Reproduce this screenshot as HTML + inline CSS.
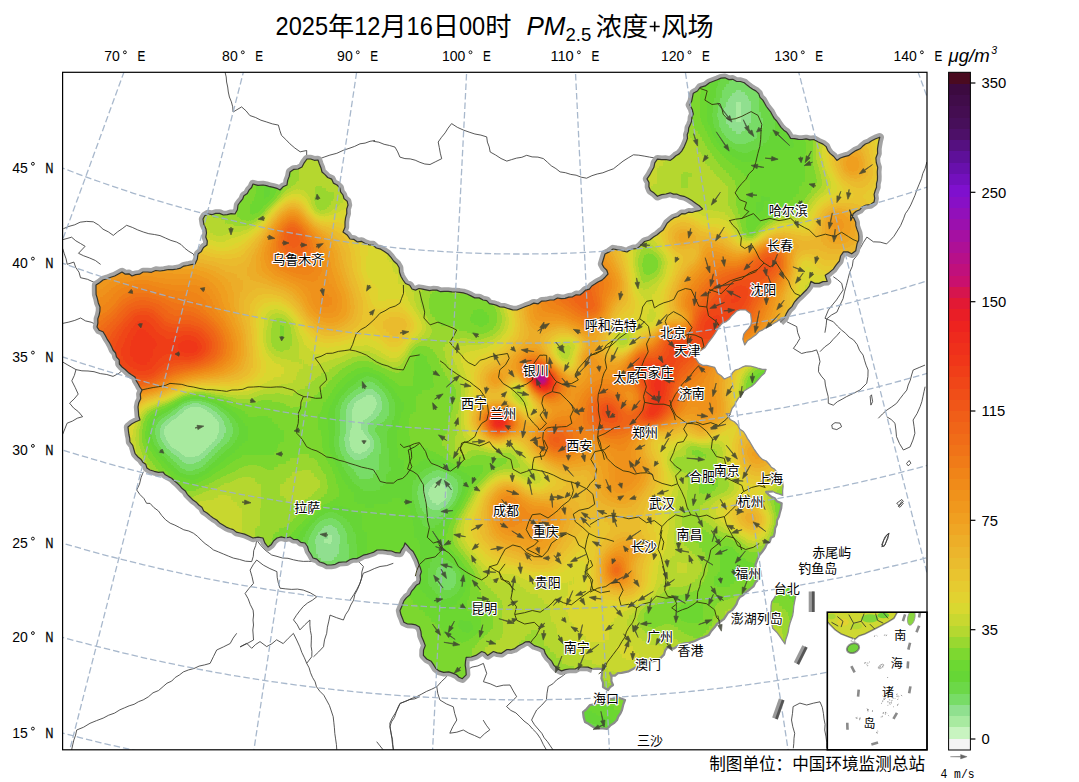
<!DOCTYPE html>
<html lang="zh"><head><meta charset="utf-8"><title>PM2.5浓度+风场</title>
<style>html,body{margin:0;padding:0;background:#fff}svg{display:block}text{fill:#000}.c{font-family:"Liberation Sans","Noto Sans CJK SC",sans-serif;font-size:13px;stroke:#fff;stroke-width:2.2px;stroke-linejoin:round;paint-order:stroke}.n{font-family:"Liberation Sans","Noto Sans CJK SC",sans-serif;font-size:12px}.t{font-family:"Liberation Sans","Noto Sans CJK SC",sans-serif;font-size:26.2px}</style></head>
<body>
<svg width="1079" height="782" viewBox="0 0 1079 782">
<defs>
<clipPath id="frame"><rect x="62.6" y="72.3" width="864.4" height="677.5"/></clipPath>
<clipPath id="insetclip"><rect x="827.3" y="612.2" width="99.70000000000005" height="137.5999999999999"/></clipPath><clipPath id="insetland"><path d="M825.8,610.8 L897.7,610.8 L893.8,618.0 L887.5,621.9 L879.8,626.1 L872.2,629.9 L864.5,633.8 L858.7,635.7 L854.9,638.8 L849.2,636.8 L841.5,633.8 L835.7,629.9 L830.0,624.2 L825.8,619.4Z"/></clipPath>
<clipPath id="china"><path d="M96.0,285.0 L99.6,282.7 L103.0,280.0 L107.0,278.8 L110.8,277.3 L114.7,276.0 L118.4,274.0 L122.0,272.0 L125.0,274.1 L129.0,273.8 L132.0,276.0 L135.6,274.6 L139.6,274.2 L143.0,272.0 L147.3,272.0 L151.5,272.3 L155.7,270.5 L160.0,271.0 L164.2,270.4 L168.4,269.5 L172.8,269.6 L177.0,269.0 L180.6,268.1 L183.9,266.1 L187.6,265.5 L191.3,264.6 L195.0,264.0 L197.3,259.2 L198.0,254.0 L201.4,251.4 L203.5,247.5 L207.0,245.0 L207.3,241.0 L205.8,237.0 L206.5,233.0 L206.0,229.0 L203.8,224.2 L203.0,219.0 L204.8,215.8 L208.0,214.0 L211.9,214.7 L215.7,213.4 L219.6,213.4 L223.4,215.0 L227.3,214.7 L231.1,213.6 L235.0,214.0 L237.4,209.8 L238.0,205.0 L240.2,202.0 L242.6,199.2 L243.9,195.7 L247.3,193.5 L249.0,190.2 L251.6,187.5 L253.0,184.0 L257.9,185.3 L263.0,185.0 L266.5,185.6 L269.9,186.7 L273.4,187.4 L276.8,188.3 L280.0,190.0 L283.0,186.8 L287.0,185.0 L287.6,180.6 L289.2,176.4 L290.0,172.0 L293.6,169.4 L298.1,169.0 L302.0,167.0 L304.2,162.8 L307.0,159.0 L310.7,159.0 L314.3,160.3 L318.0,160.0 L319.4,164.0 L321.0,167.9 L322.0,172.0 L325.0,174.6 L327.7,177.5 L331.6,179.1 L333.4,183.1 L337.0,185.0 L339.8,187.8 L340.6,191.9 L343.0,195.0 L344.0,198.6 L347.2,201.2 L348.0,205.0 L346.7,209.1 L346.8,213.5 L345.6,217.7 L345.0,222.0 L345.0,227.2 L343.0,232.0 L347.1,234.9 L350.0,239.0 L354.0,239.4 L357.4,241.9 L361.7,241.4 L365.2,243.5 L368.9,244.8 L373.0,245.0 L376.3,248.0 L380.7,249.2 L384.4,251.5 L388.0,254.0 L391.0,257.4 L393.6,261.0 L397.0,264.0 L399.2,267.7 L399.5,272.2 L400.9,276.2 L403.0,280.0 L405.5,283.5 L409.7,285.3 L412.0,289.0 L415.5,290.1 L419.0,288.5 L422.5,289.2 L426.0,289.9 L429.5,290.7 L433.0,290.0 L436.8,290.1 L440.5,291.7 L444.3,291.4 L448.2,291.4 L451.9,291.9 L455.7,292.0 L459.5,292.3 L463.3,292.9 L467.0,294.0 L470.9,295.9 L474.7,297.9 L479.2,297.9 L483.0,300.0 L486.7,300.6 L489.4,303.7 L493.2,304.3 L496.7,305.4 L500.0,307.0 L504.3,307.2 L508.5,308.7 L512.6,309.9 L517.0,310.0 L521.3,308.3 L525.6,306.5 L530.0,305.0 L533.8,303.1 L538.2,303.8 L541.8,301.1 L546.0,301.0 L550.0,300.0 L553.9,300.0 L557.4,298.0 L561.3,298.6 L565.1,298.4 L568.8,297.1 L572.6,296.8 L576.1,294.8 L580.0,295.0 L582.9,292.7 L585.6,290.1 L589.4,289.1 L591.8,286.0 L594.9,284.1 L598.0,282.0 L602.0,280.1 L605.1,277.2 L608.0,274.0 L606.8,270.2 L603.9,267.4 L602.0,264.0 L603.5,259.0 L605.0,254.0 L609.2,251.9 L613.0,249.0 L616.5,249.7 L620.1,250.1 L623.5,251.1 L627.0,252.0 L630.0,249.9 L633.4,248.8 L637.2,248.5 L640.0,246.1 L644.6,241.5 L649.7,240.0 L653.9,236.8 L657.2,234.7 L660.1,232.2 L663.2,229.9 L665.2,226.6 L667.1,223.2 L670.1,220.6 L673.7,217.9 L678.1,216.5 L681.7,213.7 L685.3,213.8 L688.6,212.2 L692.2,212.5 L695.6,211.3 L699.3,210.7 L702.6,209.0 L699.3,205.8 L695.6,203.2 L691.9,200.6 L688.1,198.2 L684.0,196.3 L680.5,195.7 L677.1,194.2 L673.5,194.1 L670.1,192.8 L665.9,194.0 L661.5,194.6 L657.4,196.3 L654.1,193.1 L650.4,190.5 L648.9,186.7 L649.0,182.5 L647.0,178.9 L649.6,175.2 L651.7,171.2 L653.9,167.3 L654.8,162.9 L657.4,159.2 L661.6,159.7 L665.9,159.5 L670.1,160.4 L673.2,158.3 L675.9,155.7 L679.2,153.9 L681.7,151.1 L684.3,146.6 L686.3,141.8 L687.5,138.4 L687.2,134.8 L688.4,131.4 L688.7,127.9 L690.3,124.6 L691.6,121.2 L691.9,117.4 L693.3,114.0 L692.2,109.2 L689.8,104.8 L691.7,101.1 L692.5,97.2 L693.3,93.2 L697.4,91.0 L700.2,87.4 L705.3,85.9 L709.5,82.7 L713.4,81.2 L717.3,79.7 L721.1,78.1 L725.0,77.8 L728.8,79.6 L732.7,79.3 L736.3,81.3 L740.4,81.5 L744.3,82.7 L747.0,85.1 L749.8,87.2 L752.7,89.2 L755.8,90.9 L758.7,93.6 L760.0,97.4 L762.8,100.1 L764.6,103.3 L766.4,106.5 L768.6,109.4 L770.8,112.2 L772.4,115.3 L774.2,118.4 L776.7,121.0 L778.8,124.2 L781.0,127.4 L783.7,130.2 L786.7,132.3 L788.8,135.2 L790.6,138.4 L794.5,138.6 L798.3,139.4 L802.2,139.5 L806.1,138.9 L809.9,139.9 L813.8,139.5 L818.3,142.0 L823.0,144.1 L826.1,146.6 L827.7,150.3 L830.0,153.4 L833.8,156.5 L836.9,160.4 L840.4,158.0 L844.4,156.6 L848.5,155.7 L852.2,153.1 L855.9,150.6 L860.1,148.8 L862.6,146.3 L865.4,144.0 L868.8,142.7 L871.7,140.7 L875.7,138.7 L879.8,137.2 L878.8,141.0 L878.1,144.9 L877.5,148.8 L877.6,153.5 L875.9,158.0 L876.3,162.7 L877.7,167.2 L877.3,172.0 L877.5,176.6 L877.4,180.1 L876.5,183.6 L876.5,187.2 L875.2,190.5 L874.1,194.3 L874.7,198.3 L874.0,202.1 L870.5,204.5 L866.2,205.0 L862.4,206.7 L859.8,209.7 L856.2,211.3 L853.2,213.7 L852.3,217.3 L850.8,220.6 L850.6,217.0 L850.9,213.4 L849.6,210.0 L851.1,214.4 L853.8,218.1 L855.7,222.2 L855.9,225.9 L857.0,229.4 L858.3,232.9 L858.8,236.5 L858.7,240.2 L857.1,243.6 L856.4,247.2 L855.7,250.8 L851.7,253.8 L847.8,251.9 L843.5,251.8 L840.6,256.0 L839.4,261.0 L836.2,264.9 L833.3,269.1 L829.4,272.4 L825.2,275.2 L827.2,281.4 L822.9,281.6 L819.0,283.4 L814.7,283.4 L810.9,281.4 L809.5,285.8 L806.8,289.5 L803.7,292.5 L800.7,295.6 L797.5,298.5 L794.6,301.8 L792.1,306.3 L788.5,309.9 L786.2,313.9 L784.4,318.1 L780.3,322.1 L784.6,317.7 L780.4,319.0 L776.8,321.6 L773.1,323.8 L769.1,325.5 L765.9,327.6 L762.8,329.8 L759.3,331.3 L755.7,335.0 L751.5,338.1 L747.4,340.8 L744.7,344.9 L742.8,339.1 L743.8,334.2 L746.0,331.1 L748.6,328.4 L750.9,324.8 L751.5,320.6 L750.6,313.8 L745.7,309.9 L739.9,309.9 L736.5,311.2 L734.0,313.8 L731.3,316.3 L729.1,319.3 L726.2,321.6 L722.2,323.2 L719.4,326.4 L717.0,330.3 L714.6,334.2 L711.8,338.2 L708.7,342.0 L704.8,347.8 L699.0,351.7 L697.4,354.8 L695.1,357.6 L699.0,363.4 L702.7,365.3 L706.8,365.4 L710.7,366.3 L714.6,367.3 L717.5,373.2 L721.2,375.8 L724.3,379.0 L727.7,377.5 L731.1,376.1 L732.4,372.7 L735.0,370.2 L738.7,369.0 L742.1,367.2 L745.7,365.8 L750.6,366.1 L755.4,367.3 L758.9,368.5 L762.4,369.3 L766.1,369.3 L764.5,373.3 L761.3,376.1 L758.3,379.5 L755.4,382.9 L751.8,386.2 L747.6,388.7 L744.1,391.0 L741.8,394.6 L738.4,398.1 L736.0,402.3 L734.5,405.5 L732.1,408.2 L730.1,414.0 L726.2,413.6 L728.5,416.3 L730.1,419.5 L734.4,421.8 L737.9,425.3 L739.7,429.1 L743.4,431.5 L745.7,435.0 L747.4,438.4 L749.6,441.5 L751.5,444.8 L753.9,448.8 L756.5,452.6 L759.3,456.4 L762.3,459.4 L766.3,461.0 L769.1,464.2 L771.3,467.2 L774.5,469.1 L776.8,472.0 L778.7,475.3 L781.0,478.3 L782.7,481.7 L783.1,486.3 L782.6,490.8 L782.7,495.4 L779.4,494.2 L776.1,493.1 L772.9,491.5 L766.1,491.9 L768.5,494.6 L771.3,496.7 L774.7,498.2 L776.8,501.2 L781.7,503.2 L781.2,508.1 L779.8,512.9 L778.9,516.8 L777.0,520.5 L776.8,524.6 L775.1,528.3 L774.8,532.3 L773.9,536.2 L771.0,537.8 L769.9,541.5 L766.7,544.0 L765.2,547.5 L762.4,551.5 L759.3,555.3 L757.2,560.1 L755.4,565.0 L756.0,568.5 L757.1,571.9 L758.4,575.3 L759.3,578.7 L755.7,582.1 L753.5,586.4 L749.7,589.5 L745.7,592.3 L743.3,595.1 L740.0,597.0 L737.9,600.1 L736.5,604.2 L734.0,607.8 L731.7,610.7 L728.3,612.5 L726.2,615.6 L723.9,619.2 L720.4,621.5 L717.0,623.9 L714.6,627.3 L711.3,631.0 L708.7,635.1 L703.9,637.2 L699.0,639.0 L694.3,641.3 L689.3,642.9 L684.3,643.3 L679.5,644.8 L673.7,648.7 L667.8,646.8 L665.2,650.3 L664.0,654.6 L660.5,658.1 L656.2,660.4 L652.3,661.4 L648.4,662.3 L643.5,664.2 L638.7,666.2 L635.3,667.7 L632.0,669.5 L628.7,671.3 L625.0,672.1 L621.6,672.8 L618.0,673.2 L615.0,675.6 L611.4,675.6 L610.0,673.0 L611.5,676.9 L611.4,681.2 L613.0,685.0 L610.1,687.1 L608.0,690.0 L603.0,687.0 L603.0,682.6 L601.4,678.4 L602.0,674.0 L602.4,669.0 L597.5,668.6 L592.7,669.0 L588.0,667.1 L582.9,667.0 L578.8,667.0 L575.2,669.0 L569.3,669.0 L565.3,669.6 L561.5,670.9 L557.1,668.7 L553.8,665.1 L551.4,660.8 L547.9,657.3 L545.4,653.7 L544.0,649.5 L539.3,647.3 L534.3,645.6 L529.4,641.7 L525.7,641.8 L522.6,643.7 L518.5,645.8 L514.8,648.6 L511.0,649.8 L507.0,649.5 L501.2,653.4 L497.2,652.9 L493.4,651.5 L487.6,655.4 L485.1,652.8 L481.7,651.5 L475.9,655.4 L471.2,657.0 L466.2,657.3 L465.5,661.2 L465.2,665.1 L465.9,669.9 L466.2,674.8 L462.3,678.7 L459.0,677.3 L456.4,674.8 L452.6,673.1 L448.7,671.9 L443.7,672.3 L438.9,670.9 L435.7,668.2 L433.5,664.6 L431.1,661.2 L426.7,659.0 L423.4,655.4 L423.5,650.3 L425.3,645.6 L423.5,640.7 L421.4,635.9 L420.9,631.4 L419.5,627.1 L415.9,624.9 L411.7,624.2 L407.6,624.0 L403.9,622.3 L402.5,618.4 L400.9,614.6 L400.0,610.6 L402.1,605.8 L403.9,600.9 L406.5,597.6 L409.8,594.9 L411.7,591.1 L414.1,588.4 L416.3,585.3 L419.5,583.4 L420.5,579.6 L420.1,575.5 L421.4,571.7 L420.3,567.7 L418.8,563.9 L417.5,560.0 L415.0,555.0 L413.1,551.5 L410.1,548.9 L407.7,545.8 L405.0,543.0 L403.8,546.5 L401.6,549.6 L400.0,553.0 L395.7,552.7 L391.6,551.0 L387.3,550.7 L383.0,550.0 L377.0,550.0 L373.9,552.1 L370.4,553.3 L366.9,554.4 L363.2,555.2 L360.0,557.0 L356.8,558.6 L353.1,558.6 L349.7,559.7 L346.6,561.8 L343.0,562.0 L338.9,562.4 L335.2,564.3 L331.1,565.0 L327.0,565.0 L323.6,563.1 L319.8,562.0 L316.8,559.1 L313.0,558.0 L311.0,554.3 L308.7,550.7 L307.5,546.5 L305.0,543.0 L300.9,542.4 L297.7,539.6 L293.4,539.3 L290.0,537.0 L285.7,538.0 L281.3,536.8 L277.0,538.0 L273.7,540.7 L271.4,544.4 L268.0,547.0 L264.8,542.9 L263.0,538.0 L258.0,537.1 L253.0,538.0 L248.8,536.0 L244.6,534.1 L240.0,533.0 L236.3,532.1 L233.3,529.6 L229.7,528.5 L226.2,527.1 L223.0,525.0 L219.6,522.9 L216.7,520.0 L213.2,518.0 L210.1,515.6 L207.0,513.0 L203.7,510.9 L201.9,507.3 L198.8,505.0 L196.2,502.2 L193.0,500.0 L190.0,497.0 L187.3,494.3 L185.3,490.9 L182.2,488.6 L179.7,485.7 L177.0,483.0 L174.3,480.7 L171.7,478.2 L168.5,476.6 L165.3,474.8 L163.0,472.0 L158.5,472.3 L154.2,471.3 L150.0,470.0 L146.9,468.0 L145.8,464.3 L142.8,462.2 L140.8,459.2 L138.0,457.0 L135.1,453.7 L133.9,449.5 L132.7,445.4 L130.0,442.0 L129.7,438.2 L128.9,434.5 L128.4,430.8 L128.0,427.0 L131.6,424.0 L135.7,421.7 L140.0,420.0 L138.7,415.8 L138.4,411.4 L138.0,407.0 L138.8,402.7 L140.7,398.7 L140.3,394.1 L142.0,390.0 L139.8,387.0 L138.1,383.7 L136.2,380.6 L135.0,377.0 L131.5,374.8 L128.2,372.4 L125.2,369.5 L122.0,367.0 L119.4,364.0 L119.2,359.8 L116.4,356.9 L115.6,353.0 L113.0,350.0 L111.3,346.1 L109.3,342.3 L107.0,338.8 L105.0,335.0 L103.0,331.7 L99.1,330.2 L97.0,327.0 L97.9,323.1 L97.8,318.9 L99.1,315.1 L99.9,311.1 L100.0,307.0 L98.3,302.9 L97.4,298.6 L96.1,294.5 L96.0,290.0Z M583.0,712.0 L586.8,708.8 L590.0,705.0 L594.4,704.4 L598.7,703.0 L603.0,702.0 L606.4,700.4 L609.8,698.8 L613.6,698.5 L617.0,697.0 L621.0,698.5 L625.0,700.0 L623.2,704.9 L622.0,710.0 L620.5,713.4 L618.3,716.5 L617.0,720.0 L613.9,723.2 L610.1,725.7 L607.0,729.0 L603.0,728.3 L599.0,728.5 L595.0,728.0 L591.7,726.0 L588.5,723.8 L585.0,722.0 L583.6,717.1Z M786.7,587.3 L781.8,590.5 L776.7,593.3 L774.5,597.7 L771.7,601.7 L771.0,606.1 L771.0,610.6 L770.0,615.0 L770.9,619.4 L771.9,623.8 L772.7,628.3 L776.7,632.2 L780.0,636.7 L782.5,640.4 L785.0,644.0 L785.7,639.8 L787.1,635.8 L788.3,631.7 L788.9,627.6 L789.9,623.6 L791.2,619.7 L792.6,615.8 L793.3,611.7 L793.7,606.6 L794.6,601.7 L795.7,596.7 L794.3,592.5 L792.7,588.3Z"/></clipPath>
<filter id="cm" filterUnits="userSpaceOnUse" x="50" y="60" width="900" height="700" color-interpolation-filters="sRGB"><feGaussianBlur stdDeviation="3.5"/><feComponentTransfer><feFuncR type="discrete" tableValues="0.957 0.784 0.659 0.565 0.471 0.424 0.400 0.424 0.490 0.600 0.710 0.788 0.851 0.886 0.902 0.914 0.918 0.925 0.929 0.937 0.941 0.941 0.941 0.941 0.941 0.941 0.941 0.941 0.941 0.941 0.941 0.941 0.941 0.941 0.941 0.937 0.933 0.929 0.914 0.886 0.839 0.788 0.753 0.718 0.682 0.647 0.608 0.573 0.533 0.498 0.451 0.408 0.369 0.333 0.302 0.278 0.267 0.251 0.235 0.290"/><feFuncG type="discrete" tableValues="0.957 0.957 0.918 0.878 0.863 0.847 0.839 0.847 0.847 0.847 0.847 0.847 0.847 0.824 0.796 0.769 0.737 0.710 0.682 0.651 0.624 0.596 0.573 0.545 0.518 0.486 0.451 0.424 0.396 0.369 0.337 0.306 0.275 0.243 0.212 0.188 0.165 0.137 0.118 0.098 0.082 0.063 0.063 0.063 0.063 0.063 0.063 0.063 0.063 0.063 0.063 0.063 0.063 0.063 0.063 0.059 0.051 0.047 0.039 0.039"/><feFuncB type="discrete" tableValues="0.957 0.753 0.627 0.561 0.404 0.282 0.212 0.196 0.188 0.188 0.188 0.188 0.188 0.188 0.188 0.184 0.180 0.173 0.157 0.141 0.125 0.114 0.106 0.098 0.094 0.094 0.094 0.094 0.094 0.094 0.094 0.094 0.094 0.094 0.098 0.106 0.114 0.122 0.149 0.204 0.306 0.431 0.486 0.537 0.588 0.635 0.682 0.729 0.776 0.808 0.741 0.675 0.600 0.502 0.408 0.353 0.318 0.286 0.251 0.125"/><feFuncA type="linear" slope="0" intercept="1"/></feComponentTransfer></filter>
<filter id="b1" filterUnits="userSpaceOnUse" x="0" y="0" width="1079" height="782" color-interpolation-filters="sRGB"><feGaussianBlur stdDeviation="5"/></filter>
<linearGradient id="cbar" x1="0" y1="0" x2="0" y2="1"><stop offset="0.0000" stop-color="#4a0a20"/><stop offset="0.0167" stop-color="#4a0a20"/><stop offset="0.0167" stop-color="#3c0a40"/><stop offset="0.0333" stop-color="#3c0a40"/><stop offset="0.0333" stop-color="#400c49"/><stop offset="0.0500" stop-color="#400c49"/><stop offset="0.0500" stop-color="#440d51"/><stop offset="0.0667" stop-color="#440d51"/><stop offset="0.0667" stop-color="#470f5a"/><stop offset="0.0833" stop-color="#470f5a"/><stop offset="0.0833" stop-color="#4d1068"/><stop offset="0.1000" stop-color="#4d1068"/><stop offset="0.1000" stop-color="#551080"/><stop offset="0.1167" stop-color="#551080"/><stop offset="0.1167" stop-color="#5e1099"/><stop offset="0.1333" stop-color="#5e1099"/><stop offset="0.1333" stop-color="#6810ac"/><stop offset="0.1500" stop-color="#6810ac"/><stop offset="0.1500" stop-color="#7310bd"/><stop offset="0.1667" stop-color="#7310bd"/><stop offset="0.1667" stop-color="#7f10ce"/><stop offset="0.1833" stop-color="#7f10ce"/><stop offset="0.1833" stop-color="#8810c6"/><stop offset="0.2000" stop-color="#8810c6"/><stop offset="0.2000" stop-color="#9210ba"/><stop offset="0.2167" stop-color="#9210ba"/><stop offset="0.2167" stop-color="#9b10ae"/><stop offset="0.2333" stop-color="#9b10ae"/><stop offset="0.2333" stop-color="#a510a2"/><stop offset="0.2500" stop-color="#a510a2"/><stop offset="0.2500" stop-color="#ae1096"/><stop offset="0.2667" stop-color="#ae1096"/><stop offset="0.2667" stop-color="#b71089"/><stop offset="0.2833" stop-color="#b71089"/><stop offset="0.2833" stop-color="#c0107c"/><stop offset="0.3000" stop-color="#c0107c"/><stop offset="0.3000" stop-color="#c9106e"/><stop offset="0.3167" stop-color="#c9106e"/><stop offset="0.3167" stop-color="#d6154e"/><stop offset="0.3333" stop-color="#d6154e"/><stop offset="0.3333" stop-color="#e21934"/><stop offset="0.3500" stop-color="#e21934"/><stop offset="0.3500" stop-color="#e91e26"/><stop offset="0.3667" stop-color="#e91e26"/><stop offset="0.3667" stop-color="#ed231f"/><stop offset="0.3833" stop-color="#ed231f"/><stop offset="0.3833" stop-color="#ee2a1d"/><stop offset="0.4000" stop-color="#ee2a1d"/><stop offset="0.4000" stop-color="#ef301b"/><stop offset="0.4167" stop-color="#ef301b"/><stop offset="0.4167" stop-color="#f03619"/><stop offset="0.4333" stop-color="#f03619"/><stop offset="0.4333" stop-color="#f03e18"/><stop offset="0.4500" stop-color="#f03e18"/><stop offset="0.4500" stop-color="#f04618"/><stop offset="0.4667" stop-color="#f04618"/><stop offset="0.4667" stop-color="#f04e18"/><stop offset="0.4833" stop-color="#f04e18"/><stop offset="0.4833" stop-color="#f05618"/><stop offset="0.5000" stop-color="#f05618"/><stop offset="0.5000" stop-color="#f05e18"/><stop offset="0.5167" stop-color="#f05e18"/><stop offset="0.5167" stop-color="#f06518"/><stop offset="0.5333" stop-color="#f06518"/><stop offset="0.5333" stop-color="#f06c18"/><stop offset="0.5500" stop-color="#f06c18"/><stop offset="0.5500" stop-color="#f07318"/><stop offset="0.5667" stop-color="#f07318"/><stop offset="0.5667" stop-color="#f07b18"/><stop offset="0.5833" stop-color="#f07b18"/><stop offset="0.5833" stop-color="#f08418"/><stop offset="0.6000" stop-color="#f08418"/><stop offset="0.6000" stop-color="#f08b19"/><stop offset="0.6167" stop-color="#f08b19"/><stop offset="0.6167" stop-color="#f0921b"/><stop offset="0.6333" stop-color="#f0921b"/><stop offset="0.6333" stop-color="#f0981d"/><stop offset="0.6500" stop-color="#f0981d"/><stop offset="0.6500" stop-color="#f09f20"/><stop offset="0.6667" stop-color="#f09f20"/><stop offset="0.6667" stop-color="#efa624"/><stop offset="0.6833" stop-color="#efa624"/><stop offset="0.6833" stop-color="#edae28"/><stop offset="0.7000" stop-color="#edae28"/><stop offset="0.7000" stop-color="#ecb52c"/><stop offset="0.7167" stop-color="#ecb52c"/><stop offset="0.7167" stop-color="#eabc2e"/><stop offset="0.7333" stop-color="#eabc2e"/><stop offset="0.7333" stop-color="#e9c42f"/><stop offset="0.7500" stop-color="#e9c42f"/><stop offset="0.7500" stop-color="#e6cb30"/><stop offset="0.7667" stop-color="#e6cb30"/><stop offset="0.7667" stop-color="#e2d230"/><stop offset="0.7833" stop-color="#e2d230"/><stop offset="0.7833" stop-color="#d9d830"/><stop offset="0.8000" stop-color="#d9d830"/><stop offset="0.8000" stop-color="#c9d830"/><stop offset="0.8167" stop-color="#c9d830"/><stop offset="0.8167" stop-color="#b5d830"/><stop offset="0.8333" stop-color="#b5d830"/><stop offset="0.8333" stop-color="#99d830"/><stop offset="0.8500" stop-color="#99d830"/><stop offset="0.8500" stop-color="#7dd830"/><stop offset="0.8667" stop-color="#7dd830"/><stop offset="0.8667" stop-color="#6cd832"/><stop offset="0.8833" stop-color="#6cd832"/><stop offset="0.8833" stop-color="#66d636"/><stop offset="0.9000" stop-color="#66d636"/><stop offset="0.9000" stop-color="#6cd848"/><stop offset="0.9167" stop-color="#6cd848"/><stop offset="0.9167" stop-color="#78dc67"/><stop offset="0.9333" stop-color="#78dc67"/><stop offset="0.9333" stop-color="#90e08f"/><stop offset="0.9500" stop-color="#90e08f"/><stop offset="0.9500" stop-color="#a8eaa0"/><stop offset="0.9667" stop-color="#a8eaa0"/><stop offset="0.9667" stop-color="#c8f4c0"/><stop offset="0.9833" stop-color="#c8f4c0"/><stop offset="0.9833" stop-color="#f4f4f4"/><stop offset="1.0000" stop-color="#f4f4f4"/></linearGradient>
</defs>
<rect width="1079" height="782" fill="#fff"/>
<g clip-path="url(#frame)">
<path d="M225.0,72.0 L226.2,76.9 L226.6,82.0 L227.7,87.0 L228.3,92.0 L229.4,97.0 L231.4,101.9 L232.7,106.8 L233.1,112.0 L241.6,106.9 L246.1,110.9 L249.8,115.5 L255.6,117.5 L260.9,120.2 L266.7,122.0 L272.4,123.9 L278.4,125.1 L279.8,130.4 L281.5,135.4 L285.8,139.5 L289.9,143.8 L294.8,148.0 L300.2,151.8 L306.7,150.5 L306.6,158.7" fill="none" stroke="#3a3a3a" stroke-width="0.85" stroke-linejoin="round"/>
<path d="M318.3,159.3 L324.1,157.1 L329.9,155.1 L336.8,153.3 L343.3,150.3 L349.0,148.4 L354.6,146.4 L360.0,143.8 L365.1,143.1 L370.0,141.3 L375.0,140.5" fill="none" stroke="#3a3a3a" stroke-width="0.85" stroke-linejoin="round"/>
<path d="M63.3,228.7 L68.9,226.4 L74.7,224.8 L80.1,222.2 L86.7,221.4 L93.3,221.8 L98.6,225.0 L103.0,229.2 L108.4,231.9 L113.3,235.4 L117.6,231.8 L122.2,228.7 L126.6,225.3 L132.3,227.4 L137.7,229.9 L143.3,232.0 L148.8,233.7 L154.4,234.5 L160.0,235.6 L165.4,238.0 L170.9,240.4 L176.6,242.1 L181.1,244.5 L184.7,248.2 L188.8,251.3 L193.2,253.9 L195.7,258.7 L198.2,263.7" fill="none" stroke="#3a3a3a" stroke-width="0.85" stroke-linejoin="round"/>
<path d="M62.7,239.7 L71.6,237.2 L75.8,240.8 L80.5,243.5 L85.1,246.3 L78.5,253.3 L83.7,255.8 L89.4,257.9 L95.4,260.5 L100.6,264.4" fill="none" stroke="#3a3a3a" stroke-width="0.85" stroke-linejoin="round"/>
<path d="M62.7,248.6 L64.3,253.8 L66.1,258.9 L67.2,264.3 L73.9,262.1 L75.7,267.4 L79.0,272.2 L80.5,277.7 L87.5,279.3 L94.0,282.3 L100.0,283.9" fill="none" stroke="#3a3a3a" stroke-width="0.85" stroke-linejoin="round"/>
<path d="M62.7,323.4 L68.8,322.1 L74.8,320.4 L80.6,318.0 L85.5,320.9 L91.1,322.2 L96.3,324.5 L100.0,327.0" fill="none" stroke="#3a3a3a" stroke-width="0.85" stroke-linejoin="round"/>
<path d="M76.0,369.5 L74.4,375.3 L71.8,380.8 L75.1,387.3 L78.2,394.1 L74.2,398.9 L69.6,403.2 L73.5,407.9 L78.5,411.8 L82.6,416.7 L77.3,418.2 L72.4,421.1 L67.1,423.2 L64.9,428.8 L62.6,434.4" fill="none" stroke="#3a3a3a" stroke-width="0.85" stroke-linejoin="round"/>
<path d="M62.7,362.0 L67.1,364.6 L71.5,367.1 L76.0,369.6 L81.9,370.8 L88.0,371.0 L94.0,371.7 L100.3,373.6 L106.8,374.5 L113.0,376.4 L118.9,373.3 L124.0,369.0" fill="none" stroke="#3a3a3a" stroke-width="0.85" stroke-linejoin="round"/>
<path d="M143.3,471.7 L141.0,477.8 L139.5,484.1 L136.7,490.0 L139.9,494.5 L143.9,498.5 L146.6,503.3 L150.0,503.4" fill="none" stroke="#3a3a3a" stroke-width="0.85" stroke-linejoin="round"/>
<path d="M373.3,141.3 L378.9,142.2 L384.1,144.3 L389.6,145.5 L395.0,147.1 L397.7,151.9 L399.9,157.1 L404.9,158.6 L410.2,158.9 L415.2,160.2 L419.9,162.3 L424.8,164.0 L430.0,164.5 L435.8,161.6 L441.7,158.7 L440.3,153.2 L439.3,147.6 L438.2,142.0 L441.5,137.3 L445.1,132.9 L448.1,128.1 L451.6,123.6 L457.3,127.3 L463.5,130.1 L469.1,132.1 L474.9,134.0 L480.9,135.1 L486.7,136.9 L487.4,142.1 L489.2,146.9 L490.2,152.0 L495.6,155.0 L501.0,158.5 L506.8,161.1 L511.6,159.6 L516.6,158.1 L521.8,157.3 L526.7,155.3 L532.1,156.9 L537.9,157.1 L543.4,158.6 L547.4,162.2 L551.3,165.8 L555.9,168.6 L560.1,171.9 L565.4,172.7 L570.7,174.4 L576.1,175.2 L581.2,177.2 L586.6,178.2 L591.9,175.7 L597.2,174.0 L602.8,172.8 L608.1,170.7 L613.4,168.8 L618.2,165.0 L623.0,161.2 L628.2,157.9 L633.4,154.8 L638.8,155.2 L644.2,156.1 L649.6,157.1 L655.0,158.0" fill="none" stroke="#3a3a3a" stroke-width="0.85" stroke-linejoin="round"/>
<path d="M860.0,248.7 L863.2,242.8 L866.9,237.1 L873.4,241.8 L880.1,242.1 L886.6,243.9 L890.4,240.1 L893.9,236.3 L896.6,232.0 L900.6,225.6 L903.5,218.8 L905.3,213.8 L908.3,209.5 L910.8,204.9 L912.9,200.1 L915.0,195.3 L916.9,189.7 L919.2,184.1 L921.5,178.6 L922.8,173.5 L925.0,168.7 L926.9,162.0" fill="none" stroke="#3a3a3a" stroke-width="0.85" stroke-linejoin="round"/>
<path d="M858.3,253.7 L853.2,260.2 L852.3,266.3 L849.8,271.9 L848.1,278.6 L846.4,285.3 L844.5,291.9 L843.1,298.6 L839.9,305.3 L836.9,312.1 L831.5,315.0 L826.8,318.8 L826.1,325.7 L824.9,332.7" fill="none" stroke="#3a3a3a" stroke-width="0.85" stroke-linejoin="round"/>
<path d="M786.7,321.7 L791.7,324.2 L796.7,326.6 L797.7,332.7 L799.9,338.4 L796.9,343.5 L793.4,348.4 L801.6,353.5 L806.7,352.2 L811.8,351.5 L816.6,349.9 L818.7,355.7 L820.0,361.7 L818.7,366.6 L818.5,371.7 L821.3,376.1 L824.8,380.1 L825.4,385.1 L826.5,390.0 L828.2,396.6 L828.3,403.3 L833.3,405.2 L837.4,401.7 L842.1,399.2 L846.6,396.6 L853.4,393.4 L860.0,390.0 L866.7,383.3 L867.9,376.7 L868.1,370.0 L866.1,365.2 L864.5,360.2 L863.1,355.1 L859.5,350.3 L857.2,344.6 L853.5,339.9 L849.1,337.1 L845.6,333.3 L841.6,330.1 L837.3,326.0 L833.3,321.7 L825.0,318.3 L828.4,310.0 L832.4,304.9 L836.5,299.9 L839.8,294.9 L843.2,289.9 L841.7,283.3 L837.7,279.8 L833.3,276.7" fill="none" stroke="#3a3a3a" stroke-width="0.85" stroke-linejoin="round"/>
<path d="M820.0,351.7 L824.6,347.0 L829.9,343.2 L833.2,339.3 L836.8,335.7 L840.1,331.8" fill="none" stroke="#3a3a3a" stroke-width="0.85" stroke-linejoin="round"/>
<path d="M878.3,418.3 L882.4,414.0 L886.8,410.1 L891.8,406.8 L896.6,403.3 L899.9,398.8 L903.3,394.4 L906.8,390.1 L908.2,385.0 L910.3,380.1 L911.6,375.0 L913.2,370.0 L919.2,367.5 L925.0,365.1" fill="none" stroke="#3a3a3a" stroke-width="0.85" stroke-linejoin="round"/>
<path d="M886.7,416.7 L891.2,419.5 L895.0,423.3 L895.9,430.0 L896.5,436.7 L899.5,443.6 L903.4,450.0 L910.1,446.9 L912.9,440.1 L914.9,433.3 L914.1,426.7 L913.1,420.0 L917.1,413.5 L920.1,406.7 L921.8,401.8 L922.9,396.8 L924.0,391.7 L925.1,386.7" fill="none" stroke="#3a3a3a" stroke-width="0.85" stroke-linejoin="round"/>
<path d="M831.7,425.0 L835.0,422.7 L840.0,423.1 L841.6,426.7 L836.8,429.6 L832.3,428.5 L831.8,425.0" fill="none" stroke="#3a3a3a" stroke-width="0.85" stroke-linejoin="round"/>
<path d="M870.0,396.7 L871.5,394.8 L872.6,401.6 L870.9,405.1 L870.2,396.6" fill="none" stroke="#3a3a3a" stroke-width="0.85" stroke-linejoin="round"/>
<path d="M906.7,463.3 L909.2,460.5 L910.9,463.2 L908.2,465.9 L906.5,463.4" fill="none" stroke="#3a3a3a" stroke-width="0.85" stroke-linejoin="round"/>
<path d="M896.7,503.3 L901.8,499.5 L903.3,501.4 L899.2,505.9 L896.8,503.2" fill="none" stroke="#3a3a3a" stroke-width="0.85" stroke-linejoin="round"/>
<path d="M881.7,545.0 L885.0,536.7 L888.5,533.5 L887.9,538.4 L883.9,546.6 L881.7,545.0" fill="none" stroke="#3a3a3a" stroke-width="0.85" stroke-linejoin="round"/>
<path d="M150.0,503.3 L153.8,507.5 L158.4,510.9 L161.8,515.6 L165.6,519.8 L170.2,523.2 L174.8,525.1 L179.3,527.4 L183.8,529.8 L188.8,531.0 L193.4,533.2 L197.6,536.4 L201.2,540.1 L205.1,543.6 L209.4,546.6 L213.4,549.9 L218.4,551.9 L223.4,554.0 L228.4,556.1 L233.4,558.1 L239.4,559.4 L245.4,561.2 L251.7,561.6 L253.3,556.3 L253.7,550.7 L255.7,545.5 L256.8,540.0" fill="none" stroke="#3a3a3a" stroke-width="0.85" stroke-linejoin="round"/>
<path d="M256.7,540.0 L260.6,545.2 L265.0,550.0 L271.7,555.0 L277.0,556.4 L282.4,558.0 L288.0,558.3 L293.4,559.8 L298.3,560.8 L303.3,561.4 L308.3,561.3 L313.3,561.6" fill="none" stroke="#3a3a3a" stroke-width="0.85" stroke-linejoin="round"/>
<path d="M256.7,560.0 L253.1,564.8 L250.1,570.1 L252.0,576.6 L253.5,583.3 L249.1,588.3 L245.1,593.4 L248.1,598.7 L250.3,604.6 L253.1,610.1 L253.6,615.0 L253.0,620.0 L253.5,625.0 L252.8,630.0 L253.2,635.0 L253.5,640.0 L246.8,643.7 L240.1,646.9 L246.7,643.3 L251.7,648.3 L255.5,644.6 L260.0,641.6 L266.7,646.6 L271.9,643.7 L276.6,639.8 L283.2,643.6 L288.3,638.3 L293.4,633.4 L296.7,640.0 L299.8,646.8 L301.8,652.4 L304.4,657.8 L306.7,663.3 L311.8,656.7 L311.9,651.4 L311.1,646.2 L311.3,640.9 L311.4,635.7 L310.4,630.5 L309.9,625.3 L309.9,620.0 L304.8,624.8 L299.9,629.9 L297.2,624.6 L293.5,619.9 L296.4,615.3 L299.7,610.9 L303.2,606.6 L307.5,603.0 L312.4,600.2 L316.8,596.8 L310.3,592.8 L303.3,590.1 L297.5,589.1 L291.6,589.4 L285.8,588.9 L280.0,588.2 L278.3,582.9 L277.2,577.3 L276.9,571.6 L269.9,568.6 L263.3,565.1 L256.7,560.0" fill="none" stroke="#3a3a3a" stroke-width="0.85" stroke-linejoin="round"/>
<path d="M236.7,633.3 L233.1,638.2 L230.2,643.5 L223.4,646.9 L216.7,650.0 L213.4,656.7 L210.1,663.4 L204.6,664.9 L199.1,666.1 L194.0,668.5 L188.6,669.9 L183.4,671.9 L179.5,674.9 L175.2,677.5 L171.7,681.1 L167.0,683.2 L163.2,686.5 L158.6,690.5 L153.0,692.8 L148.4,696.8 L143.2,699.9 L138.5,701.7 L134.1,704.3 L129.2,705.8 L124.6,707.8 L119.9,709.8 L114.6,713.1 L108.7,715.2 L103.2,718.1 L96.6,720.6 L90.0,723.3 L83.6,727.2 L76.7,730.0 L75.6,735.1 L73.9,739.9 L72.7,744.9 L71.6,750.0" fill="none" stroke="#3a3a3a" stroke-width="0.85" stroke-linejoin="round"/>
<path d="M306.7,663.3 L309.1,667.8 L310.5,672.7 L312.5,677.4 L315.1,681.8 L316.5,686.8 L319.8,691.2 L323.8,695.2 L326.5,700.1 L329.4,705.4 L331.3,711.0 L333.2,716.7 L333.8,722.2 L334.4,727.8 L334.8,733.4 L335.6,738.9 L336.4,744.4 L336.8,750.0" fill="none" stroke="#3a3a3a" stroke-width="0.85" stroke-linejoin="round"/>
<path d="M393.3,563.3 L386.8,565.6 L380.0,566.5 L374.3,568.6 L368.9,571.1 L363.3,573.2 L361.5,578.7 L359.6,584.1 L357.5,589.4 L354.8,594.5 L353.6,600.1 L350.8,605.0 L348.6,610.2 L345.5,614.8 L343.4,620.0 L336.6,617.7 L330.0,615.1 L328.8,621.1 L327.4,627.2 L326.7,633.3 L324.5,639.9 L323.5,646.7 L318.6,651.9 L313.5,656.8" fill="none" stroke="#3a3a3a" stroke-width="0.85" stroke-linejoin="round"/>
<path d="M419.7,696.7 L414.9,698.8 L409.7,699.6 L404.8,701.4 L400.1,703.5 L397.9,708.5 L395.1,713.4 L392.2,718.2 L389.8,723.3 L390.3,728.7 L391.2,734.0 L392.5,739.3 L392.8,744.6 L393.5,750.0" fill="none" stroke="#3a3a3a" stroke-width="0.85" stroke-linejoin="round"/>
<path d="M376.7,741.7 L380.0,745.9 L383.3,750.0" fill="none" stroke="#3a3a3a" stroke-width="0.85" stroke-linejoin="round"/>
<path d="M571.7,668.3 L566.9,672.6 L561.9,676.4 L556.6,679.9 L552.9,683.8 L548.2,686.5 L547.0,693.3 L546.4,700.0 L541.8,705.1 L536.6,710.0 L534.1,714.9 L531.6,720.0 L534.5,724.8 L538.1,729.0 L541.8,733.3 L544.2,737.8 L547.5,741.7 L550.3,745.9 L553.2,750.1" fill="none" stroke="#3a3a3a" stroke-width="0.85" stroke-linejoin="round"/>
<path d="M466.7,670.0 L472.0,667.1 L477.9,665.9 L483.4,663.4 L485.0,668.3 L486.7,673.3 L483.4,681.7 L490.2,683.8 L496.7,686.7 L503.3,685.2 L510.0,685.0 L513.2,690.9 L516.7,696.7 L511.6,701.6 L506.5,706.5 L510.8,710.4 L515.9,712.9 L519.9,716.8 L524.0,721.0 L528.8,724.6 L532.6,729.0 L536.8,733.2 L540.5,738.6 L543.3,744.5 L546.5,750.1" fill="none" stroke="#3a3a3a" stroke-width="0.85" stroke-linejoin="round"/>
<path d="M438.3,666.7 L442.7,671.5 L446.5,676.8 L441.5,681.5 L436.8,686.8 L437.8,693.5 L439.9,700.0 L446.4,703.9 L453.3,706.8 L454.7,713.4 L456.8,720.0 L452.9,726.5 L449.8,733.2 L456.8,732.2 L463.3,730.0 L468.7,733.1 L474.5,735.5 L480.1,738.1 L484.6,733.7 L489.8,729.8 L486.3,725.2 L483.2,720.1" fill="none" stroke="#3a3a3a" stroke-width="0.85" stroke-linejoin="round"/>
<path d="M436.7,686.7 L431.7,689.2 L426.5,691.4 L421.6,694.1 L416.7,696.7 L411.0,698.7 L405.7,701.4 L400.0,703.4 L397.7,707.9 L396.1,712.7 L394.4,717.5 L391.5,721.8 L389.9,726.6 L391.0,732.5 L391.8,738.3 L392.5,744.2 L393.3,750.0" fill="none" stroke="#3a3a3a" stroke-width="0.85" stroke-linejoin="round"/>
<path d="M350.0,555.0 L354.7,558.6 L359.3,562.3 L363.4,566.5 L361.8,572.1 L361.6,577.9 L360.0,583.3 L357.0,589.1 L353.7,594.7 L350.2,600.1" fill="none" stroke="#3a3a3a" stroke-width="0.85" stroke-linejoin="round"/>
<path d="M793.3,748.3 L793.8,743.3 L794.0,738.3 L794.7,733.3 L792.8,726.8 L791.5,720.0 L792.5,713.3 L793.1,706.6 L799.9,703.1 L806.7,705.0 L813.3,703.2 L820.0,701.8 L822.3,707.3 L823.4,713.3 L824.0,718.9 L825.1,724.4 L824.7,730.0 L825.9,736.1 L826.7,742.2 L826.7,748.3" fill="none" stroke="#3a3a3a" stroke-width="0.85" stroke-linejoin="round"/>
<path d="M886.7,535.0 L889.2,533.2 L887.0,539.1 L885.1,545.0 L881.8,546.9 L883.6,540.6 L886.8,535.1" fill="none" stroke="#3a3a3a" stroke-width="0.85" stroke-linejoin="round"/>
<path d="M898.3,506.7 L901.6,501.6 L903.2,503.4 L900.0,507.3 L898.4,506.4" fill="none" stroke="#3a3a3a" stroke-width="0.85" stroke-linejoin="round"/>
<path d="M592.7,669.0 L588.0,667.1 L582.9,667.0 L578.8,667.0 L575.2,669.0 L569.3,669.0 L565.3,669.6 L561.5,670.9 L557.1,668.7 L553.8,665.1 L551.4,660.8 L547.9,657.3 L545.4,653.7 L544.0,649.5 L539.3,647.3 L534.3,645.6 L529.4,641.7 L525.7,641.8 L522.6,643.7 L518.5,645.8 L514.8,648.6 L511.0,649.8 L507.0,649.5 L501.2,653.4 L497.2,652.9 L493.4,651.5 L487.6,655.4 L485.1,652.8 L481.7,651.5 L475.9,655.4 L471.2,657.0 L466.2,657.3 L465.5,661.2 L465.2,665.1 L465.9,669.9 L466.2,674.8 L462.3,678.7 L459.0,677.3 L456.4,674.8 L452.6,673.1 L448.7,671.9 L443.7,672.3 L438.9,670.9 L435.7,668.2 L433.5,664.6 L431.1,661.2 L426.7,659.0 L423.4,655.4 L423.5,650.3 L425.3,645.6 L423.5,640.7 L421.4,635.9 L420.9,631.4 L419.5,627.1 L415.9,624.9 L411.7,624.2 L407.6,624.0 L403.9,622.3 L402.5,618.4 L400.9,614.6 L400.0,610.6 L402.1,605.8 L403.9,600.9 L406.5,597.6 L409.8,594.9 L411.7,591.1 L414.1,588.4 L416.3,585.3 L419.5,583.4 L420.5,579.6 L420.1,575.5 L421.4,571.7 L420.3,567.7 L418.8,563.9 L417.5,560.0 L415.0,555.0 L413.1,551.5 L410.1,548.9 L407.7,545.8 L405.0,543.0 L403.8,546.5 L401.6,549.6 L400.0,553.0 L395.7,552.7 L391.6,551.0 L387.3,550.7 L383.0,550.0 L377.0,550.0 L373.9,552.1 L370.4,553.3 L366.9,554.4 L363.2,555.2 L360.0,557.0 L356.8,558.6 L353.1,558.6 L349.7,559.7 L346.6,561.8 L343.0,562.0 L338.9,562.4 L335.2,564.3 L331.1,565.0 L327.0,565.0 L323.6,563.1 L319.8,562.0 L316.8,559.1 L313.0,558.0 L311.0,554.3 L308.7,550.7 L307.5,546.5 L305.0,543.0 L300.9,542.4 L297.7,539.6 L293.4,539.3 L290.0,537.0 L285.7,538.0 L281.3,536.8 L277.0,538.0 L273.7,540.7 L271.4,544.4 L268.0,547.0 L264.8,542.9 L263.0,538.0 L258.0,537.1 L253.0,538.0 L248.8,536.0 L244.6,534.1 L240.0,533.0 L236.3,532.1 L233.3,529.6 L229.7,528.5 L226.2,527.1 L223.0,525.0 L219.6,522.9 L216.7,520.0 L213.2,518.0 L210.1,515.6 L207.0,513.0 L203.7,510.9 L201.9,507.3 L198.8,505.0 L196.2,502.2 L193.0,500.0 L190.0,497.0 L187.3,494.3 L185.3,490.9 L182.2,488.6 L179.7,485.7 L177.0,483.0 L174.3,480.7 L171.7,478.2 L168.5,476.6 L165.3,474.8 L163.0,472.0 L158.5,472.3 L154.2,471.3 L150.0,470.0 L146.9,468.0 L145.8,464.3 L142.8,462.2 L140.8,459.2 L138.0,457.0 L135.1,453.7 L133.9,449.5 L132.7,445.4 L130.0,442.0 L129.7,438.2 L128.9,434.5 L128.4,430.8 L128.0,427.0 L131.6,424.0 L135.7,421.7 L140.0,420.0 L138.7,415.8 L138.4,411.4 L138.0,407.0 L138.8,402.7 L140.7,398.7 L140.3,394.1 L142.0,390.0 L139.8,387.0 L138.1,383.7 L136.2,380.6 L135.0,377.0 L131.5,374.8 L128.2,372.4 L125.2,369.5 L122.0,367.0 L119.4,364.0 L119.2,359.8 L116.4,356.9 L115.6,353.0 L113.0,350.0 L111.3,346.1 L109.3,342.3 L107.0,338.8 L105.0,335.0 L103.0,331.7 L99.1,330.2 L97.0,327.0 L97.9,323.1 L97.8,318.9 L99.1,315.1 L99.9,311.1 L100.0,307.0 L98.3,302.9 L97.4,298.6 L96.1,294.5 L96.0,290.0 L96.0,285.0 L99.6,282.7 L103.0,280.0 L107.0,278.8 L110.8,277.3 L114.7,276.0 L118.4,274.0 L122.0,272.0 L125.0,274.1 L129.0,273.8 L132.0,276.0 L135.6,274.6 L139.6,274.2 L143.0,272.0 L147.3,272.0 L151.5,272.3 L155.7,270.5 L160.0,271.0 L164.2,270.4 L168.4,269.5 L172.8,269.6 L177.0,269.0 L180.6,268.1 L183.9,266.1 L187.6,265.5 L191.3,264.6 L195.0,264.0 L197.3,259.2 L198.0,254.0 L201.4,251.4 L203.5,247.5 L207.0,245.0 L207.3,241.0 L205.8,237.0 L206.5,233.0 L206.0,229.0 L203.8,224.2 L203.0,219.0 L204.8,215.8 L208.0,214.0 L211.9,214.7 L215.7,213.4 L219.6,213.4 L223.4,215.0 L227.3,214.7 L231.1,213.6 L235.0,214.0 L237.4,209.8 L238.0,205.0 L240.2,202.0 L242.6,199.2 L243.9,195.7 L247.3,193.5 L249.0,190.2 L251.6,187.5 L253.0,184.0 L257.9,185.3 L263.0,185.0 L266.5,185.6 L269.9,186.7 L273.4,187.4 L276.8,188.3 L280.0,190.0 L283.0,186.8 L287.0,185.0 L287.6,180.6 L289.2,176.4 L290.0,172.0 L293.6,169.4 L298.1,169.0 L302.0,167.0 L304.2,162.8 L307.0,159.0 L310.7,159.0 L314.3,160.3 L318.0,160.0 L319.4,164.0 L321.0,167.9 L322.0,172.0 L325.0,174.6 L327.7,177.5 L331.6,179.1 L333.4,183.1 L337.0,185.0 L339.8,187.8 L340.6,191.9 L343.0,195.0 L344.0,198.6 L347.2,201.2 L348.0,205.0 L346.7,209.1 L346.8,213.5 L345.6,217.7 L345.0,222.0 L345.0,227.2 L343.0,232.0 L347.1,234.9 L350.0,239.0 L354.0,239.4 L357.4,241.9 L361.7,241.4 L365.2,243.5 L368.9,244.8 L373.0,245.0 L376.3,248.0 L380.7,249.2 L384.4,251.5 L388.0,254.0 L391.0,257.4 L393.6,261.0 L397.0,264.0 L399.2,267.7 L399.5,272.2 L400.9,276.2 L403.0,280.0 L405.5,283.5 L409.7,285.3 L412.0,289.0 L415.5,290.1 L419.0,288.5 L422.5,289.2 L426.0,289.9 L429.5,290.7 L433.0,290.0 L436.8,290.1 L440.5,291.7 L444.3,291.4 L448.2,291.4 L451.9,291.9 L455.7,292.0 L459.5,292.3 L463.3,292.9 L467.0,294.0 L470.9,295.9 L474.7,297.9 L479.2,297.9 L483.0,300.0 L486.7,300.6 L489.4,303.7 L493.2,304.3 L496.7,305.4 L500.0,307.0 L504.3,307.2 L508.5,308.7 L512.6,309.9 L517.0,310.0 L521.3,308.3 L525.6,306.5 L530.0,305.0 L533.8,303.1 L538.2,303.8 L541.8,301.1 L546.0,301.0 L550.0,300.0 L553.9,300.0 L557.4,298.0 L561.3,298.6 L565.1,298.4 L568.8,297.1 L572.6,296.8 L576.1,294.8 L580.0,295.0 L582.9,292.7 L585.6,290.1 L589.4,289.1 L591.8,286.0 L594.9,284.1 L598.0,282.0 L602.0,280.1 L605.1,277.2 L608.0,274.0 L606.8,270.2 L603.9,267.4 L602.0,264.0 L603.5,259.0 L605.0,254.0 L609.2,251.9 L613.0,249.0 L616.5,249.7 L620.1,250.1 L623.5,251.1 L627.0,252.0 L630.0,249.9 L633.4,248.8 L637.2,248.5 L640.0,246.1 L644.6,241.5 L649.7,240.0 L653.9,236.8 L657.2,234.7 L660.1,232.2 L663.2,229.9 L665.2,226.6 L667.1,223.2 L670.1,220.6 L673.7,217.9 L678.1,216.5 L681.7,213.7 L685.3,213.8 L688.6,212.2 L692.2,212.5 L695.6,211.3 L699.3,210.7 L702.6,209.0 L699.3,205.8 L695.6,203.2 L691.9,200.6 L688.1,198.2 L684.0,196.3 L680.5,195.7 L677.1,194.2 L673.5,194.1 L670.1,192.8 L665.9,194.0 L661.5,194.6 L657.4,196.3 L654.1,193.1 L650.4,190.5 L648.9,186.7 L649.0,182.5 L647.0,178.9 L649.6,175.2 L651.7,171.2 L653.9,167.3 L654.8,162.9 L657.4,159.2 L661.6,159.7 L665.9,159.5 L670.1,160.4 L673.2,158.3 L675.9,155.7 L679.2,153.9 L681.7,151.1 L684.3,146.6 L686.3,141.8 L687.5,138.4 L687.2,134.8 L688.4,131.4 L688.7,127.9 L690.3,124.6 L691.6,121.2 L691.9,117.4 L693.3,114.0 L692.2,109.2 L689.8,104.8 L691.7,101.1 L692.5,97.2 L693.3,93.2 L697.4,91.0 L700.2,87.4 L705.3,85.9 L709.5,82.7 L713.4,81.2 L717.3,79.7 L721.1,78.1 L725.0,77.8 L728.8,79.6 L732.7,79.3 L736.3,81.3 L740.4,81.5 L744.3,82.7 L747.0,85.1 L749.8,87.2 L752.7,89.2 L755.8,90.9 L758.7,93.6 L760.0,97.4 L762.8,100.1 L764.6,103.3 L766.4,106.5 L768.6,109.4 L770.8,112.2 L772.4,115.3 L774.2,118.4 L776.7,121.0 L778.8,124.2 L781.0,127.4 L783.7,130.2 L786.7,132.3 L788.8,135.2 L790.6,138.4 L794.5,138.6 L798.3,139.4 L802.2,139.5 L806.1,138.9 L809.9,139.9 L813.8,139.5 L818.3,142.0 L823.0,144.1 L826.1,146.6 L827.7,150.3 L830.0,153.4 L833.8,156.5 L836.9,160.4 L840.4,158.0 L844.4,156.6 L848.5,155.7 L852.2,153.1 L855.9,150.6 L860.1,148.8 L862.6,146.3 L865.4,144.0 L868.8,142.7 L871.7,140.7 L875.7,138.7 L879.8,137.2 L878.8,141.0 L878.1,144.9 L877.5,148.8 L877.6,153.5 L875.9,158.0 L876.3,162.7 L877.7,167.2 L877.3,172.0 L877.5,176.6 L877.4,180.1 L876.5,183.6 L876.5,187.2 L875.2,190.5 L874.1,194.3 L874.7,198.3 L874.0,202.1 L870.5,204.5 L866.2,205.0 L862.4,206.7 L859.8,209.7 L856.2,211.3 L853.2,213.7 L852.3,217.3 L850.8,220.6 L850.6,217.0 L850.9,213.4 L849.6,210.0 L851.1,214.4 L853.8,218.1 L855.7,222.2 L855.9,225.9 L857.0,229.4 L858.3,232.9 L858.8,236.5 L858.7,240.2 L857.1,243.6 L856.4,247.2 L855.7,250.8 L851.7,253.8 L847.8,251.9 L843.5,251.8 L840.6,256.0 L839.4,261.0 L836.2,264.9 L833.3,269.1 L829.4,272.4 L825.2,275.2 L827.2,281.4 L822.9,281.6 L819.0,283.4 L814.7,283.4 L810.9,281.4 L809.5,285.8 L806.8,289.5 L803.7,292.5 L800.7,295.6 L797.5,298.5 L794.6,301.8 L792.1,306.3 L788.5,309.9 L786.2,313.9 L784.4,318.1 L780.3,322.1" fill="none" stroke="#a4a4a4" stroke-width="8.4" stroke-linejoin="round" stroke-linecap="butt"/>
<g clip-path="url(#china)"><g filter="url(#cm)">
<g fill="none" stroke-width="6.6"><path d="M366 397h7M354 403h25M186 409h19M354 409h19M180 415h31M354 415h19M168 421h49M354 421h7M162 427h55M162 433h55M348 433h19M168 439h49M348 439h25M168 445h43M348 445h25M180 451h25M354 451h13M432 487h13M426 493h19M432 499h13" stroke="#0a0a0a"/><path d="M732 103h13M732 109h13M732 115h13M732 121h13M360 397h7M372 397h7M180 409h7M204 409h7M348 409h7M372 409h7M174 415h7M210 415h7M348 415h7M216 421h7M348 421h7M360 421h7M216 427h7M348 427h13M216 433h7M162 439h7M174 451h7M348 451h7M180 457h19M432 481h13M426 487h7M444 487h7M444 493h7M426 499h7M444 499h7M432 505h13M324 535h13M318 541h19M324 547h7" stroke="#0c0c0c"/><path d="M732 97h13M726 103h7M744 103h7M726 109h7M744 109h7M726 115h7M744 115h7M726 121h7M744 121h7M732 127h13M366 391h7M354 397h7M192 403h7M348 403h7M372 415h7M360 427h7M216 439h7M342 439h7M162 445h7M210 445h7M168 451h7M204 451h7M366 451h7M198 457h7M354 457h7M186 463h7M426 505h7M324 529h13M318 535h7M318 547h7M330 547h7M318 553h19" stroke="#0e0e0e"/><path d="M732 91h13M726 97h7M744 97h7M720 109h7M720 115h7M726 127h7M744 127h7M732 133h13M360 391h7M372 391h7M378 397h7M186 403h7M198 403h7M378 403h7M210 409h7M342 409h7M378 409h7M216 415h7M342 415h7M162 421h7M342 421h7M366 421h7M156 427h7M222 427h7M342 427h7M156 433h7M222 433h7M342 433h7M156 439h7M342 445h7M372 445h7M342 451h7M174 457h7M348 457h7M360 457h7M180 463h7M192 463h7M426 481h7M444 481h7M420 487h7M450 487h7M420 493h7M450 493h7M420 499h7M444 505h7M432 511h7M318 529h7M312 535h7M336 535h7M312 541h7M336 541h7M312 547h7M336 547h7M312 553h7M336 553h7M318 559h19M444 577h7" stroke="#101010"/><path d="M732 85h19M726 91h7M744 91h7M750 97h7M720 103h7M750 103h7M750 109h7M750 115h7M720 121h7M750 121h7M720 127h7M750 127h7M726 133h7M744 133h7M732 139h13M366 385h7M348 397h7M342 403h7M174 409h7M168 415h7M378 415h7M222 421h7M372 421h7M366 427h7M366 433h7M222 439h7M372 439h7M216 445h7M210 451h7M372 451h7M204 457h7M366 457h7M198 463h7M348 463h25M360 469h7M432 475h13M450 481h7M450 499h7M420 505h7M426 511h7M438 511h7M318 523h19M336 529h7M306 553h7M312 559h7M336 559h7M312 565h25M318 571h13M438 571h13M438 577h7M450 577h7M438 583h19" stroke="#121212"/><path d="M732 79h19M726 85h7M750 85h7M720 91h7M750 91h7M720 97h7M714 115h7M756 115h7M756 121h7M756 127h7M720 133h7M750 133h7M726 139h7M744 139h13M360 385h7M372 385h7M354 391h7M378 391h7M180 403h7M204 403h7M384 403h7M384 409h7M222 415h7M384 415h7M156 421h7M378 421h7M228 427h7M228 433h7M336 439h7M156 445h7M336 445h7M162 451h7M168 457h7M342 457h7M372 457h7M174 463h7M372 463h7M180 469h19M354 469h7M366 469h13M354 475h19M426 475h7M444 475h7M420 481h7M414 493h7M420 511h7M426 517h13M336 523h7M312 529h7M786 529h7M342 535h7M306 541h7M342 541h7M306 547h7M342 547h7M342 553h7M306 559h7M342 559h7M306 565h7M336 565h7M312 571h7M330 571h13M450 571h7M318 577h19M432 577h7M444 589h7" stroke="#141414"/><path d="M732 73h25M726 79h7M750 79h7M720 85h7M756 85h7M756 91h7M756 97h7M714 103h7M756 103h7M714 109h7M756 109h7M714 121h7M762 121h7M714 127h7M762 127h7M756 133h7M756 139h7M732 145h19M366 379h7M348 391h7M342 397h7M384 397h7M216 409h7M336 409h7M162 415h7M336 415h7M228 421h7M336 421h7M384 421h7M150 427h7M336 427h7M372 427h7M150 433h7M336 433h7M372 433h7M228 439h7M378 439h7M222 445h7M378 445h7M216 451h7M336 451h7M378 451h7M210 457h7M378 457h7M204 463h7M342 463h7M378 463h7M198 469h7M348 469h7M378 469h7M432 469h13M372 475h7M420 475h7M450 475h7M354 481h25M456 481h7M414 487h7M456 487h7M456 493h7M414 499h7M450 505h7M792 505h7M444 511h7M324 517h13M438 517h7M786 517h7M312 523h7M786 523h7M342 529h7M306 535h7M300 547h7M348 547h7M300 553h7M348 553h7M300 559h7M348 559h7M300 565h7M342 565h7M432 565h19M306 571h7M342 571h7M432 571h7M336 577h7M456 577h7M432 583h7M438 589h7M450 589h7M588 739h7" stroke="#161616"/><path d="M726 73h7M720 79h7M756 79h7M762 85h7M714 91h7M762 91h7M714 97h7M762 97h7M762 103h7M762 109h7M762 115h7M768 121h7M768 127h7M714 133h7M762 133h7M720 139h7M762 139h7M726 145h7M750 145h13M738 151h13M360 379h7M372 379h7M774 379h7M354 385h7M378 385h7M768 385h7M384 391h7M210 403h7M336 403h7M390 403h7M168 409h7M390 409h7M390 415h7M234 427h7M378 427h13M234 433h7M378 433h7M150 439h7M228 445h7M156 451h7M384 451h7M162 457h7M336 457h7M384 457h7M168 463h7M384 463h7M174 469h7M342 469h7M384 469h7M426 469h7M186 475h7M348 475h7M378 475h7M378 481h7M414 481h7M360 487h19M792 499h7M414 505h7M786 505h7M414 511h7M786 511h7M318 517h7M336 517h7M420 517h7M342 523h7M420 523h19M306 529h7M348 529h7M348 535h7M300 541h7M348 541h7M780 541h7M432 559h13M348 565h7M450 565h7M348 571h7M426 571h7M456 571h7M426 577h7M792 577h7M426 583h7M456 583h7M798 583h7M432 589h7M456 589h7M804 589h7M438 595h19M570 727h25M576 733h31M594 739h19" stroke="#181818"/><path d="M720 73h7M714 79h7M714 85h7M768 91h7M768 97h7M708 103h7M768 103h7M708 109h7M768 109h7M708 115h7M768 115h7M708 121h7M774 121h7M774 127h7M768 133h13M768 139h7M720 145h7M762 145h7M732 151h7M750 151h13M354 379h7M762 379h13M348 385h7M756 385h13M342 391h7M762 391h7M336 397h7M390 397h7M222 409h7M330 409h7M156 415h7M228 415h7M330 415h7M150 421h7M234 421h7M330 421h7M390 421h7M330 427h7M390 427h7M330 433h7M384 433h7M234 439h7M330 439h7M384 439h7M150 445h7M330 445h7M384 445h7M222 451h7M330 451h7M216 457h7M210 463h7M336 463h7M432 463h7M204 469h7M390 469h7M420 469h7M444 469h7M180 475h7M192 475h7M342 475h7M384 475h13M414 475h7M456 475h7M348 481h7M384 481h13M408 481h7M462 481h7M354 487h7M378 487h13M408 487h7M360 493h25M408 493h7M408 499h7M456 499h7M324 511h13M342 517h7M414 517h7M444 517h7M348 523h7M438 523h7M420 529h19M780 529h7M300 535h7M354 535h7M780 535h7M354 541h7M294 547h7M354 547h7M294 553h7M354 553h7M432 553h7M354 559h7M426 559h7M444 559h7M354 565h7M426 565h7M354 571h7M786 577h7M792 583h7M426 589h7M798 589h7M432 595h7M804 595h7M438 601h13M570 721h31M594 727h13M606 733h13M612 739h7" stroke="#1a1a1a"/><path d="M714 73h7M708 85h7M708 91h7M708 97h7M774 97h7M774 103h7M774 109h7M774 115h13M780 121h7M708 127h7M780 127h7M780 133h13M714 139h7M774 139h19M768 145h25M726 151h7M762 151h7M732 157h31M264 187h7M264 193h7M258 199h13M762 199h7M756 205h7M756 211h7M750 217h7M750 223h7M360 373h13M768 373h13M378 379h7M756 379h7M342 385h7M384 385h7M390 391h7M756 391h7M192 397h7M174 403h7M216 403h7M330 403h7M396 403h7M396 409h7M396 415h7M240 427h7M240 433h7M390 433h7M240 439h7M390 439h7M234 445h7M390 445h7M228 451h7M390 451h7M156 457h7M222 457h7M330 457h7M390 457h7M162 463h7M216 463h7M390 463h13M420 463h13M438 463h7M168 469h7M336 469h7M396 469h7M414 469h7M450 469h7M174 475h7M198 475h7M396 475h19M462 475h7M342 481h7M396 481h13M348 487h7M390 487h19M462 487h7M354 493h7M384 493h25M792 493h7M354 499h37M402 499h7M786 499h7M366 505h7M408 505h7M318 511h7M336 511h13M408 511h7M450 511h7M780 511h7M312 517h7M348 517h13M780 517h7M306 523h7M354 523h7M414 523h7M780 523h7M300 529h7M354 529h7M414 529h7M438 529h7M360 535h7M414 535h25M294 541h7M360 541h7M420 541h19M360 547h7M420 547h19M288 553h7M360 553h7M420 553h13M438 553h7M774 553h7M360 559h7M420 559h7M450 559h7M360 565h7M420 565h7M456 565h7M360 571h7M420 571h7M420 577h7M462 577h7M780 577h7M420 583h7M462 583h7M786 583h7M420 589h7M792 589h7M426 595h7M456 595h7M798 595h7M432 601h7M450 601h7M804 601h7M444 607h7M456 625h19M462 631h13M570 715h25M600 721h13M606 727h19M618 733h7" stroke="#1c1c1c"/><path d="M708 73h7M708 79h7M702 97h7M702 103h7M702 109h7M780 109h7M702 115h7M786 115h7M702 121h7M786 121h7M786 127h13M708 133h7M792 133h7M792 139h7M714 145h7M792 145h13M720 151h7M768 151h37M726 157h7M762 157h37M738 163h55M756 169h37M264 175h7M762 175h31M258 181h19M762 181h31M258 187h7M270 187h7M756 187h37M258 193h7M270 193h7M756 193h31M750 199h13M768 199h19M252 205h13M750 205h7M762 205h13M252 211h7M750 211h7M762 211h7M756 217h7M744 229h13M480 319h7M354 373h7M372 373h7M762 373h7M348 379h7M750 379h7M750 385h7M336 391h7M750 391h7M186 397h7M198 397h7M330 397h7M396 397h7M756 397h7M402 403h7M162 409h7M228 409h7M324 409h7M402 409h7M150 415h7M234 415h7M324 415h7M240 421h7M324 421h7M396 421h7M144 427h7M246 427h7M324 427h7M396 427h7M144 433h7M246 433h13M324 433h7M396 433h7M144 439h7M246 439h13M324 439h7M396 439h7M240 445h13M324 445h7M396 445h7M150 451h7M234 451h7M396 451h7M228 457h7M396 457h13M420 457h13M330 463h7M402 463h19M210 469h7M402 469h13M456 469h7M204 475h7M336 475h7M468 475h13M186 481h13M468 481h7M342 487h7M348 493h7M462 493h7M348 499h7M390 499h13M330 505h37M372 505h37M456 505h7M780 505h7M348 511h43M360 517h19M408 517h7M360 523h13M408 523h7M444 523h7M360 529h13M408 529h7M294 535h7M366 535h7M408 535h7M438 535h7M288 541h7M366 541h7M408 541h13M438 541h7M774 541h7M288 547h7M366 547h7M414 547h7M438 547h7M774 547h7M366 553h7M414 553h7M444 553h7M366 559h13M414 559h7M726 559h7M768 559h7M366 565h13M414 565h7M726 565h13M414 571h7M462 571h7M726 571h13M768 571h7M414 577h7M774 577h7M414 583h7M780 583h7M414 589h7M462 589h7M786 589h7M420 595h7M462 595h7M792 595h7M426 601h7M456 601h7M798 601h7M432 607h13M450 607h13M804 607h7M438 613h25M684 613h13M804 613h7M450 619h25M450 625h7M474 625h7M456 631h7M462 637h7M570 709h25M594 715h19M612 721h13M624 727h7" stroke="#1e1e1e"/><path d="M702 73h7M702 79h7M702 85h7M702 91h7M702 127h7M798 133h7M708 139h7M798 139h7M798 157h7M732 163h7M792 163h13M738 169h19M792 169h13M258 175h7M270 175h7M744 175h19M792 175h13M276 181h7M750 181h13M792 181h13M750 187h7M792 187h7M750 193h7M786 193h13M252 199h7M270 199h7M744 199h7M786 199h7M744 205h7M774 205h13M246 211h7M258 211h7M744 211h7M768 211h7M744 217h7M762 217h7M744 223h7M756 223h7M750 235h7M648 265h7M474 313h13M468 319h13M486 319h7M474 325h13M414 355h13M414 361h13M414 367h19M774 367h7M348 373h7M378 373h7M414 373h19M756 373h7M342 379h7M384 379h7M414 379h19M336 385h7M390 385h7M414 385h19M330 391h7M396 391h25M204 397h7M402 397h13M222 403h7M324 403h7M408 403h7M234 409h7M408 409h7M240 415h7M318 415h7M402 415h7M144 421h7M246 421h25M318 421h7M402 421h7M252 427h25M318 427h7M402 427h7M258 433h25M402 433h7M258 439h25M402 439h7M144 445h7M252 445h25M402 445h7M240 451h37M324 451h7M402 451h25M234 457h7M324 457h7M408 457h13M432 457h13M222 463h7M444 463h7M162 469h7M216 469h7M330 469h7M462 469h25M168 475h7M180 481h7M198 481h7M336 481h7M336 487h7M792 487h7M342 493h7M786 493h7M336 499h13M780 499h7M324 505h7M312 511h7M390 511h19M306 517h7M378 517h31M450 517h7M300 523h7M372 523h37M294 529h7M372 529h37M444 529h7M288 535h7M372 535h37M774 535h7M372 541h37M282 547h7M372 547h19M396 547h19M444 547h7M720 547h13M372 553h19M402 553h13M450 553h7M720 553h19M768 553h7M378 559h13M402 559h13M456 559h7M720 559h7M732 559h13M408 565h7M720 565h7M738 565h13M756 565h13M408 571h7M720 571h7M738 571h31M408 577h7M714 577h37M756 577h19M408 583h7M714 583h19M768 583h13M408 589h7M780 589h7M408 595h13M786 595h7M414 601h13M462 601h7M792 601h7M420 607h13M678 607h25M798 607h7M426 613h13M462 613h7M678 613h7M696 613h7M432 619h19M474 619h7M678 619h25M438 625h13M444 631h13M474 631h7M450 637h13M468 637h7M570 703h25M594 709h19M612 715h19M624 721h7" stroke="#202020"/><path d="M696 79h7M696 85h7M696 91h7M696 97h7M696 103h7M696 109h7M696 115h7M696 121h7M798 127h7M702 133h7M804 139h7M708 145h7M804 145h7M714 151h7M804 151h7M720 157h7M804 157h7M726 163h7M804 163h7M276 169h7M732 169h7M804 169h7M252 175h7M276 175h7M738 175h7M804 175h7M252 181h7M744 181h7M804 181h7M252 187h7M276 187h7M744 187h7M798 187h7M252 193h7M744 193h7M798 193h7M792 199h7M246 205h7M264 205h7M786 205h7M774 211h7M246 217h13M744 235h7M648 259h7M642 265h7M468 307h19M462 313h13M486 313h7M462 319h7M468 325h7M486 325h7M414 349h7M426 355h7M408 361h7M426 361h7M354 367h19M408 367h7M768 367h7M342 373h7M408 373h7M432 373h7M336 379h7M390 379h7M402 379h13M432 379h7M330 385h7M396 385h19M432 385h13M420 391h31M180 397h7M324 397h7M414 397h31M750 397h7M318 403h7M414 403h31M156 409h7M240 409h7M258 409h13M318 409h7M414 409h19M246 415h37M312 415h7M408 415h13M270 421h19M312 421h7M408 421h7M276 427h19M312 427h7M408 427h7M282 433h13M312 433h13M408 433h7M282 439h13M318 439h7M408 439h13M276 445h13M318 445h7M408 445h25M276 451h7M318 451h7M426 451h13M150 457h7M240 457h37M156 463h7M228 463h7M324 463h7M450 463h7M468 463h25M222 469h7M486 469h7M210 475h7M330 475h7M480 475h7M174 481h7M330 481h7M474 481h7M468 487h7M336 493h7M330 499h7M462 499h7M318 505h7M774 505h7M456 511h7M774 511h7M774 529h7M444 535h7M282 541h7M444 541h7M276 547h7M390 547h7M714 547h7M732 547h7M768 547h7M276 553h7M390 553h13M714 553h7M738 553h7M270 559h7M390 559h13M714 559h7M744 559h25M390 565h19M462 565h7M714 565h7M750 565h7M714 571h7M468 577h7M708 577h7M750 577h7M402 583h7M468 583h7M708 583h7M732 583h37M396 589h13M468 589h7M702 589h31M768 589h13M390 595h19M468 595h7M702 595h13M780 595h7M390 601h25M684 601h25M786 601h7M384 607h37M462 607h7M666 607h13M702 607h7M792 607h7M384 613h43M468 613h13M648 613h31M702 613h7M798 613h7M390 619h7M414 619h19M480 619h7M648 619h13M672 619h7M702 619h7M798 619h7M420 625h19M480 625h7M684 625h19M426 631h19M426 637h25M432 643h37M432 649h31M432 655h19M426 661h19M426 667h13M576 697h19M594 703h25M612 709h19M630 715h7" stroke="#222222"/><path d="M690 79h7M690 85h7M690 91h7M690 97h7M690 103h7M690 109h7M690 115h7M696 127h7M804 127h7M804 133h7M702 139h7M714 157h7M282 163h7M720 163h7M282 169h7M726 169h7M246 175h7M282 175h7M732 175h7M810 175h7M246 181h7M282 181h7M738 181h7M810 181h7M246 187h7M738 187h7M804 187h7M276 193h7M738 193h7M804 193h7M246 199h7M738 199h7M798 199h7M240 205h7M738 205h7M792 205h7M240 211h7M738 211h7M780 211h7M240 217h7M738 217h7M768 217h7M738 223h7M762 223h7M756 229h7M642 259h7M654 259h7M654 265h7M642 271h13M432 301h13M468 301h19M432 307h19M462 307h7M486 307h7M432 313h31M492 313h7M438 319h25M492 319h7M456 325h13M468 331h19M420 349h7M408 355h7M432 361h7M774 361h7M348 367h7M372 367h7M432 367h7M762 367h7M384 373h7M402 373h7M438 373h7M750 373h7M396 379h7M438 379h7M744 379h7M444 385h7M744 385h7M324 391h7M450 391h7M744 391h7M210 397h7M318 397h7M444 397h13M168 403h7M228 403h7M258 403h13M312 403h7M444 403h7M246 409h13M270 409h13M306 409h13M432 409h19M144 415h7M282 415h31M420 415h31M288 421h25M414 421h31M294 427h19M414 427h31M294 433h19M414 433h25M294 439h25M420 439h19M288 445h31M432 445h7M144 451h7M282 451h13M312 451h7M438 451h7M690 451h13M276 457h13M318 457h7M444 457h7M474 457h19M234 463h13M258 463h19M318 463h7M456 463h13M492 463h13M672 463h7M156 469h7M228 469h7M324 469h7M162 475h7M216 475h7M168 481h7M204 481h7M708 481h7M792 481h7M180 487h19M330 487h7M702 487h13M786 487h7M330 493h7M780 493h7M324 499h7M774 499h7M312 505h7M306 511h7M300 517h7M774 517h7M294 523h7M450 523h7M774 523h7M288 529h7M282 535h7M276 541h7M702 541h31M768 541h7M270 547h7M450 547h7M702 547h13M270 553h7M708 553h7M744 553h7M762 553h7M708 559h7M708 565h7M468 571h7M708 571h7M702 583h7M732 589h37M474 595h7M690 595h13M714 595h19M768 595h13M468 601h13M666 601h19M708 601h7M780 601h7M468 607h13M654 607h13M708 607h7M786 607h7M480 613h7M642 613h7M708 613h7M792 613h7M396 619h19M486 619h7M642 619h7M660 619h13M792 619h7M390 625h31M486 625h7M648 625h7M678 625h7M702 625h7M798 625h7M390 631h37M480 631h7M684 631h19M798 631h7M402 637h25M474 637h7M408 643h25M468 643h7M408 649h25M462 649h7M408 655h25M450 655h13M408 661h19M444 661h19M414 667h13M438 667h25M420 673h37M426 679h31M438 685h25M456 691h13M588 691h7M594 697h19M618 703h13M630 709h7" stroke="#242424"/><path d="M684 85h7M684 91h7M684 97h7M684 103h7M684 109h7M690 121h7M690 127h7M696 133h7M810 139h7M702 145h7M810 145h7M708 151h7M810 151h7M810 157h7M288 163h7M714 163h7M810 163h7M288 169h7M720 169h7M810 169h7M240 175h7M288 175h7M726 175h7M240 181h7M732 181h7M240 187h7M282 187h7M732 187h7M810 187h7M246 193h7M732 193h7M240 199h7M318 199h7M732 199h7M234 205h7M318 205h7M732 205h7M798 205h7M234 211h7M786 211h7M234 217h7M738 229h7M642 253h13M654 271h7M642 277h7M432 289h19M426 295h55M426 301h7M444 301h25M486 301h7M426 307h7M450 307h13M492 307h7M426 313h7M432 319h7M276 325h13M438 325h19M492 325h7M276 331h13M456 331h13M486 331h7M276 337h13M276 343h7M408 349h7M426 349h7M432 355h7M354 361h19M342 367h7M378 367h7M402 367h7M438 367h7M756 367h7M336 373h7M390 373h13M330 379h7M444 379h7M324 385h7M450 385h7M318 391h7M516 391h7M216 397h7M312 397h7M516 397h7M744 397h7M234 403h25M270 403h19M300 403h13M450 403h7M150 409h7M282 409h25M450 409h7M444 421h7M444 427h7M138 433h7M438 433h13M138 439h7M438 439h7M438 445h7M294 451h19M444 451h7M702 451h7M144 457h7M288 457h13M306 457h13M468 457h7M492 457h19M690 457h19M150 463h7M246 463h13M276 463h13M504 463h13M678 463h7M234 469h7M264 469h13M318 469h7M492 469h7M222 475h7M324 475h7M702 475h19M210 481h7M324 481h7M696 481h13M714 481h7M174 487h7M198 487h7M324 487h7M696 487h7M714 487h13M324 493h7M468 493h7M696 493h19M318 499h7M306 505h7M462 505h7M300 511h7M294 517h7M288 523h7M690 523h7M276 529h13M450 529h7M690 529h19M270 535h13M450 535h7M690 535h31M270 541h7M450 541h7M690 541h13M732 541h7M264 547h7M696 547h7M738 547h7M762 547h7M264 553h7M456 553h7M702 553h7M750 553h13M264 559h7M462 559h7M702 559h7M702 577h7M474 583h7M474 589h7M696 589h7M672 595h19M732 595h37M480 601h7M660 601h7M714 601h13M768 601h13M480 607h13M648 607h7M780 607h7M486 613h7M786 613h7M708 619h7M786 619h7M492 625h7M642 625h7M654 625h13M672 625h7M708 625h7M792 625h7M486 631h7M678 631h7M702 631h7M792 631h7M480 637h7M690 637h13M798 637h7M474 643h7M468 649h7M462 655h13M462 661h7M462 667h7M456 673h19M456 679h19M546 679h25M462 685h13M594 691h19M612 697h19M630 703h7" stroke="#262626"/><path d="M678 91h7M678 97h7M678 103h7M684 115h7M684 121h7M810 127h7M690 133h7M810 133h7M696 139h7M702 151h7M288 157h7M708 157h7M714 169h7M720 175h7M816 175h7M288 181h7M726 181h7M816 181h7M234 187h7M816 187h7M228 193h19M318 193h7M810 193h7M228 199h13M312 199h7M324 199h7M804 199h7M228 205h7M312 205h7M324 205h7M228 211h7M318 211h7M732 211h7M792 211h7M228 217h7M258 217h7M774 217h7M234 223h19M636 259h7M636 265h7M636 271h7M432 277h13M648 277h7M426 283h37M426 289h7M450 289h25M420 295h7M480 295h7M420 301h7M420 307h7M276 319h7M426 319h7M498 319h7M270 325h7M432 325h7M270 331h7M432 331h25M492 331h7M270 337h7M468 337h19M270 343h7M282 343h7M420 343h19M618 343h13M276 349h7M432 349h7M438 355h7M558 355h7M348 361h7M372 361h7M402 361h7M438 361h7M768 361h7M336 367h7M384 367h7M330 373h7M444 373h7M324 379h7M450 379h7M312 385h13M456 385h7M306 391h13M456 391h7M222 397h7M258 397h25M294 397h19M456 397h7M288 403h13M450 415h7M450 421h7M138 427h7M450 427h7M450 433h7M444 439h7M138 445h7M444 445h7M690 445h7M684 451h7M708 451h7M300 457h7M450 457h7M510 457h7M708 457h7M288 463h31M702 463h13M150 469h7M240 469h25M276 469h13M312 469h7M498 469h7M672 469h13M702 469h19M156 475h7M228 475h13M258 475h19M318 475h7M486 475h7M696 475h7M792 475h7M162 481h7M216 481h7M480 481h7M690 481h7M720 481h7M168 487h7M204 487h7M474 487h7M690 487h7M780 487h7M180 493h19M318 493h7M690 493h7M714 493h7M774 493h7M312 499h7M690 499h19M768 499h7M270 505h7M300 505h7M768 505h7M264 511h19M294 511h7M690 511h7M264 517h31M456 517h7M684 517h13M264 523h25M684 523h7M696 523h7M264 529h13M684 529h7M708 529h7M264 535h7M684 535h7M720 535h13M768 535h7M258 541h13M684 541h7M258 547h7M690 547h7M258 553h7M696 553h7M258 559h7M468 565h7M702 565h7M702 571h7M474 577h7M696 583h7M480 589h7M684 589h13M480 595h13M660 595h13M486 601h7M654 601h7M726 601h43M492 607h7M642 607h7M714 607h7M762 607h19M492 613h7M714 613h7M774 613h13M492 619h7M636 619h7M714 619h7M780 619h7M666 625h7M714 625h7M786 625h7M492 631h7M648 631h13M672 631h7M708 631h7M786 631h7M486 637h7M678 637h13M702 637h13M792 637h7M690 643h19M792 643h7M474 649h7M792 649h7M474 655h7M468 661h13M468 667h13M540 667h19M474 673h7M540 673h31M474 679h7M570 679h19M588 685h19M612 691h19M630 697h7" stroke="#282828"/><path d="M678 109h7M678 115h7M678 121h7M684 127h7M684 133h7M690 139h7M696 145h7M294 151h13M696 151h7M294 157h13M702 157h7M294 163h7M702 163h13M294 169h7M684 169h7M708 169h7M816 169h7M294 175h7M678 175h19M714 175h7M294 181h7M678 181h13M720 181h7M288 187h7M312 187h13M678 187h13M726 187h7M312 193h7M324 193h13M726 193h7M276 199h7M330 199h7M726 199h7M204 205h25M270 205h7M726 205h7M804 205h7M210 211h19M264 211h7M312 211h7M798 211h7M210 217h19M732 217h7M780 217h7M222 223h13M252 223h7M768 223h7M738 235h7M642 247h7M636 253h7M654 253h7M420 277h13M636 277h7M654 277h7M420 283h7M462 283h13M636 283h13M420 289h7M474 289h13M486 295h7M492 301h7M420 313h7M498 313h7M270 319h7M282 319h7M288 325h7M426 325h7M498 325h7M288 331h7M288 337h7M426 337h43M486 337h7M618 337h13M288 343h7M414 343h7M438 343h13M270 349h7M282 349h13M438 349h7M558 349h7M360 355h7M564 355h7M342 361h7M444 361h7M762 361h7M330 367h7M390 367h13M444 367h7M750 367h7M318 373h13M450 373h7M744 373h7M312 379h13M306 385h7M294 391h13M174 397h7M228 397h7M252 397h7M282 397h13M162 403h7M456 403h7M744 403h7M456 409h7M138 421h7M450 439h7M450 445h7M684 445h7M138 451h7M450 451h7M468 451h19M504 451h7M714 451h7M456 457h13M672 457h7M684 457h7M714 457h7M144 463h7M516 463h7M684 463h19M714 463h7M288 469h25M504 469h25M684 469h19M240 475h19M276 475h19M312 475h7M522 475h13M684 475h13M720 475h7M156 481h7M222 481h13M252 481h37M318 481h7M684 481h7M726 481h7M786 481h7M162 487h7M210 487h13M258 487h25M318 487h7M684 487h7M726 487h7M174 493h7M198 493h7M258 493h25M312 493h7M684 493h7M720 493h7M258 499h31M306 499h7M468 499h7M684 499h7M708 499h7M258 505h13M276 505h25M684 505h19M258 511h7M282 511h13M678 511h13M696 511h7M258 517h7M678 517h7M696 517h7M258 523h7M678 523h7M702 523h7M252 529h13M678 529h7M714 529h7M768 529h7M252 535h13M678 535h7M252 541h7M678 541h7M738 541h7M252 547h7M456 547h7M684 547h7M744 547h19M252 553h7M462 553h7M690 553h7M696 559h7M474 571h7M696 577h7M480 583h7M690 583h7M486 589h7M666 589h19M492 595h7M492 601h13M648 601h7M498 607h7M720 607h31M756 607h7M498 613h7M636 613h7M720 613h7M762 613h13M498 619h7M720 619h7M774 619h7M498 625h7M636 625h7M720 625h7M774 625h13M498 631h7M528 631h13M642 631h7M660 631h13M714 631h13M780 631h7M492 637h13M522 637h25M672 637h7M714 637h7M780 637h13M480 643h19M516 643h31M678 643h13M708 643h13M780 643h13M480 649h7M516 649h37M684 649h31M780 649h13M480 655h7M510 655h49M780 655h13M480 661h13M504 661h19M534 661h31M480 667h25M558 667h19M570 673h19M588 679h19M606 685h19M630 691h7" stroke="#2a2a2a"/><path d="M672 127h13M816 127h7M678 133h7M816 133h7M678 139h13M816 139h7M684 145h13M306 151h13M684 151h13M306 157h7M678 157h25M300 163h13M672 163h31M816 163h7M300 169h13M672 169h13M690 169h19M300 175h13M666 175h13M696 175h19M300 181h37M666 181h13M690 181h31M822 181h7M294 187h19M324 187h19M660 187h19M690 187h37M822 187h7M282 193h7M306 193h7M336 193h7M660 193h67M816 193h7M336 199h7M696 199h31M810 199h7M198 205h7M330 205h7M714 205h13M192 211h19M324 211h7M726 211h7M198 217h13M786 217h13M204 223h19M732 223h7M210 229h37M762 229h7M756 235h7M744 241h7M636 247h7M648 247h7M660 259h7M660 265h7M414 277h7M414 283h7M648 283h7M414 289h7M414 295h7M816 295h13M414 301h7M810 301h7M414 307h7M498 307h7M264 331h7M426 331h7M498 331h7M264 337h7M420 337h7M492 337h7M264 343h7M294 343h7M450 343h13M468 343h13M570 343h7M444 349h7M570 349h7M276 355h19M348 355h13M366 355h7M402 355h7M444 355h7M336 361h7M378 361h7M564 361h7M318 367h13M450 367h7M312 373h7M300 379h13M456 379h7M294 385h13M738 385h7M192 391h13M264 391h31M738 391h7M234 397h19M738 397h7M516 403h13M144 409h7M456 415h7M456 421h7M456 427h7M456 433h7M456 439h7M456 445h19M696 445h7M708 445h13M456 451h13M486 451h19M510 451h7M678 451h7M138 457h7M516 457h7M678 457h7M666 463h7M144 469h7M720 469h7M150 475h7M294 475h19M678 475h7M234 481h19M288 481h13M312 481h7M222 487h37M282 487h13M312 487h7M774 487h7M168 493h7M204 493h13M246 493h13M282 493h31M678 493h7M726 493h7M768 493h7M174 499h25M246 499h13M288 499h19M678 499h7M246 505h13M678 505h7M702 505h7M246 511h13M462 511h7M702 511h7M768 511h7M246 517h13M702 517h7M246 523h13M456 523h7M708 523h7M246 529h7M246 535h7M732 535h7M246 541h7M456 541h7M762 541h7M246 547h7M678 547h7M678 553h13M468 559h7M690 559h7M474 565h7M666 565h7M696 565h7M666 571h7M696 571h7M480 577h7M666 577h7M690 577h7M486 583h7M666 583h25M492 589h25M660 589h7M498 595h25M654 595h7M504 601h25M504 607h31M504 613h7M522 613h19M726 613h25M756 613h7M504 619h7M516 619h31M630 619h7M726 619h19M756 619h19M504 625h43M630 625h7M726 625h13M762 625h13M504 631h25M540 631h13M636 631h7M726 631h7M768 631h13M504 637h19M546 637h7M642 637h31M720 637h7M768 637h13M498 643h19M546 643h13M666 643h13M774 643h7M486 649h31M552 649h13M672 649h13M774 649h7M486 655h25M558 655h13M678 655h19M774 655h7M492 661h13M564 661h13M576 667h13M588 673h19M606 679h19M624 685h7" stroke="#2c2c2c"/><path d="M672 133h7M672 139h7M666 145h19M816 145h7M318 151h13M666 151h19M816 151h7M312 157h19M666 157h13M816 157h7M312 163h25M660 163h13M312 169h31M654 169h19M312 175h37M654 175h13M822 175h7M336 181h19M654 181h13M342 187h13M648 187h13M342 193h13M648 193h13M306 199h7M342 199h7M654 199h43M336 205h7M660 205h13M696 205h19M330 211h7M702 211h25M804 211h7M192 217h7M726 217h7M798 217h7M198 223h7M774 223h7M204 229h7M246 229h7M732 229h7M210 235h19M642 241h7M408 265h7M408 271h7M660 271h7M408 277h7M408 283h7M408 289h7M486 289h7M636 289h13M810 289h31M492 295h7M810 295h7M270 313h13M264 319h7M420 319h7M648 319h7M264 325h7M618 331h13M294 337h7M408 343h7M462 343h7M480 343h7M564 343h7M264 349h7M294 349h7M450 349h7M564 349h7M270 355h7M294 355h7M342 355h7M372 355h7M288 361h19M324 361h13M384 361h7M396 361h7M450 361h7M756 361h7M300 367h19M294 373h19M456 373h7M294 379h7M738 379h7M276 385h19M462 385h7M516 385h7M204 391h7M252 391h13M462 391h7M510 391h7M462 397h7M510 397h7M522 397h7M156 403h7M744 409h7M138 415h7M132 433h7M132 439h7M462 439h7M132 445h7M474 445h7M702 445h7M132 451h7M672 451h7M720 451h7M666 457h7M720 457h7M138 463h7M522 463h7M720 463h7M528 469h7M144 475h7M492 475h7M516 475h7M534 475h7M672 475h7M726 475h7M786 475h7M150 481h7M300 481h13M528 481h13M678 481h7M780 481h7M156 487h7M294 487h19M678 487h7M732 487h7M216 493h31M474 493h7M198 499h19M228 499h19M672 499h7M714 499h7M762 499h7M186 505h7M234 505h13M672 505h7M708 505h7M240 511h7M672 511h7M240 517h7M672 517h7M708 517h7M768 517h7M240 523h7M672 523h7M768 523h7M240 529h7M456 529h7M672 529h7M720 529h7M240 535h7M456 535h7M672 535h7M240 541h7M672 541h7M240 547h7M462 547h7M672 547h7M672 553h7M666 559h25M660 565h7M672 565h7M684 565h13M480 571h7M660 571h7M672 571h7M684 571h13M486 577h7M660 577h7M672 577h19M492 583h31M660 583h7M516 589h13M654 589h7M522 595h19M528 601h19M642 601h7M534 607h19M636 607h7M510 613h13M540 613h13M630 613h7M510 619h7M546 619h7M624 619h7M546 625h13M624 625h7M756 625h7M552 631h7M630 631h7M756 631h13M552 637h13M636 637h7M762 637h7M558 643h13M642 643h25M768 643h7M564 649h13M660 649h13M570 655h13M666 655h13M576 661h19M666 661h13M588 667h19M666 667h7M606 673h19M624 679h19" stroke="#2e2e2e"/><path d="M888 133h7M888 139h7M888 145h7M654 151h13M888 151h7M648 157h19M888 157h7M648 163h13M648 169h7M642 175h13M642 181h13M642 187h7M288 193h7M300 193h7M354 193h7M642 193h7M822 193h7M348 199h13M642 199h13M306 205h7M342 205h7M648 205h13M672 205h25M810 205h7M696 211h7M720 217h7M192 223h7M198 229h7M204 235h7M228 235h13M642 235h7M216 241h7M636 241h7M648 241h7M750 241h7M396 247h7M654 247h7M396 253h13M630 253h7M660 253h7M396 259h13M630 259h7M396 265h13M630 265h7M402 271h7M402 277h7M660 277h7M402 283h7M654 283h7M648 289h7M804 289h7M408 295h7M642 295h7M804 295h7M408 301h7M498 301h7M804 301h7M804 307h7M282 313h7M414 313h7M504 313h7M648 313h7M288 319h7M504 319h7M420 325h7M504 325h7M648 325h7M294 331h7M420 331h7M414 337h7M612 337h7M486 343h7M558 343h7M612 343h7M300 349h7M348 349h25M456 349h13M552 349h7M618 349h7M300 355h13M330 355h13M378 355h7M450 355h7M276 361h13M306 361h19M390 361h7M558 361h7M288 367h13M456 367h7M288 373h7M282 379h13M462 379h7M264 385h13M186 391h7M210 391h7M522 391h7M462 403h7M738 403h7M132 427h7M462 433h7M468 439h7M678 445h7M720 445h7M132 457h7M138 469h7M666 469h7M486 481h7M672 481h7M732 481h7M480 487h7M672 487h7M672 493h7M732 493h7M762 493h7M216 499h13M720 499h7M180 505h7M192 505h43M468 505h7M762 505h7M222 511h19M708 511h7M228 517h13M462 517h7M228 523h13M714 523h7M228 529h13M726 529h7M228 535h13M666 535h7M228 541h13M666 541h7M744 541h7M756 541h7M666 547h7M468 553h7M666 553h7M474 559h7M660 559h7M678 565h7M678 571h7M492 577h25M522 583h7M654 583h7M528 589h25M540 595h19M648 595h7M546 601h13M552 607h7M552 613h7M624 613h7M552 619h13M618 619h7M558 625h7M618 625h7M558 631h13M624 631h7M564 637h13M630 637h7M570 643h13M636 643h7M576 649h13M642 649h19M582 655h19M648 655h19M594 661h19M648 661h19M606 667h19M642 667h25M624 673h37" stroke="#303030"/><path d="M882 127h7M822 133h7M882 133h7M648 151h7M642 157h7M642 163h7M888 163h7M636 169h13M822 169h7M888 169h7M636 175h7M888 175h7M636 181h7M828 181h7M888 181h7M636 187h7M828 187h7M294 193h7M636 193h7M816 199h7M348 205h13M336 211h7M660 211h13M690 211h7M318 217h13M702 217h19M804 217h7M258 223h7M726 223h7M780 223h19M192 229h7M636 229h13M198 235h7M240 235h7M636 235h7M648 235h7M732 235h7M210 241h7M222 241h7M384 241h13M630 241h7M738 241h7M384 247h13M630 247h7M384 253h13M384 259h13M390 265h7M390 271h13M630 271h7M396 277h7M396 283h7M804 283h37M402 289h7M654 289h7M798 289h7M402 295h7M498 295h7M636 295h7M648 295h7M642 301h13M408 307h7M648 307h7M264 313h7M654 313h7M642 319h7M654 319h7M294 325h7M504 331h7M630 331h7M498 337h7M630 337h7M300 343h7M492 343h7M306 349h7M342 349h7M372 349h7M402 349h7M468 349h19M264 355h7M312 355h19M456 355h7M552 355h7M570 355h7M270 361h7M456 361h7M282 367h7M744 367h7M282 373h7M462 373h7M270 379h13M258 385h7M216 391h13M240 391h13M168 397h7M462 409h7M522 409h13M132 421h7M462 427h7M714 439h7M480 445h7M516 451h7M666 451h7M132 463h7M726 469h7M786 469h7M138 475h7M498 475h19M144 481h7M522 481h7M540 481h7M768 487h7M666 499h7M726 499h7M666 505h7M714 505h7M186 511h37M666 511h7M198 517h31M666 517h7M714 517h7M216 523h13M666 523h7M720 523h7M216 529h13M666 529h7M216 535h13M738 535h7M762 535h7M222 541h7M462 541h7M750 541h7M660 553h7M480 565h7M654 565h7M486 571h13M654 571h7M516 577h7M570 577h13M654 577h7M528 583h13M558 583h19M552 589h19M558 595h13M558 601h7M558 607h7M630 607h7M558 613h13M618 613h7M564 619h7M612 619h7M564 625h13M606 625h13M570 631h13M606 631h19M576 637h13M606 637h25M582 643h55M588 649h31M630 649h13M600 655h25M636 655h13M612 661h37M624 667h19" stroke="#323232"/><path d="M876 127h7M822 139h7M882 139h7M822 145h7M882 145h7M882 151h7M882 157h7M822 163h7M828 193h7M282 199h7M300 199h7M342 211h19M672 211h19M264 217h7M654 217h7M696 217h7M648 223h7M798 223h7M252 229h7M648 229h7M768 229h7M192 235h7M372 235h13M630 235h7M204 241h7M228 241h7M372 241h13M654 241h7M372 247h13M372 253h13M372 259h13M666 259h7M372 265h19M666 265h7M366 271h7M384 271h7M384 277h13M630 277h7M804 277h7M384 283h13M630 283h7M660 283h7M798 283h7M390 289h13M654 295h7M798 295h7M402 301h7M654 301h7M798 301h7M270 307h13M504 307h7M642 307h7M654 307h7M798 307h7M642 313h7M798 313h7M258 319h7M414 319h7M258 325h7M624 325h7M642 325h7M258 331h7M258 337h7M300 337h7M258 343h7M354 343h19M312 349h7M336 349h7M378 349h7M486 349h7M624 349h7M384 355h7M396 355h7M462 355h13M462 361h7M570 361h7M750 361h7M270 367h13M462 367h7M270 373h13M738 373h7M264 379h7M252 385h7M180 391h7M228 391h13M468 391h7M150 403h7M528 403h7M738 409h7M462 415h7M744 415h7M462 421h7M126 439h7M684 439h7M720 439h7M126 445h7M504 445h13M672 445h7M126 451h7M522 457h7M528 463h7M726 463h7M132 469h7M534 469h7M540 475h7M666 475h7M732 475h7M780 475h7M774 481h7M534 487h7M738 487h7M666 493h7M474 499h7M468 511h7M714 511h7M192 517h7M198 523h19M462 523h7M204 529h13M462 529h7M210 535h7M462 535h7M660 535h7M660 541h7M468 547h7M660 547h7M474 553h7M654 559h7M486 565h7M498 571h19M570 571h19M522 577h7M558 577h13M582 577h7M540 583h19M576 583h7M570 589h13M648 589h7M570 595h7M564 601h13M636 601h7M564 607h13M624 607h7M570 613h13M594 613h25M570 619h43M576 625h31M582 631h25M588 637h19M618 649h13M624 655h13" stroke="#343434"/><path d="M876 133h7M822 151h7M822 157h7M882 163h7M882 169h7M828 175h7M882 175h7M882 181h7M834 187h7M882 187h7M882 193h7M822 199h7M882 199h7M276 205h7M882 205h7M270 211h7M306 211h7M810 211h7M312 217h7M330 217h31M660 217h7M654 223h7M702 223h25M804 223h7M726 229h7M246 235h7M366 235h7M198 241h7M234 241h7M366 241h7M216 247h13M366 247h7M660 247h7M366 253h7M366 259h7M366 265h7M798 265h13M372 271h13M666 271h7M804 271h7M366 277h19M798 277h7M810 277h19M840 277h7M372 283h13M378 289h13M630 289h7M378 295h25M378 301h7M504 301h7M636 301h7M264 307h7M258 313h7M288 313h7M408 313h7M414 325h7M618 325h7M630 325h13M792 325h7M300 331h7M414 331h7M612 331h7M636 331h7M408 337h7M504 337h7M306 343h7M348 343h7M372 343h7M498 343h7M552 343h7M258 349h7M318 349h19M612 349h7M390 355h7M474 355h7M264 361h7M468 361h7M264 367h7M564 367h7M264 373h7M258 379h7M468 379h7M468 385h7M510 385h7M732 391h7M468 397h7M732 397h7M138 409h7M132 415h7M126 433h7M468 433h7M474 439h7M708 439h7M726 439h7M726 445h7M660 451h7M726 451h7M126 457h7M660 457h7M726 457h7M126 463h7M132 475h7M666 481h7M738 481h7M528 487h7M666 487h7M762 487h7M738 493h7M756 493h7M660 499h7M732 499h7M756 499h7M660 505h7M720 505h7M660 511h7M762 511h7M660 517h7M720 517h7M660 523h7M660 529h7M732 529h7M762 529h7M480 559h7M570 565h19M516 571h7M564 571h7M528 577h13M546 577h13M648 577h7M582 583h7M648 583h7M582 589h7M576 595h13M642 595h7M576 601h13M576 607h49M582 613h13" stroke="#363636"/><path d="M870 127h7M828 133h7M876 139h7M876 145h7M876 151h7M834 193h7M816 205h7M666 217h7M690 217h7M354 223h7M360 229h7M654 229h7M360 235h7M654 235h7M192 241h7M240 241h7M360 241h7M624 241h7M210 247h7M228 247h7M624 247h7M624 253h7M360 259h7M360 265h7M360 271h7M798 271h7M810 271h7M666 277h7M828 277h13M366 283h7M372 289h7M660 289h7M372 295h7M372 301h7M384 301h19M282 307h7M402 307h7M636 307h7M636 313h7M294 319h7M510 319h7M636 319h7M792 319h7M510 325h7M654 325h7M786 331h7M306 337h7M360 337h13M564 337h7M312 343h7M342 343h7M378 343h7M402 343h7M630 343h7M384 349h7M492 349h7M258 355h7M480 355h7M756 355h7M468 367h7M468 373h7M246 385h7M732 385h7M468 403h7M510 403h7M738 415h7M744 421h7M126 427h7M720 433h13M678 439h7M690 439h7M486 445h7M498 445h7M660 445h13M660 463h7M732 469h7M492 481h7M516 481h7M768 481h7M540 487h7M744 487h7M756 487h7M480 493h7M660 493h7M474 505h7M720 511h7M468 517h7M726 523h7M744 535h7M756 535h7M468 541h7M654 547h7M654 553h7M576 559h13M492 565h13M564 565h7M648 565h7M522 571h7M558 571h7M648 571h7M540 577h7M588 595h7M588 601h13M630 601h7" stroke="#383838"/><path d="M870 133h7M828 139h7M876 157h7M876 163h7M828 169h7M834 181h7M876 187h7M840 193h7M876 193h7M288 199h13M828 199h7M876 199h7M876 205h7M672 217h7M684 217h7M810 217h7M342 223h13M660 223h7M696 223h7M354 229h7M720 229h7M774 229h7M792 229h19M354 235h7M762 235h7M732 241h7M204 247h7M234 247h7M360 247h7M360 253h7M666 253h7M624 259h7M810 265h7M816 271h7M846 271h7M360 277h7M366 289h7M792 289h7M366 295h7M504 295h7M630 295h7M660 295h7M792 295h7M660 301h7M258 307h7M372 307h19M660 307h7M510 313h7M660 313h7M792 313h7M624 319h13M510 331h7M642 331h7M354 337h7M372 337h7M558 337h7M318 343h7M330 343h13M576 343h7M606 343h7M390 349h13M576 349h7M486 355h7M258 361h7M474 361h7M744 361h7M258 367h7M570 367h7M738 367h7M258 373h7M252 379h7M240 385h7M504 391h7M162 397h7M504 397h7M144 403h7M732 403h7M126 421h7M738 421h7M726 427h13M732 433h7M120 439h7M120 445h7M492 445h7M516 445h7M654 445h7M120 451h7M522 451h7M120 457h7M660 469h7M780 469h7M738 475h7M774 475h7M546 481h7M486 487h7M660 487h7M750 487h7M744 493h13M654 499h7M738 499h7M654 505h7M726 505h7M756 505h7M654 511h7M654 517h7M468 523h7M654 523h7M468 529h7M654 529h7M468 535h7M654 535h7M654 541h7M474 547h7M480 553h7M576 553h13M486 559h7M570 559h7M504 565h7M588 565h7M552 571h7M588 571h7M588 577h7M588 583h7M588 589h7M642 589h7M594 595h7M600 601h19" stroke="#3a3a3a"/><path d="M870 139h7M828 145h7M870 145h7M876 169h7M876 175h7M876 181h7M840 187h7M846 193h7M870 193h7M834 199h7M870 199h7M300 205h7M876 211h7M678 217h7M324 223h19M810 223h7M258 229h7M348 229h7M660 229h7M714 229h7M780 229h13M252 235h7M726 235h7M354 241h7M660 241h7M198 247h7M354 247h7M354 253h7M672 259h7M798 259h13M864 259h7M624 265h7M672 265h7M822 271h25M360 283h7M666 283h7M792 283h7M264 301h19M366 301h7M630 301h7M792 301h7M390 307h13M510 307h7M630 307h7M792 307h7M252 313h7M630 313h7M252 319h7M408 319h7M618 319h7M252 325h7M300 325h7M612 325h7M786 325h7M252 331h7M366 331h7M408 331h7M252 337h7M348 337h7M570 337h7M606 337h7M636 337h7M324 343h7M504 343h7M498 349h7M480 361h7M474 367h7M732 379h7M234 385h7M174 391h7M474 391h7M474 397h7M468 409h7M516 409h7M732 409h7M528 415h7M732 421h7M468 427h7M738 427h7M120 433h7M654 439h7M672 439h7M696 439h13M654 451h7M528 457h7M534 463h7M732 463h7M540 469h7M546 475h7M660 475h7M660 481h7M744 481h7M762 481h7M522 487h7M546 487h7M654 493h7M750 499h7M474 511h7M726 511h7M726 517h7M762 517h7M648 523h7M762 523h7M648 529h7M738 529h7M750 535h7M474 541h7M576 547h19M570 553h7M588 553h7M492 559h7M564 559h7M588 559h7M648 559h7M510 565h7M558 565h7M528 571h25M636 595h7M618 601h13" stroke="#3c3c3c"/><path d="M864 133h7M828 151h7M870 151h7M828 157h7M870 157h7M828 163h7M870 187h7M864 193h7M840 199h13M864 199h7M822 205h7M870 205h7M816 211h7M870 211h7M264 223h7M318 223h7M666 223h7M342 229h7M702 229h13M810 229h7M348 235h7M660 235h7M246 241h7M618 241h7M756 241h7M192 247h7M240 247h7M210 253h25M354 259h7M810 259h7M354 265h7M816 265h7M846 265h13M354 271h7M624 271h7M672 271h7M360 289h7M258 301h7M510 301h7M252 307h7M288 307h7M366 307h7M372 313h13M402 313h7M624 313h7M660 319h7M306 331h7M360 331h7M372 331h7M648 331h7M312 337h7M342 337h7M378 337h7M402 337h7M510 337h7M552 337h7M252 343h7M384 343h7M396 343h7M546 343h7M252 349h7M546 349h7M606 349h7M492 355h7M750 355h7M552 361h7M252 373h7M474 373h7M732 373h7M246 379h7M198 385h37M474 385h7M132 409h7M534 409h7M732 415h7M120 427h7M744 427h13M474 433h7M714 433h7M480 439h7M660 439h13M732 439h7M114 445h7M654 457h7M732 457h7M780 463h7M768 475h7M498 481h7M510 481h7M552 481h7M750 481h13M744 499h7M648 505h7M732 505h7M648 511h7M474 517h7M648 517h7M732 523h7M588 535h7M648 535h7M582 541h13M648 541h7M480 547h7M648 547h7M486 553h7M648 553h7M498 559h7M516 565h7M552 565h7M642 571h7M642 577h7M642 583h7M594 589h7M600 595h7" stroke="#3e3e3e"/><path d="M858 133h7M834 139h7M864 139h7M870 163h7M834 175h7M870 181h7M846 187h7M852 193h13M852 199h13M864 205h7M870 217h7M690 223h7M336 229h7M720 235h7M804 235h7M348 241h7M186 247h7M348 247h7M618 247h7M666 247h7M738 247h13M204 253h7M234 253h7M618 253h7M672 253h7M864 253h7M858 259h7M822 265h25M354 277h7M624 277h7M792 277h7M666 289h7M360 295h7M282 301h7M624 307h7M294 313h7M366 313h7M384 313h19M618 313h7M366 319h13M612 319h7M786 319h7M360 325h19M408 325h7M354 331h7M606 331h7M780 331h7M318 337h7M336 337h7M774 337h7M390 343h7M504 349h7M252 355h7M612 355h13M252 361h7M486 361h7M252 367h7M558 367h7M474 379h7M192 385h7M522 385h7M156 397h7M474 403h7M126 415h7M468 415h7M522 415h7M468 421h7M720 427h7M678 433h13M738 433h7M114 439h7M648 445h7M732 445h7M732 451h7M738 469h7M774 469h7M744 475h7M504 481h7M552 487h7M654 487h7M534 493h7M480 499h7M648 499h7M474 523h7M642 523h7M474 529h7M588 529h13M642 529h7M474 535h7M582 535h7M594 535h7M576 541h7M594 541h7M570 547h7M594 547h7M564 553h7M594 553h7M504 559h7M558 559h7M522 565h7M642 565h7M606 595h7" stroke="#404040"/><path d="M864 145h7M870 169h7M870 175h7M840 181h7M864 187h7M282 205h7M858 205h7M864 211h7M270 217h7M306 217h7M672 223h7M330 229h7M696 229h7M342 235h7M768 235h7M798 235h7M726 241h7M246 247h7M864 247h7M198 253h7M240 253h7M348 253h7M690 253h7M348 259h7M678 259h7M816 259h7M852 259h7M678 265h7M792 271h7M672 277h7M354 283h7M624 283h7M258 295h19M666 295h7M252 301h7M360 301h7M360 307h7M666 307h7M246 313h7M360 313h7M666 313h7M786 313h7M300 319h7M360 319h7M378 319h7M516 319h7M516 325h7M348 331h7M378 331h7M516 331h7M324 337h13M384 337h7M396 337h7M510 343h7M756 349h7M498 355h7M738 361h7M480 367h7M240 379h7M186 385h7M504 385h7M726 391h7M480 397h7M498 397h7M528 397h7M726 397h7M138 403h7M120 421h7M726 421h7M114 433h7M510 439h7M648 439h7M522 445h7M648 451h7M654 463h7M552 475h7M762 475h7M558 481h7M654 481h7M558 487h7M540 493h7M648 493h7M738 505h7M750 505h7M642 511h7M732 511h7M756 511h7M642 517h7M732 517h7M588 523h19M582 529h7M600 529h13M756 529h7M576 535h7M600 535h7M642 535h7M480 541h7M570 541h7M600 541h7M486 547h7M492 553h7M510 559h7M594 559h7M642 559h7M528 565h7M546 565h7M594 583h7M636 589h7M612 595h7M630 595h7" stroke="#424242"/><path d="M858 139h7M834 145h7M864 151h7M834 169h7M852 187h13M828 205h7M852 205h7M276 211h7M816 217h7M864 217h7M312 223h7M678 223h13M666 229h7M336 235h7M714 235h7M792 235h7M810 235h7M252 241h7M342 241h7M612 241h7M666 241h7M732 247h7M186 253h13M678 253h13M804 253h7M858 253h7M216 259h25M618 259h7M684 259h7M822 259h31M348 265h7M792 265h7M348 271h7M354 289h7M624 289h7M252 295h7M276 295h7M624 295h7M786 295h7M246 301h7M624 301h7M666 301h7M786 301h7M246 307h7M618 307h7M786 307h7M516 313h7M246 319h7M384 319h7M402 319h7M246 325h7M306 325h7M354 325h7M378 325h7M780 325h7M312 331h7M342 331h7M384 331h7M402 331h7M390 337h7M516 337h7M546 337h7M546 355h7M744 355h7M492 361h7M732 367h7M246 373h7M234 379h7M510 379h7M726 385h7M168 391h7M480 391h7M486 397h7M726 403h7M534 415h7M114 427h7M672 433h7M708 433h7M744 433h7M756 433h7M504 439h7M528 451h7M774 463h7M546 469h7M654 469h7M654 475h7M750 475h13M564 481h7M492 487h7M564 487h13M486 493h7M528 493h7M546 493h7M480 505h7M642 505h7M744 505h7M588 517h19M636 517h7M582 523h7M606 523h13M636 523h7M576 529h7M612 529h7M636 529h7M744 529h7M606 535h7M636 535h7M642 541h7M564 547h7M498 553h7M558 553h7M516 559h7M552 559h7M534 565h13M594 565h7M594 571h7M594 577h7M600 589h7M618 595h13" stroke="#444444"/><path d="M846 139h13M834 151h7M864 157h7M846 181h7M864 181h7M294 205h7M834 205h19M300 211h7M858 211h7M816 223h7M864 223h7M324 229h7M258 235h7M666 235h7M702 235h13M786 235h7M864 235h7M864 241h7M342 247h7M612 247h7M858 247h7M180 253h7M798 253h7M810 253h13M852 253h7M204 259h13M240 259h7M690 259h7M792 259h7M618 265h7M678 271h7M348 277h7M672 283h7M786 289h7M354 295h7M288 301h7M294 307h7M516 307h7M612 313h7M354 319h7M390 319h13M678 319h7M780 319h7M384 325h7M402 325h7M606 325h7M246 331h7M390 331h13M558 331h7M774 331h7M246 337h7M600 337h7M642 337h7M768 337h7M246 343h7M600 343h7M762 343h7M576 355h7M606 355h7M246 367h7M486 367h7M480 373h7M570 373h7M228 379h7M516 379h7M726 379h7M498 391h7M150 397h7M492 397h7M504 403h7M534 403h7M126 409h7M726 409h7M120 415h7M726 415h7M690 433h7M750 433h7M516 439h7M738 439h7M534 457h7M648 457h7M774 457h7M540 463h7M738 463h7M744 469h7M768 469h7M558 475h7M570 481h19M516 487h7M576 487h13M648 487h7M552 493h31M642 499h7M480 511h7M588 511h13M636 511h7M480 517h7M582 517h7M606 517h19M630 517h7M576 523h7M618 523h19M738 523h7M480 529h7M618 529h19M750 529h7M480 535h7M570 535h7M564 541h7M600 547h7M642 547h7M642 553h7M636 565h7M636 571h7M636 577h7M636 583h7" stroke="#464646"/><path d="M840 145h7M858 145h7M834 157h7M834 163h7M864 163h7M840 175h7M864 175h7M858 181h7M288 205h7M822 211h7M690 229h7M816 229h7M864 229h7M330 235h7M696 235h7M774 235h13M336 241h7M720 241h7M672 247h7M690 247h7M750 247h7M246 253h7M342 253h7M822 253h7M846 253h7M198 259h7M342 259h7M222 265h19M684 265h7M348 283h7M252 289h19M246 295h7M282 295h7M516 295h7M240 301h7M354 301h7M516 301h7M240 307h7M354 307h7M240 313h7M354 313h7M672 313h7M666 319h13M348 325h7M390 325h13M318 331h7M336 331h7M552 331h7M564 331h7M516 343h7M540 343h7M636 343h7M246 349h7M510 349h7M750 349h7M246 355h7M504 355h7M246 361h7M576 361h7M240 373h7M564 373h7M726 373h7M222 379h7M180 385h7M480 385h7M486 391h7M480 403h7M474 409h7M114 421h7M528 421h7M684 427h7M714 427h7M654 433h19M738 445h7M738 457h7M564 475h25M582 493h7M570 499h19M576 505h19M636 505h7M576 511h13M600 511h13M738 511h7M576 517h7M624 517h7M756 517h7M480 523h7M756 523h7M570 529h7M612 535h7M630 535h7M486 541h7M606 541h7M492 547h7M558 547h7M504 553h7M522 559h7M546 559h7" stroke="#484848"/><path d="M852 145h7M864 169h7M852 181h7M852 211h7M858 217h7M264 229h7M318 229h7M672 229h7M816 235h7M606 241h7M798 241h19M858 241h7M252 247h7M684 247h7M726 247h7M810 247h13M852 247h7M612 253h7M696 253h7M828 253h19M186 259h13M246 259h7M216 265h7M240 265h7M342 265h7M618 271h7M786 283h7M246 289h7M270 289h7M672 289h7M240 295h7M618 301h7M612 307h7M300 313h7M780 313h7M240 319h7M522 325h7M660 325h7M774 325h7M324 331h13M522 331h7M600 331h7M654 331h7M522 337h7M540 337h7M576 337h7M582 343h7M540 349h7M600 349h7M630 349h7M498 361h7M576 367h7M216 379h7M480 379h7M492 391h7M132 403h7M486 403h7M720 421h7M474 427h7M678 427h7M702 433h7M486 439h7M522 439h7M744 439h7M642 445h7M642 451h7M738 451h7M648 463h7M768 463h7M552 469h7M762 469h7M588 481h7M648 481h7M588 487h7M522 493h7M588 493h7M642 493h7M564 499h7M588 499h7M570 505h7M594 505h7M612 511h25M750 511h7M738 517h7M570 523h7M564 535h7M618 535h13M636 541h7M498 547h7M510 553h7M552 553h7M600 553h7M528 559h7M540 559h7M636 559h7M606 589h7M630 589h7" stroke="#4a4a4a"/><path d="M846 145h7M858 151h7M846 211h7M858 223h7M684 229h7M858 229h7M858 235h7M696 241h7M714 241h7M792 241h7M816 241h7M336 247h7M678 247h7M696 247h7M798 247h13M822 247h7M846 247h7M792 253h7M174 259h13M612 259h7M210 265h7M246 265h7M222 271h25M342 271h7M234 277h19M678 277h7M240 283h25M240 289h7M276 289h7M348 289h7M288 295h7M294 301h7M780 301h7M780 307h7M306 319h7M348 319h7M522 319h7M606 319h7M240 325h7M312 325h7M342 325h7M546 331h7M570 331h7M756 343h7M624 355h7M738 355h7M612 361h7M732 361h7M240 367h7M492 367h7M234 373h7M210 379h7M504 379h7M162 391h7M144 397h7M492 403h7M510 409h7M516 415h7M522 421h7M480 433h7M648 433h7M696 433h7M642 439h7M750 439h13M528 445h7M768 451h7M768 457h7M744 463h7M582 469h7M648 469h7M750 469h13M588 475h7M486 499h7M540 499h25M594 499h7M636 499h7M564 505h7M600 505h7M630 505h7M570 511h7M744 511h7M570 517h7M564 529h7M486 535h7M492 541h7M558 541h7M612 541h7M606 547h7M516 553h7M534 559h7M600 583h7" stroke="#4c4c4c"/><path d="M840 151h7M858 175h7M828 211h7M822 217h7M852 217h7M270 223h7M678 229h7M324 235h7M672 235h7M690 235h7M258 241h7M330 241h7M672 241h7M690 241h7M702 241h13M762 241h7M822 241h7M852 241h7M606 247h7M792 247h7M828 247h19M252 253h7M336 253h7M156 259h19M336 259h7M198 265h13M690 265h7M216 271h7M246 271h7M684 271h7M228 277h7M252 277h7M342 277h7M618 277h7M234 283h7M264 283h7M234 289h7M282 289h7M234 295h7M348 295h7M618 295h7M672 295h7M780 295h7M234 301h7M348 301h7M672 301h7M234 307h7M672 307h7M234 313h7M348 313h7M522 313h7M774 319h7M240 331h7M528 331h7M768 331h7M528 337h13M648 337h7M762 337h7M522 343h7M534 343h7M594 343h7M516 349h7M582 349h7M744 349h7M510 355h7M600 355h7M240 361h7M504 361h7M726 367h7M576 373h7M204 379h7M174 385h7M720 385h7M720 391h7M720 397h7M498 403h7M540 409h7M474 415h7M540 415h7M534 421h7M690 427h7M708 427h7M744 445h7M762 445h7M642 457h7M546 463h7M558 469h25M588 469h7M648 475h7M594 481h7M498 487h7M510 487h7M594 487h7M642 487h7M594 493h7M534 499h7M600 499h7M606 505h13M624 505h7M564 523h7M744 523h7M486 529h7M558 535h7M630 541h7M504 547h7M552 547h7M636 547h7M546 553h7M636 553h7M630 565h7M630 571h7M612 589h7M624 589h7" stroke="#4e4e4e"/><path d="M846 151h13M840 157h7M858 157h7M840 169h7M846 175h7M282 211h7M840 211h7M852 223h7M852 229h7M822 235h7M852 235h7M600 241h7M786 241h7M846 241h7M330 247h7M720 247h7M606 253h7M732 253h13M114 259h13M138 259h19M252 259h7M696 259h7M186 265h13M252 265h7M336 265h7M612 265h7M210 271h7M252 271h7M222 277h7M258 277h7M786 277h7M228 283h7M270 283h7M342 283h7M228 289h7M522 301h7M300 307h7M348 307h7M522 307h7M678 313h7M234 319h7M318 325h7M336 325h7M534 331h13M240 337h7M594 337h7M240 343h7M528 343h7M240 349h7M240 355h7M606 361h7M618 361h7M498 367h7M228 373h7M486 373h7M510 373h7M720 373h7M198 379h7M570 379h7M720 379h7M486 385h7M498 385h7M126 403h7M720 403h7M720 415h7M474 421h7M684 421h7M528 427h7M672 427h7M522 433h7M498 439h7M744 457h7M762 463h7M594 475h7M492 493h7M636 493h7M528 499h7M630 499h7M486 505h7M558 505h7M618 505h7M486 511h7M564 511h7M486 517h7M564 517h7M744 517h7M486 523h7M750 523h7M498 541h7M552 541h7M618 541h13M510 547h7M522 553h7M600 559h7M630 577h7M630 583h7M618 589h7" stroke="#505050"/><path d="M840 163h7M858 163h7M858 169h7M852 175h7M834 211h7M276 217h7M846 217h7M306 223h7M822 223h7M312 229h7M822 229h7M264 235h7M684 241h7M828 241h7M840 241h7M258 247h7M102 265h7M162 265h25M204 271h7M336 271h7M216 277h7M264 277h7M222 283h7M276 283h7M618 283h7M678 283h7M288 289h7M342 289h7M618 289h7M228 295h7M294 295h7M522 295h7M228 301h7M612 301h7M228 307h7M606 313h7M774 313h7M312 319h7M342 319h7M234 325h7M324 325h13M528 325h7M552 325h13M600 325h7M768 325h7M582 337h7M588 343h7M750 343h7M594 349h7M234 367h7M504 367h7M504 373h7M192 379h7M138 397h7M720 409h7M714 421h7M522 427h7M516 433h7M492 439h7M528 439h7M750 445h13M534 451h7M744 451h7M762 451h7M540 457h7M762 457h7M582 463h13M642 463h7M750 463h13M594 469h7M642 481h7M504 487h7M516 493h7M600 493h7M606 499h7M750 517h7M558 529h7M492 535h7M516 547h7M546 547h7M528 553h7M540 553h7M630 559h7M600 577h7" stroke="#525252"/><path d="M294 211h7M300 217h7M318 235h7M678 235h13M846 235h7M324 241h7M678 241h7M780 241h7M834 241h7M600 247h7M702 247h7M714 247h7M258 253h7M330 253h7M726 253h7M744 253h7M606 259h7M108 265h55M258 265h7M90 271h13M198 271h7M258 271h7M84 277h7M336 277h7M222 289h7M780 289h7M342 295h7M300 301h7M774 307h7M228 313h7M306 313h7M684 319h7M546 325h7M564 325h7M594 331h7M588 337h7M756 337h7M522 349h7M534 349h7M588 349h7M540 355h7M510 361h7M546 361h7M600 361h7M726 361h7M552 367h7M720 367h7M222 373h7M486 379h7M576 379h7M492 385h7M156 391h7M480 409h7M678 421h7M690 421h7M696 427h13M528 433h7M636 445h7M636 451h7M552 463h7M576 463h7M594 463h7M642 469h7M600 475h7M600 481h7M600 487h7M612 499h7M624 499h7M552 505h7M558 511h7M558 517h7M558 523h7M552 535h7M504 541h7M522 547h7M612 547h7M534 553h7M606 553h7M600 565h7M600 571h7" stroke="#545454"/><path d="M846 157h13M846 223h7M846 229h7M828 235h7M840 235h7M768 241h7M708 247h7M756 247h7M786 247h7M258 259h7M330 259h7M330 265h7M696 265h7M102 271h13M174 271h25M612 271h7M690 271h7M786 271h7M90 277h7M210 277h7M270 277h7M684 277h7M216 283h7M282 283h7M336 283h7M294 289h7M678 289h7M222 295h7M222 301h7M342 301h7M774 301h7M342 307h7M606 307h7M342 313h7M336 319h7M528 319h7M768 319h7M534 325h13M234 331h7M576 331h7M762 331h7M642 343h7M528 349h7M738 349h7M516 355h7M594 355h7M234 361h7M510 367h7M582 367h7M606 367h13M492 373h13M558 373h7M582 373h7M714 373h7M186 379h7M564 379h7M714 379h7M168 385h7M714 385h7M528 391h7M714 391h7M540 403h7M546 409h7M540 421h7M708 421h7M534 427h7M666 427h7M750 451h13M588 457h13M636 457h7M750 457h13M570 463h7M600 463h7M600 469h7M642 475h7M636 487h7M606 493h7M630 493h7M522 499h7M618 499h7M546 505h7M492 529h7M552 529h7M498 535h7M510 541h13M546 541h7M540 547h7M618 547h7M630 547h7M630 553h7" stroke="#565656"/><path d="M846 169h13M288 211h7M828 217h7M840 217h7M270 229h7M828 229h7M834 235h7M264 241h7M774 241h7M324 247h7M594 247h7M600 253h7M720 253h7M786 259h7M786 265h7M114 271h13M150 271h25M264 271h7M330 271h7M96 277h13M204 277h7M84 283h13M210 283h7M216 289h7M336 289h7M300 295h7M612 295h7M678 295h7M774 295h7M528 301h7M222 307h7M306 307h7M528 307h7M528 313h7M228 319h7M318 319h19M666 325h7M678 325h7M234 337h7M744 343h7M234 355h7M582 355h7M228 367h7M216 373h7M498 379h7M582 379h7M570 385h13M132 397h7M714 397h7M546 415h7M684 415h13M714 415h7M696 421h13M510 433h7M642 433h7M636 439h7M594 451h7M582 457h7M600 457h7M558 463h13M636 463h7M606 487h7M624 493h7M492 499h7M534 505h13M552 511h7M492 523h7M552 523h7M546 535h7M522 541h7M528 547h13M624 547h7M606 583h7M624 583h7" stroke="#585858"/><path d="M846 163h13M834 217h7M828 223h7M840 223h7M840 229h7M324 253h7M702 253h7M786 253h7M264 265h7M606 265h7M126 271h25M108 277h7M198 277h7M276 277h7M330 277h7M612 277h7M96 283h7M288 283h7M684 283h7M780 283h7M84 289h7M216 295h7M528 295h7M678 307h7M222 313h7M312 313h7M336 313h7M768 313h7M600 319h7M228 325h7M570 325h7M672 325h7M762 325h7M582 331h13M234 343h7M234 349h7M588 355h7M582 361h7M594 361h7M600 367h7M714 367h7M210 373h7M516 373h7M180 379h7M150 391h7M534 397h7M564 403h7M714 403h7M552 409h7M714 409h7M516 421h7M672 421h7M660 427h7M534 445h7M588 451h7M600 451h7M576 457h7M606 463h7M606 469h7M606 475h7M606 481h7M636 481h7M630 487h7M498 493h7M612 493h13M492 505h7M528 505h7M492 517h7M552 517h7M546 529h7M504 535h25M528 541h19M624 565h7" stroke="#5a5a5a"/><path d="M834 229h7M318 241h7M264 247h7M594 253h7M708 253h13M264 259h7M324 259h7M600 259h7M702 259h7M732 259h7M324 265h7M270 271h7M324 271h7M696 271h7M114 277h13M156 277h43M282 277h7M690 277h7M102 283h7M204 283h7M294 283h7M330 283h7M90 289h13M210 289h7M300 289h7M612 289h7M84 295h7M306 295h7M336 295h7M216 301h7M306 301h7M336 301h7M606 301h7M678 301h7M336 307h7M768 307h7M684 313h7M534 319h31M594 325h7M756 331h7M654 337h7M750 337h7M720 361h7M222 367h7M588 367h13M618 367h7M588 373h7M606 373h13M708 373h7M492 379h7M708 379h7M582 385h7M708 385h7M570 391h13M708 391h7M126 397h7M564 397h13M624 397h13M558 403h7M570 403h7M558 409h13M690 409h7M678 415h7M696 415h19M516 427h7M534 433h7M630 445h7M582 451h7M630 451h7M546 457h7M606 457h7M630 457h7M636 469h7M636 475h7M612 487h7M510 493h7M492 511h7M546 523h7M498 529h7M522 529h7M528 535h19M612 553h7M624 553h7M624 559h7M624 571h7" stroke="#5c5c5c"/><path d="M282 217h7M276 223h7M834 223h7M312 235h7M264 253h7M750 253h7M726 259h7M738 259h7M702 265h7M606 271h7M126 277h31M324 277h7M108 283h7M300 283h7M324 283h7M612 283h7M102 289h7M306 289h7M330 289h7M684 289h7M90 295h7M210 295h7M84 301h7M768 301h7M216 307h7M312 307h7M534 307h7M318 313h19M534 313h7M222 319h7M762 319h7M228 331h7M660 331h7M648 343h7M636 349h7M732 349h7M522 355h7M228 361h7M516 361h7M588 361h7M624 361h7M204 373h7M594 373h13M588 379h7M162 385h7M564 385h7M708 397h7M690 403h7M708 403h7M504 409h7M570 409h7M684 409h7M696 409h19M552 415h7M546 421h7M534 439h7M588 445h19M540 451h7M606 451h7M570 457h7M612 457h7M612 463h7M630 463h7M612 469h7M612 475h7M612 481h7M630 481h7M618 487h13M516 499h7M522 505h7M546 511h7M516 529h7M528 529h19M618 553h7M606 559h7M624 577h7M612 583h13" stroke="#5e5e5e"/><path d="M300 223h7M306 229h7M270 235h7M318 247h7M780 247h7M588 253h7M708 259h7M720 259h7M270 265h7M600 265h7M276 271h7M288 277h7M318 277h7M114 283h7M162 283h43M306 283h7M318 283h7M204 289h7M312 289h19M534 289h7M774 289h7M96 295h7M312 295h7M330 295h7M534 295h7M606 295h7M90 301h7M210 301h7M312 301h7M534 301h7M330 307h7M216 313h7M540 313h7M600 313h7M564 319h7M576 325h7M684 325h7M228 337h7M738 343h7M534 355h7M516 367h7M174 379h7M594 379h7M606 379h13M702 379h7M702 385h7M144 391h7M564 391h7M624 391h7M690 391h7M702 391h7M576 397h7M690 397h19M546 403h13M630 403h7M684 403h7M696 403h13M486 409h7M558 415h13M480 427h7M540 427h7M654 427h7M630 439h7M612 451h7M624 451h7M618 457h13M618 463h13M618 469h7M630 469h7M618 475h7M630 475h7M618 481h13M504 493h7M528 511h19M546 517h7M498 523h7M522 523h25M504 529h13" stroke="#606060"/><path d="M294 217h7M318 253h7M318 259h7M594 259h7M714 259h7M318 265h7M318 271h7M294 277h7M312 277h7M606 277h7M696 277h7M780 277h7M120 283h13M150 283h13M312 283h7M690 283h7M108 289h7M198 289h7M102 295h7M204 295h7M318 295h13M684 295h7M96 301h7M318 301h7M330 301h7M84 307h13M210 307h7M318 307h13M546 313h13M762 313h7M222 325h7M582 325h13M756 325h7M744 337h7M228 343h7M228 349h7M228 355h7M528 355h7M630 355h7M714 361h7M216 367h7M708 367h7M198 373h7M618 373h7M522 379h7M600 379h7M618 379h7M588 385h7M618 385h7M696 385h7M582 391h7M618 391h7M630 391h7M684 391h7M696 391h7M558 397h7M684 397h7M576 403h7M624 403h7M480 415h7M510 415h7M570 415h7M636 433h7M582 445h7M606 445h7M624 445h7M576 451h7M618 451h7M552 457h7M564 457h7M624 469h7M624 475h7M498 499h7M522 511h7M498 517h7M528 517h19M516 523h7" stroke="#626262"/><path d="M270 241h7M312 241h7M270 259h7M744 259h7M708 265h7M282 271h7M312 271h7M600 271h7M702 271h7M300 277h13M132 283h19M114 289h7M168 289h31M606 289h7M108 295h7M198 295h7M768 295h7M102 301h7M204 301h7M324 301h7M540 301h7M96 307h7M540 307h7M84 313h7M558 313h7M216 319h7M570 319h7M594 319h7M750 331h7M222 361h7M192 373h7M702 373h7M696 379h7M612 385h7M624 385h7M690 385h7M138 391h7M576 409h7M678 409h7M552 421h7M570 421h7M666 421h7M486 433h7M504 433h7M588 439h13M612 445h7M558 457h7M510 499h7M498 505h7M516 505h7M498 511h7M516 517h13M504 523h13M618 559h7M606 577h7" stroke="#646464"/><path d="M288 217h7M270 247h7M762 247h7M270 253h7M588 259h7M276 265h7M312 265h7M594 265h7M288 271h7M606 283h7M120 289h7M156 289h13M540 289h7M690 289h7M192 295h7M540 295h7M108 301h7M600 301h7M684 301h7M102 307h7M204 307h7M546 307h7M600 307h7M684 307h7M762 307h7M90 313h7M210 313h7M222 331h7M168 379h7M558 379h7M156 385h7M594 385h19M684 385h7M132 391h7M588 391h7M582 397h7M618 397h7M576 415h7M672 415h7M558 421h13M576 421h7M648 427h7M582 439h7M600 439h7M624 439h7M576 445h7M618 445h7M570 451h7M504 499h7M516 511h7M504 517h13" stroke="#666666"/><path d="M276 229h7M306 235h7M312 247h7M774 247h7M312 253h7M780 253h7M312 259h7M714 265h25M294 271h19M708 271h7M600 277h7M702 277h7M696 283h7M774 283h7M126 289h7M150 289h7M114 295h7M174 295h19M600 295h7M198 301h7M546 301h7M762 301h7M552 307h7M96 313h7M564 313h7M84 319h7M576 319h7M756 319h7M732 343h7M642 349h7M708 361h7M210 367h7M624 367h7M702 367h7M186 373h7M696 373h7M624 379h7M690 379h7M612 391h7M678 397h7M582 403h7M678 403h7M492 409h7M480 421h7M576 427h7M540 433h7M582 433h7M630 433h7M540 445h7M504 505h13M504 511h13M612 559h7M606 565h7" stroke="#686868"/><path d="M282 223h7M276 259h7M282 265h7M306 265h7M588 265h7M594 271h7M780 271h7M600 283h7M132 289h19M546 289h7M600 289h7M768 289h7M120 295h7M162 295h13M546 295h7M690 295h7M114 301h7M186 301h13M108 307h7M198 307h7M558 307h7M102 313h7M204 313h7M756 313h7M90 319h7M210 319h7M588 319h7M216 325h7M750 325h7M744 331h7M222 337h7M738 337h7M222 355h7M714 355h7M216 361h7M522 361h7M540 361h7M624 373h7M630 385h7M126 391h7M558 391h7M678 391h7M636 397h7M498 409h7M582 409h7M546 427h7M570 427h7M582 427h7M576 433h7M588 433h7M576 439h7M606 439h19M546 451h7M606 571h7M618 577h7" stroke="#6a6a6a"/><path d="M768 247h7M756 253h7M780 259h7M288 265h7M300 265h7M738 265h7M714 271h7M696 289h7M156 295h7M174 301h13M552 301h7M690 301h7M570 313h7M96 319h7M582 319h7M84 325h7M222 343h7M654 343h7M222 349h7M648 349h7M204 367h7M546 367h7M180 373h7M594 391h7M606 391h7M540 397h7M552 397h7M588 397h7M582 415h7M582 421h7M510 427h7M564 427h7M642 427h7M594 433h7M540 439h7M570 445h7M564 451h7M618 565h7" stroke="#6c6c6c"/><path d="M294 223h7M300 229h7M276 235h7M306 241h7M276 253h7M306 259h7M750 259h7M294 265h7M780 265h7M588 271h7M594 277h7M708 277h7M702 283h7M552 289h7M126 295h7M150 295h7M552 295h7M762 295h7M168 301h7M114 307h7M186 307h13M564 307h7M690 307h7M756 307h7M108 313h7M198 313h7M594 313h7M690 313h7M90 325h7M84 331h7M216 331h7M702 361h7M696 367h7M552 373h7M690 373h7M162 379h7M684 379h7M150 385h7M558 385h7M678 385h7M600 391h7M618 403h7M636 403h7M624 409h13M672 409h7M552 427h7M588 427h7M570 433h7M624 433h7M570 439h7M612 577h7" stroke="#6e6e6e"/><path d="M276 241h7M276 247h7M306 247h7M306 253h7M282 259h7M720 271h7M774 277h7M594 283h7M594 289h7M132 295h19M594 295h7M696 295h7M120 301h7M162 301h7M558 301h7M174 307h13M576 313h7M102 319h7M204 319h7M690 319h7M750 319h7M96 325h7M210 325h7M666 331h7M678 331h7M660 337h7M732 337h7M708 355h7M198 367h7M174 373h7M636 391h7M546 397h7M612 397h7M510 421h7M660 421h7M558 427h7M636 427h7M600 433h7M618 433h7M552 451h13M618 571h7" stroke="#707070"/><path d="M288 223h7M288 259h7M300 259h7M744 265h7M726 271h7M588 277h7M714 277h7M708 283h7M768 283h7M558 289h7M702 289h7M558 295h7M126 301h7M156 301h7M564 301h7M594 301h7M168 307h7M570 307h7M192 313h7M744 325h7M90 331h7M672 331h7M684 331h7M738 331h7M84 337h7M216 337h7M216 355h7M210 361h7M630 361h7M522 367h7M522 373h7M630 379h7M594 397h7M588 403h7M666 415h7M588 421h7M630 427h7M564 433h7M606 433h13" stroke="#727272"/><path d="M282 229h7M300 235h7M282 253h7M774 253h7M294 259h7M732 271h7M582 277h7M588 283h7M762 289h7M150 301h7M696 301h7M756 301h7M120 307h7M162 307h7M114 313h7M168 313h25M582 313h13M750 313h7M108 319h7M198 319h7M102 325h7M96 331h7M90 337h7M216 343h7M216 349h7M714 349h7M528 361h7M192 367h7M690 367h7M168 373h7M684 373h7M678 379h7M120 385h7M144 385h7M528 385h7M672 403h7M588 409h7M588 415h7M594 427h7M624 427h7M498 433h7M546 433h7M546 445h7M564 445h7M612 565h7" stroke="#747474"/><path d="M300 253h7M738 271h7M720 277h7M570 283h7M582 283h7M564 289h7M588 289h7M564 295h7M702 295h7M132 301h7M144 301h7M570 301h7M576 307h7M594 307h7M204 325h7M690 325h7M210 331h7M720 343h7M654 349h7M702 355h7M534 361h7M696 361h7M630 367h7M630 373h7M156 379h7M126 385h19M600 397h13M672 397h7M618 409h7M624 415h7M492 433h7M564 439h7" stroke="#767676"/><path d="M294 229h7M300 241h7M282 247h7M300 247h7M288 253h13M774 271h7M576 283h7M714 283h7M570 289h7M582 289h7M708 289h7M570 295h7M588 295h7M756 295h7M138 301h7M156 307h7M696 307h7M750 307h7M162 313h7M114 319h7M174 319h7M192 319h7M744 319h7M108 325h7M738 325h7M102 331h7M732 331h7M96 337h7M726 337h7M636 355h7M648 355h7M204 361h7M186 367h7M636 385h7M672 391h7M612 403h7M486 415h7M630 415h7M624 421h13M600 427h7M618 427h7M558 433h7" stroke="#787878"/><path d="M282 235h7M282 241h7M762 253h7M756 259h7M774 259h7M750 265h7M744 271h7M726 277h7M768 277h7M762 283h7M576 289h7M576 295h13M576 301h7M588 301h7M702 301h7M126 307h7M582 307h13M120 313h7M168 319h7M180 319h13M210 337h7M96 343h7M660 343h7M708 349h7M210 355h7M642 355h7M690 361h7M180 367h7M684 367h7M162 373h7M678 373h7M534 391h7M552 391h7M594 403h7M636 409h7M594 421h7M606 427h13M552 433h7M546 439h7M558 445h7" stroke="#7a7a7a"/><path d="M288 229h7M288 247h13M768 253h7M774 265h7M732 277h7M720 283h7M714 289h7M756 289h7M708 295h7M582 301h7M750 301h7M132 307h7M150 307h7M156 313h7M744 313h7M162 319h7M198 325h7M204 331h7M102 337h7M714 343h7M96 349h7M210 349h7M654 355h7M696 355h7M174 367h7M114 379h7M672 385h7M666 409h7M504 415h7M618 415h7M618 421h7M636 421h7M654 421h7M558 439h7M552 445h7M612 571h7" stroke="#7c7c7c"/><path d="M294 235h7M294 241h7M138 307h13M696 313h7M120 319h7M738 319h7M114 325h7M192 325h7M108 331h7M690 331h7M720 337h7M102 343h7M210 343h7M702 349h7M198 361h7M108 373h7M120 379h7M150 379h7M636 379h7M642 397h7M594 409h7M594 415h7M486 427h7" stroke="#7e7e7e"/><path d="M288 235h7M288 241h7M756 265h7M750 271h7M768 271h7M738 277h7M762 277h7M726 283h7M756 283h7M750 295h7M708 301h7M702 307h7M126 313h7M168 325h25M732 325h7M726 331h7M108 337h7M666 337h7M678 337h13M102 349h7M660 349h7M204 355h7M690 355h7M102 361h7M684 361h7M168 367h7M678 367h7M126 379h7M672 379h7M600 403h13M666 403h7M636 415h7M660 415h7M600 421h7M552 439h7" stroke="#808080"/><path d="M762 259h7M744 277h19M720 289h7M750 289h7M714 295h7M744 307h7M150 313h7M156 319h7M162 325h7M114 331h7M198 331h7M204 337h7M708 343h7M696 349h7M102 355h7M192 361h7M108 367h7M114 373h7M156 373h7M636 373h7M672 373h7M132 379h19M552 379h7M642 391h7M642 403h7M612 409h7M606 421h13M642 421h7" stroke="#828282"/><path d="M768 259h7M768 265h7M756 271h13M732 283h7M750 283h7M714 301h7M132 313h7M738 313h7M126 319h7M696 319h7M732 319h7M120 325h7M726 325h7M672 337h7M690 337h7M714 337h7M108 343h7M702 343h7M108 349h7M660 355h7M108 361h7M636 361h7M648 361h13M678 361h7M162 367h7M636 367h7M120 373h7M552 385h7M666 397h7M612 415h7M648 421h7" stroke="#848484"/><path d="M762 265h7M738 283h13M726 289h7M720 295h7M744 301h7M708 307h7M138 313h13M156 325h7M168 331h13M192 331h7M720 331h7M114 337h7M204 343h7M666 343h7M684 343h19M204 349h7M690 349h7M108 355h7M684 355h7M174 361h19M642 361h7M114 367h7M672 367h7M126 373h7M642 385h7M666 391h7M600 409h7M600 415h7M486 421h7M504 427h7" stroke="#868686"/><path d="M744 289h7M744 295h7M720 301h7M714 307h7M738 307h7M702 313h7M732 313h7M150 319h7M726 319h7M126 325h7M696 325h7M120 331h7M162 331h7M180 331h13M696 331h7M198 337h7M696 337h7M708 337h7M114 343h7M678 343h7M666 349h7M684 349h7M198 355h7M666 355h7M678 355h7M114 361h7M162 361h13M660 361h7M672 361h7M156 367h7M528 367h7M150 373h7M666 385h7M546 391h7M606 415h7" stroke="#888888"/><path d="M732 289h13M726 295h7M720 307h7M708 313h7M132 319h7M720 325h7M156 331h7M714 331h7M120 337h7M702 337h7M672 343h7M114 349h7M678 349h7M114 355h7M672 355h7M666 361h7M120 367h7M540 367h7M642 367h7M666 367h7M132 373h7M144 373h7M666 373h7M642 379h7M666 379h7M606 409h7M642 409h7M660 409h7M492 415h7" stroke="#8a8a8a"/><path d="M738 295h7M726 301h7M738 301h7M726 307h13M714 313h19M138 319h13M702 319h7M720 319h7M150 325h7M126 331h7M162 337h19M192 337h7M120 343h7M198 343h7M672 349h7M162 355h13M120 361h7M156 361h7M126 367h7M150 367h7M648 367h19M138 373h7M642 373h7M540 391h7M498 415h7" stroke="#8c8c8c"/><path d="M732 295h7M732 301h7M708 319h13M132 325h7M144 325h7M702 325h7M714 325h7M150 331h7M702 331h13M126 337h7M156 337h7M180 337h13M162 343h13M120 349h7M162 349h7M198 349h7M120 355h7M156 355h7M174 355h13M192 355h7M126 361h7M150 361h7M132 367h7M648 397h7M660 403h7M642 415h7M654 415h7M504 421h7" stroke="#8e8e8e"/><path d="M138 325h7M708 325h7M132 331h7M144 331h7M150 337h7M126 343h7M156 343h7M174 343h7M126 349h7M150 349h13M168 349h13M126 355h7M150 355h7M186 355h7M138 367h13M546 373h7M648 373h7M660 373h7M648 391h7M660 397h7M648 403h7" stroke="#909090"/><path d="M138 331h7M132 337h19M132 343h7M144 343h13M180 343h7M192 343h7M132 349h7M144 349h7M132 355h7M144 355h7M132 361h19M654 373h7M648 379h7M660 379h7M648 385h7M660 391h7" stroke="#929292"/><path d="M138 343h7M186 343h7M138 349h7M180 349h19M138 355h7M534 367h7M528 379h7M660 385h7M654 397h7M654 403h7M654 409h7" stroke="#949494"/><path d="M654 379h7M648 409h7M648 415h7" stroke="#969696"/><path d="M528 373h7M654 385h7M654 391h7" stroke="#989898"/><path d="M492 427h7" stroke="#9a9a9a"/><path d="M546 385h7M498 427h7" stroke="#9e9e9e"/><path d="M492 421h7" stroke="#a2a2a2"/><path d="M546 379h7M534 385h7" stroke="#a4a4a4"/><path d="M498 421h7" stroke="#a6a6a6"/><path d="M540 373h7M540 385h7" stroke="#b0b0b0"/><path d="M534 373h7" stroke="#b6b6b6"/><path d="M540 379h7" stroke="#c4c4c4"/><path d="M534 379h7" stroke="#c6c6c6"/></g>
</g></g>
<path d="M141.7,390.0 L147.7,388.6 L153.8,387.4 L160.0,386.5 L165.2,385.5 L170.0,383.4 L175.9,383.9 L181.8,384.4 L187.5,386.1 L193.3,387.0 L200.0,388.5 L206.7,389.7 L211.7,389.7 L216.7,390.2 L221.7,390.7 L226.7,391.4 L231.9,390.0 L237.4,389.9 L242.8,389.3 L247.9,387.2 L253.4,387.0 L259.2,386.6 L265.0,387.2 L270.8,387.3 L276.7,386.9 L282.4,387.0 L287.8,388.6 L293.3,390.1 L297.9,393.9 L303.5,396.4" fill="none" stroke="#34340c" stroke-width="1" stroke-linejoin="round" opacity="0.92"/>
<path d="M303.3,396.7 L309.5,396.9 L315.5,398.3 L321.7,398.1 L320.7,392.5 L319.9,386.7 L326.7,380.1 L325.7,374.8 L323.1,370.1 L319.5,363.9 L315.1,358.2 L321.0,356.3 L326.7,353.4 L332.6,353.2 L338.3,351.4 L344.1,350.7 L350.0,349.8" fill="none" stroke="#34340c" stroke-width="1" stroke-linejoin="round" opacity="0.92"/>
<path d="M350.0,350.0 L352.6,344.6 L354.4,338.9 L356.5,333.3 L360.8,329.6 L365.8,326.9 L370.0,323.4 L375.2,318.6 L379.9,313.3 L385.0,310.8 L389.8,307.8 L395.2,306.1 L399.9,303.1 L401.6,298.3 L403.5,293.4 L403.4,285.0" fill="none" stroke="#34340c" stroke-width="1" stroke-linejoin="round" opacity="0.92"/>
<path d="M350.0,350.0 L355.7,351.0 L361.2,352.9 L366.6,355.2 L371.5,358.5 L376.5,361.9 L382.0,364.4 L387.8,366.0 L393.2,368.6 L398.3,369.5 L403.4,369.9 L406.5,363.2 L409.8,356.5 L419.7,354.9" fill="none" stroke="#34340c" stroke-width="1" stroke-linejoin="round" opacity="0.92"/>
<path d="M303.3,396.7 L301.0,402.0 L300.6,408.0 L298.3,413.3 L298.5,418.4 L298.2,423.4 L296.8,428.3 L296.8,433.3 L300.6,437.3 L303.8,441.9 L306.6,446.7 L311.6,449.3 L317.0,451.0 L321.9,453.8 L326.5,456.9 L332.6,457.9 L338.3,460.1 L344.2,461.5 L350.0,463.5 L355.8,465.2 L361.5,467.1 L367.5,468.4 L373.4,469.8 L377.1,475.6 L380.2,481.5 L386.6,483.0 L393.4,483.1 L397.4,479.9 L402.6,478.4 L406.6,474.8 L411.9,466.8 L409.9,461.2 L409.4,455.6 L408.2,450.0 L414.3,447.1 L419.7,443.4" fill="none" stroke="#34340c" stroke-width="1" stroke-linejoin="round" opacity="0.92"/>
<path d="M543.3,355.0 L546.7,355.4 L546.8,361.7 L547.9,367.6 L550.1,373.3 L554.9,380.0 L556.7,381.6 L553.5,386.8 L552.3,391.6 L546.6,394.1 L543.2,396.5 L541.8,403.4 L544.1,410.0 L540.0,415.0 L543.2,420.1 L546.5,423.2 L541.7,428.4 L539.2,430.0 L538.1,427.6 L533.4,423.0 L528.1,416.6 L526.3,409.2 L524.3,402.5 L519.7,396.3 L514.9,391.8 L510.8,388.4 L518.4,387.0 L526.6,384.1 L532.5,380.0 L533.4,371.6 L534.0,363.3 L539.8,355.2 L543.4,355.3" fill="none" stroke="#34340c" stroke-width="1" stroke-linejoin="round" opacity="0.92"/>
<path d="M456.7,330.0 L453.2,336.6 L449.8,342.4 L454.8,348.5 L461.6,355.1 L464.5,359.2 L468.3,362.5 L475.0,365.8 L480.2,360.2 L485.2,358.9 L490.1,356.9 L498.3,355.0 L507.5,353.5 L509.2,358.3 L505.5,364.9 L499.8,369.8 L498.5,377.5 L503.1,383.5 L510.9,388.2" fill="none" stroke="#34340c" stroke-width="1" stroke-linejoin="round" opacity="0.92"/>
<path d="M556.7,381.7 L563.4,384.8 L571.7,383.5 L578.3,379.9 L575.0,375.0 L578.4,368.4 L583.1,363.1 L588.5,356.8 L594.9,353.2 L603.3,350.0 L606.6,344.9 L613.4,340.1 L619.9,333.4" fill="none" stroke="#34340c" stroke-width="1" stroke-linejoin="round" opacity="0.92"/>
<path d="M552.5,391.7 L560.0,393.2 L566.8,399.8 L571.8,404.9 L573.4,410.0 L570.2,416.8 L571.9,423.3 L566.6,426.5 L561.6,426.8 L556.6,427.2 L551.6,427.2 L546.6,428.1 L543.4,431.7 L542.7,438.4 L544.3,446.6 L540.0,453.3 L541.7,459.8" fill="none" stroke="#34340c" stroke-width="1" stroke-linejoin="round" opacity="0.92"/>
<path d="M613.3,340.0 L610.8,345.0 L608.4,350.0 L606.1,354.8 L605.1,360.0 L606.7,368.3 L604.0,373.1 L602.3,378.3 L601.6,383.4 L600.2,388.4 L598.3,394.1 L597.8,400.1 L598.5,405.0 L598.3,410.0 L599.1,415.0 L600.2,420.0 L598.6,428.4 L597.7,436.7" fill="none" stroke="#34340c" stroke-width="1" stroke-linejoin="round" opacity="0.92"/>
<path d="M597.5,436.7 L605.1,433.5 L613.3,428.3 L619.9,426.1" fill="none" stroke="#34340c" stroke-width="1" stroke-linejoin="round" opacity="0.92"/>
<path d="M597.5,436.7 L598.3,441.8 L599.7,446.7 L602.8,453.0 L604.4,459.8" fill="none" stroke="#34340c" stroke-width="1" stroke-linejoin="round" opacity="0.92"/>
<path d="M440.0,360.8 L444.7,364.0 L448.4,368.3 L452.6,371.0 L456.8,373.9 L465.0,379.2 L469.5,381.6 L473.4,384.9 L480.1,389.9 L484.8,396.8 L487.6,405.0 L488.5,413.3 L486.9,420.1 L481.7,423.4 L477.4,430.0 L474.9,436.6 L468.2,441.5 L461.6,443.1 L460.2,450.0 L463.0,454.7 L464.9,459.9" fill="none" stroke="#34340c" stroke-width="1" stroke-linejoin="round" opacity="0.92"/>
<path d="M639.6,318.7 L641.5,312.9 L642.6,307.0 L646.6,301.3 L652.3,300.2 L654.4,307.9 L658.9,305.0 L663.8,302.8 L668.9,301.4 L673.8,299.4 L677.8,291.5 L685.4,288.5 L691.2,289.6 L694.9,297.4 L698.8,306.1 L706.8,307.0 L707.7,299.2 L708.7,291.4 L714.5,288.3" fill="none" stroke="#34340c" stroke-width="1" stroke-linejoin="round" opacity="0.92"/>
<path d="M714.6,288.5 L722.3,285.4 L730.2,280.8 L738.0,278.1 L745.7,275.9 L750.5,273.8 L755.4,271.9 L757.4,270.0" fill="none" stroke="#34340c" stroke-width="1" stroke-linejoin="round" opacity="0.92"/>
<path d="M706.8,307.0 L708.5,315.8 L716.5,321.6 L719.8,326.6" fill="none" stroke="#34340c" stroke-width="1" stroke-linejoin="round" opacity="0.92"/>
<path d="M639.6,318.7 L644.4,322.1 L648.5,326.4 L650.3,336.2 L646.5,344.0 L648.2,351.8 L644.3,359.4 L641.3,367.2 L642.4,373.2 L643.8,378.9 L646.4,386.8 L644.9,391.6 L643.5,396.5 L644.6,402.3" fill="none" stroke="#34340c" stroke-width="1" stroke-linejoin="round" opacity="0.92"/>
<path d="M639.6,318.7 L636.0,322.3 L632.6,326.3 L629.4,330.8 L625.0,334.1 L619.2,338.2 L615.3,342.0 L611.2,345.7 L606.2,347.7 L601.6,350.7 L595.9,353.9 L589.9,355.4" fill="none" stroke="#34340c" stroke-width="1" stroke-linejoin="round" opacity="0.92"/>
<path d="M699.0,365.4 L695.2,369.4 L691.4,374.2 L687.1,378.9 L681.6,384.9 L678.9,389.9 L675.4,394.4 L671.5,402.2 L669.9,406.3" fill="none" stroke="#34340c" stroke-width="1" stroke-linejoin="round" opacity="0.92"/>
<path d="M644.5,402.3 L654.2,404.2 L664.0,404.2 L669.9,406.0" fill="none" stroke="#34340c" stroke-width="1" stroke-linejoin="round" opacity="0.92"/>
<path d="M669.8,406.2 L673.8,414.0 L675.3,420.1" fill="none" stroke="#34340c" stroke-width="1" stroke-linejoin="round" opacity="0.92"/>
<path d="M644.5,402.3 L642.8,410.2 L639.0,415.4 L634.9,420.2" fill="none" stroke="#34340c" stroke-width="1" stroke-linejoin="round" opacity="0.92"/>
<path d="M667.8,315.7 L673.5,311.6 L681.5,315.8 L687.2,320.7 L692.0,327.5 L688.2,334.2 L681.4,337.0 L673.6,334.5 L667.8,328.5 L665.2,321.5 L667.6,315.6" fill="none" stroke="#34340c" stroke-width="1" stroke-linejoin="round" opacity="0.92"/>
<path d="M688.3,334.2 L695.1,335.1 L701.9,338.1 L704.0,346.8 L698.0,351.7 L691.1,348.1 L687.2,342.1 L688.6,334.3" fill="none" stroke="#34340c" stroke-width="1" stroke-linejoin="round" opacity="0.92"/>
<path d="M597.8,437.0 L600.3,442.6 L601.4,448.7 L605.0,453.3 L607.2,458.5 L611.2,462.5 L615.2,466.2 L623.2,470.8 L629.1,471.8 L634.7,474.1 L640.6,473.0 L646.4,472.8 L652.2,474.2 L654.0,479.9 L662.1,483.4 L671.7,485.9 L677.6,483.7" fill="none" stroke="#34340c" stroke-width="1" stroke-linejoin="round" opacity="0.92"/>
<path d="M677.6,483.7 L675.6,475.9 L681.3,469.9 L675.6,466.2 L670.0,460.1 L673.6,452.5 L675.1,447.5 L677.4,442.7 L683.4,441.6 L687.2,435.0 L683.6,429.0 L687.1,423.2" fill="none" stroke="#34340c" stroke-width="1" stroke-linejoin="round" opacity="0.92"/>
<path d="M677.6,483.7 L681.6,491.4 L685.1,499.4 L687.0,507.1 L690.9,515.0" fill="none" stroke="#34340c" stroke-width="1" stroke-linejoin="round" opacity="0.92"/>
<path d="M691.2,514.8 L683.5,516.9 L675.6,514.9 L667.7,520.4 L662.0,526.5" fill="none" stroke="#34340c" stroke-width="1" stroke-linejoin="round" opacity="0.92"/>
<path d="M662.0,526.5 L654.3,520.6 L646.5,522.7 L638.5,517.0 L628.9,518.8 L619.2,516.6 L609.5,515.6 L604.6,517.2 L599.7,518.7 L594.8,521.6 L590.0,524.6" fill="none" stroke="#34340c" stroke-width="1" stroke-linejoin="round" opacity="0.92"/>
<path d="M662.0,526.5 L660.0,534.3 L663.8,542.2 L662.2,550.1" fill="none" stroke="#34340c" stroke-width="1" stroke-linejoin="round" opacity="0.92"/>
<path d="M691.2,514.8 L699.0,516.8 L706.8,515.1 L714.5,518.9 L724.3,516.6" fill="none" stroke="#34340c" stroke-width="1" stroke-linejoin="round" opacity="0.92"/>
<path d="M724.3,516.8 L730.3,511.1 L736.1,505.3 L737.7,497.3 L743.6,491.4" fill="none" stroke="#34340c" stroke-width="1" stroke-linejoin="round" opacity="0.92"/>
<path d="M724.3,516.8 L726.4,524.5 L730.4,532.2 L733.8,538.4 L739.9,544.0 L741.6,550.1" fill="none" stroke="#34340c" stroke-width="1" stroke-linejoin="round" opacity="0.92"/>
<path d="M687.3,423.4 L693.3,423.7 L699.0,425.0 L706.6,431.3 L712.5,439.0 L711.3,448.6 L716.4,456.5 L724.3,458.4 L726.1,466.2 L722.6,472.2 L726.2,477.9 L734.0,481.7 L741.9,485.4 L743.7,491.5" fill="none" stroke="#34340c" stroke-width="1" stroke-linejoin="round" opacity="0.92"/>
<path d="M743.8,491.5 L751.5,487.5 L759.3,485.6 L765.2,487.5" fill="none" stroke="#34340c" stroke-width="1" stroke-linejoin="round" opacity="0.92"/>
<path d="M765.2,487.6 L761.2,481.8 L765.1,475.9 L773.0,474.0" fill="none" stroke="#34340c" stroke-width="1" stroke-linejoin="round" opacity="0.92"/>
<path d="M687.3,423.4 L695.2,421.7 L702.8,424.6 L710.7,422.6 L718.4,425.5 L726.2,419.4 L730.4,414.2" fill="none" stroke="#34340c" stroke-width="1" stroke-linejoin="round" opacity="0.92"/>
<path d="M669.8,400.0 L671.9,407.7 L675.9,415.5 L681.5,419.5 L687.2,423.5" fill="none" stroke="#34340c" stroke-width="1" stroke-linejoin="round" opacity="0.92"/>
<path d="M662.0,530.0 L660.2,539.8 L658.0,549.4 L660.4,554.2 L661.7,559.3 L664.0,568.9 L665.0,574.8 L665.9,580.6 L664.7,590.3 L667.6,596.3 L673.7,597.2" fill="none" stroke="#34340c" stroke-width="1" stroke-linejoin="round" opacity="0.92"/>
<path d="M726.2,535.8 L722.4,539.8 L718.4,543.6 L710.8,549.7 L708.8,559.2 L706.3,563.9 L704.7,568.9 L703.6,575.0 L700.7,580.5 L699.7,586.5 L697.7,592.2 L697.1,602.0" fill="none" stroke="#34340c" stroke-width="1" stroke-linejoin="round" opacity="0.92"/>
<path d="M673.7,597.1 L676.8,603.9 L671.7,607.8 L677.4,611.9 L682.4,609.7 L687.4,608.1 L692.4,605.2 L697.0,601.9" fill="none" stroke="#34340c" stroke-width="1" stroke-linejoin="round" opacity="0.92"/>
<path d="M697.0,602.0 L706.8,603.8 L714.6,609.8 L716.6,617.6 L720.5,621.4" fill="none" stroke="#34340c" stroke-width="1" stroke-linejoin="round" opacity="0.92"/>
<path d="M726.2,535.8 L734.0,537.9 L737.7,545.7 L745.7,549.5 L753.4,547.3 L759.2,543.5" fill="none" stroke="#34340c" stroke-width="1" stroke-linejoin="round" opacity="0.92"/>
<path d="M673.7,597.1 L665.9,598.2 L656.2,596.1 L650.5,602.2 L642.6,604.2 L636.8,607.9" fill="none" stroke="#34340c" stroke-width="1" stroke-linejoin="round" opacity="0.92"/>
<path d="M636.7,607.8 L634.9,617.6 L632.5,622.8 L628.9,627.3 L626.4,631.9 L625.0,637.0 L621.8,641.7 L619.0,646.7 L613.2,654.4 L607.3,662.2 L603.7,670.1 L598.7,673.9" fill="none" stroke="#34340c" stroke-width="1" stroke-linejoin="round" opacity="0.92"/>
<path d="M636.7,607.8 L628.8,604.2 L621.1,605.7 L619.1,598.1 L623.1,590.3 L619.4,582.4 L611.4,582.7 L605.7,586.6 L597.7,588.2 L590.0,592.2" fill="none" stroke="#34340c" stroke-width="1" stroke-linejoin="round" opacity="0.92"/>
<path d="M409.7,445.8 L414.4,443.7 L419.4,442.6 L422.6,447.2 L425.6,451.5 L427.7,457.8 L431.3,463.3 L438.1,465.9 L444.8,469.1 L450.6,471.1 L458.4,465.3 L464.3,459.5 L462.5,453.5 L460.3,447.8 L464.0,441.8 L473.9,444.2 L479.8,446.0" fill="none" stroke="#34340c" stroke-width="1" stroke-linejoin="round" opacity="0.92"/>
<path d="M409.7,445.8 L411.4,451.6 L411.7,457.5 L409.3,463.2 L407.5,469.1 L413.0,471.5 L417.7,474.8 L420.5,479.9 L423.4,484.7 L423.7,491.7 L425.1,498.4 L426.2,503.5 L426.7,508.8 L427.2,514.0 L427.6,520.9 L429.4,527.6 L427.3,537.3 L433.3,543.0 L439.0,541.3 L443.1,548.9" fill="none" stroke="#34340c" stroke-width="1" stroke-linejoin="round" opacity="0.92"/>
<path d="M409.7,445.8 L403.8,447.5 L400.0,443.9" fill="none" stroke="#34340c" stroke-width="1" stroke-linejoin="round" opacity="0.92"/>
<path d="M479.8,445.8 L484.7,444.0 L489.4,441.7 L493.6,447.7 L498.3,451.6 L503.0,455.7 L510.9,459.5 L513.0,469.2 L520.5,473.4 L526.6,471.4 L532.4,469.2" fill="none" stroke="#34340c" stroke-width="1" stroke-linejoin="round" opacity="0.92"/>
<path d="M532.3,469.2 L532.8,463.3 L534.2,457.5 L544.1,455.8 L547.7,447.7 L544.0,440.0" fill="none" stroke="#34340c" stroke-width="1" stroke-linejoin="round" opacity="0.92"/>
<path d="M532.3,469.2 L542.1,471.2 L548.0,472.9 L553.7,475.2 L561.4,479.2 L566.2,480.9 L571.2,482.0" fill="none" stroke="#34340c" stroke-width="1" stroke-linejoin="round" opacity="0.92"/>
<path d="M571.3,481.8 L573.4,490.6 L571.9,495.7 L569.4,500.3 L561.6,506.3 L558.0,510.4 L553.6,513.8 L548.0,518.0 L540.2,513.8 L532.3,514.7 L528.7,521.9 L526.2,529.5 L530.5,537.3 L538.3,541.0 L534.4,545.2 L526.6,549.3 L534.3,552.9 L542.1,556.7" fill="none" stroke="#34340c" stroke-width="1" stroke-linejoin="round" opacity="0.92"/>
<path d="M571.3,481.8 L579.0,485.0 L586.7,488.8 L592.9,494.3 L594.7,504.2 L588.8,508.2 L579.1,510.3 L573.3,514.1 L575.3,521.7 L582.9,527.7 L588.9,533.3" fill="none" stroke="#34340c" stroke-width="1" stroke-linejoin="round" opacity="0.92"/>
<path d="M542.1,556.8 L547.7,550.8 L551.6,543.1 L559.6,537.3 L567.4,533.5 L575.2,537.2 L578.9,545.2 L585.0,548.8 L586.9,539.3 L588.9,533.4" fill="none" stroke="#34340c" stroke-width="1" stroke-linejoin="round" opacity="0.92"/>
<path d="M586.8,488.7 L590.3,483.5 L594.8,479.0 L596.5,469.2 L593.7,464.3 L590.8,459.4 L594.7,451.7 L604.3,449.7 L609.8,445.6" fill="none" stroke="#34340c" stroke-width="1" stroke-linejoin="round" opacity="0.92"/>
<path d="M542.1,556.8 L534.3,556.6 L526.6,552.7 L520.7,547.0 L512.9,545.0 L505.2,549.1 L501.0,556.7 L497.2,564.5 L489.6,566.7" fill="none" stroke="#34340c" stroke-width="1" stroke-linejoin="round" opacity="0.92"/>
<path d="M489.5,566.5 L487.4,576.2 L481.6,579.9 L473.9,576.3 L466.3,572.1 L458.4,566.5 L454.3,558.8 L448.8,552.8 L442.8,549.1" fill="none" stroke="#34340c" stroke-width="1" stroke-linejoin="round" opacity="0.92"/>
<path d="M489.5,566.5 L494.2,569.7 L499.2,572.4 L503.4,580.0 L509.0,584.0 L514.7,590.2" fill="none" stroke="#34340c" stroke-width="1" stroke-linejoin="round" opacity="0.92"/>
<path d="M584.9,549.0 L586.9,554.8 L588.8,560.7 L587.2,566.4 L586.9,572.4 L592.7,580.1 L591.6,585.1 L590.5,590.0" fill="none" stroke="#34340c" stroke-width="1" stroke-linejoin="round" opacity="0.92"/>
<path d="M588.8,533.4 L596.7,537.1 L606.4,539.0 L614.0,541.4" fill="none" stroke="#34340c" stroke-width="1" stroke-linejoin="round" opacity="0.92"/>
<path d="M505.1,563.9 L499.2,571.7 L501.3,579.4 L508.9,581.7 L512.7,589.3 L510.9,598.9 L516.5,606.9 L514.6,614.4" fill="none" stroke="#34340c" stroke-width="1" stroke-linejoin="round" opacity="0.92"/>
<path d="M514.8,614.5 L524.6,612.7 L532.3,610.5 L540.2,612.2 L548.0,606.8 L552.1,603.1 L555.6,598.9 L563.5,602.8 L571.3,604.8 L579.0,598.8 L586.9,593.2 L592.7,589.2" fill="none" stroke="#34340c" stroke-width="1" stroke-linejoin="round" opacity="0.92"/>
<path d="M514.8,614.5 L516.8,620.3 L524.7,624.0 L534.3,622.3 L540.2,628.0 L536.1,635.8 L532.5,639.9 L530.5,642.8" fill="none" stroke="#34340c" stroke-width="1" stroke-linejoin="round" opacity="0.92"/>
<path d="M592.7,589.2 L590.5,579.5 L584.8,571.7 L592.7,565.9 L590.5,560.1" fill="none" stroke="#34340c" stroke-width="1" stroke-linejoin="round" opacity="0.92"/>
<path d="M592.7,589.2 L600.6,592.8 L610.0,591.1" fill="none" stroke="#34340c" stroke-width="1" stroke-linejoin="round" opacity="0.92"/>
<path d="M442.8,550.3 L438.8,544.5" fill="none" stroke="#34340c" stroke-width="1" stroke-linejoin="round" opacity="0.92"/>
<path d="M442.8,549.0 L438.9,552.9 L435.2,556.9 L425.4,559.0 L419.4,564.5 L416.9,570.2 L415.3,576.2" fill="none" stroke="#34340c" stroke-width="1" stroke-linejoin="round" opacity="0.92"/>
<path d="M700.2,88.5 L707.2,90.9 L704.9,100.1 L712.0,104.5 L719.9,103.5 L722.0,108.7 L723.1,114.1 L728.2,119.7 L735.2,118.8 L741.9,116.3 L746.5,113.9 L751.1,111.6 L758.0,115.4 L761.8,124.4 L761.1,129.5 L760.9,134.5 L760.7,139.5 L759.8,146.5 L757.9,153.4 L755.7,162.6 L753.4,169.6 L748.7,174.1 L745.9,179.3 L741.8,183.5 L738.2,187.9 L735.1,192.9 L739.7,199.7 L746.5,202.4 L744.4,209.1 L748.8,211.5 L742.1,218.4 L735.5,219.2 L729.2,220.7" fill="none" stroke="#34340c" stroke-width="1" stroke-linejoin="round" opacity="0.92"/>
<path d="M741.9,218.3 L747.7,216.0 L753.5,213.6 L760.3,220.8 L769.8,218.4 L779.0,220.6 L784.9,219.7 L790.6,218.2 L794.9,222.2 L800.0,225.1 L804.5,227.6 L809.1,229.9 L816.1,236.8 L825.3,234.2 L834.7,236.6 L841.6,232.3 L848.6,236.7 L853.0,239.5 L857.8,241.5" fill="none" stroke="#34340c" stroke-width="1" stroke-linejoin="round" opacity="0.92"/>
<path d="M729.3,220.2 L732.9,225.3 L737.3,229.5 L741.4,237.6 L740.6,245.7 L744.8,248.5 L751.8,244.7 L755.7,250.9 L759.7,259.1 L764.1,262.9" fill="none" stroke="#34340c" stroke-width="1" stroke-linejoin="round" opacity="0.92"/>
<path d="M764.0,263.0 L758.0,269.3 L749.6,272.9 L745.4,276.0 L741.6,279.3 L733.4,281.2 L727.4,287.6 L721.1,293.6 L715.1,291.5 L709.0,289.5" fill="none" stroke="#34340c" stroke-width="1" stroke-linejoin="round" opacity="0.92"/>
<path d="M764.0,263.0 L770.2,266.9 L776.1,262.8 L780.2,269.2 L784.2,275.4 L788.6,281.2 L790.8,287.4 L794.8,293.4 L800.6,295.8" fill="none" stroke="#34340c" stroke-width="1" stroke-linejoin="round" opacity="0.92"/>
<path d="M419.4,290.6 L421.6,300.0 L423.3,306.0 L424.7,312.1 L423.9,318.0 L430.1,324.9 L438.0,322.1 L447.1,325.7 L452.0,327.7 L456.7,330.1" fill="none" stroke="#34340c" stroke-width="1" stroke-linejoin="round" opacity="0.92"/>
<path d="M592.7,669.0 L588.0,667.1 L582.9,667.0 L578.8,667.0 L575.2,669.0 L569.3,669.0 L565.3,669.6 L561.5,670.9 L557.1,668.7 L553.8,665.1 L551.4,660.8 L547.9,657.3 L545.4,653.7 L544.0,649.5 L539.3,647.3 L534.3,645.6 L529.4,641.7 L525.7,641.8 L522.6,643.7 L518.5,645.8 L514.8,648.6 L511.0,649.8 L507.0,649.5 L501.2,653.4 L497.2,652.9 L493.4,651.5 L487.6,655.4 L485.1,652.8 L481.7,651.5 L475.9,655.4 L471.2,657.0 L466.2,657.3 L465.5,661.2 L465.2,665.1 L465.9,669.9 L466.2,674.8 L462.3,678.7 L459.0,677.3 L456.4,674.8 L452.6,673.1 L448.7,671.9 L443.7,672.3 L438.9,670.9 L435.7,668.2 L433.5,664.6 L431.1,661.2 L426.7,659.0 L423.4,655.4 L423.5,650.3 L425.3,645.6 L423.5,640.7 L421.4,635.9 L420.9,631.4 L419.5,627.1 L415.9,624.9 L411.7,624.2 L407.6,624.0 L403.9,622.3 L402.5,618.4 L400.9,614.6 L400.0,610.6 L402.1,605.8 L403.9,600.9 L406.5,597.6 L409.8,594.9 L411.7,591.1 L414.1,588.4 L416.3,585.3 L419.5,583.4 L420.5,579.6 L420.1,575.5 L421.4,571.7 L420.3,567.7 L418.8,563.9 L417.5,560.0 L415.0,555.0 L413.1,551.5 L410.1,548.9 L407.7,545.8 L405.0,543.0 L403.8,546.5 L401.6,549.6 L400.0,553.0 L395.7,552.7 L391.6,551.0 L387.3,550.7 L383.0,550.0 L377.0,550.0 L373.9,552.1 L370.4,553.3 L366.9,554.4 L363.2,555.2 L360.0,557.0 L356.8,558.6 L353.1,558.6 L349.7,559.7 L346.6,561.8 L343.0,562.0 L338.9,562.4 L335.2,564.3 L331.1,565.0 L327.0,565.0 L323.6,563.1 L319.8,562.0 L316.8,559.1 L313.0,558.0 L311.0,554.3 L308.7,550.7 L307.5,546.5 L305.0,543.0 L300.9,542.4 L297.7,539.6 L293.4,539.3 L290.0,537.0 L285.7,538.0 L281.3,536.8 L277.0,538.0 L273.7,540.7 L271.4,544.4 L268.0,547.0 L264.8,542.9 L263.0,538.0 L258.0,537.1 L253.0,538.0 L248.8,536.0 L244.6,534.1 L240.0,533.0 L236.3,532.1 L233.3,529.6 L229.7,528.5 L226.2,527.1 L223.0,525.0 L219.6,522.9 L216.7,520.0 L213.2,518.0 L210.1,515.6 L207.0,513.0 L203.7,510.9 L201.9,507.3 L198.8,505.0 L196.2,502.2 L193.0,500.0 L190.0,497.0 L187.3,494.3 L185.3,490.9 L182.2,488.6 L179.7,485.7 L177.0,483.0 L174.3,480.7 L171.7,478.2 L168.5,476.6 L165.3,474.8 L163.0,472.0 L158.5,472.3 L154.2,471.3 L150.0,470.0 L146.9,468.0 L145.8,464.3 L142.8,462.2 L140.8,459.2 L138.0,457.0 L135.1,453.7 L133.9,449.5 L132.7,445.4 L130.0,442.0 L129.7,438.2 L128.9,434.5 L128.4,430.8 L128.0,427.0 L131.6,424.0 L135.7,421.7 L140.0,420.0 L138.7,415.8 L138.4,411.4 L138.0,407.0 L138.8,402.7 L140.7,398.7 L140.3,394.1 L142.0,390.0 L139.8,387.0 L138.1,383.7 L136.2,380.6 L135.0,377.0 L131.5,374.8 L128.2,372.4 L125.2,369.5 L122.0,367.0 L119.4,364.0 L119.2,359.8 L116.4,356.9 L115.6,353.0 L113.0,350.0 L111.3,346.1 L109.3,342.3 L107.0,338.8 L105.0,335.0 L103.0,331.7 L99.1,330.2 L97.0,327.0 L97.9,323.1 L97.8,318.9 L99.1,315.1 L99.9,311.1 L100.0,307.0 L98.3,302.9 L97.4,298.6 L96.1,294.5 L96.0,290.0 L96.0,285.0 L99.6,282.7 L103.0,280.0 L107.0,278.8 L110.8,277.3 L114.7,276.0 L118.4,274.0 L122.0,272.0 L125.0,274.1 L129.0,273.8 L132.0,276.0 L135.6,274.6 L139.6,274.2 L143.0,272.0 L147.3,272.0 L151.5,272.3 L155.7,270.5 L160.0,271.0 L164.2,270.4 L168.4,269.5 L172.8,269.6 L177.0,269.0 L180.6,268.1 L183.9,266.1 L187.6,265.5 L191.3,264.6 L195.0,264.0 L197.3,259.2 L198.0,254.0 L201.4,251.4 L203.5,247.5 L207.0,245.0 L207.3,241.0 L205.8,237.0 L206.5,233.0 L206.0,229.0 L203.8,224.2 L203.0,219.0 L204.8,215.8 L208.0,214.0 L211.9,214.7 L215.7,213.4 L219.6,213.4 L223.4,215.0 L227.3,214.7 L231.1,213.6 L235.0,214.0 L237.4,209.8 L238.0,205.0 L240.2,202.0 L242.6,199.2 L243.9,195.7 L247.3,193.5 L249.0,190.2 L251.6,187.5 L253.0,184.0 L257.9,185.3 L263.0,185.0 L266.5,185.6 L269.9,186.7 L273.4,187.4 L276.8,188.3 L280.0,190.0 L283.0,186.8 L287.0,185.0 L287.6,180.6 L289.2,176.4 L290.0,172.0 L293.6,169.4 L298.1,169.0 L302.0,167.0 L304.2,162.8 L307.0,159.0 L310.7,159.0 L314.3,160.3 L318.0,160.0 L319.4,164.0 L321.0,167.9 L322.0,172.0 L325.0,174.6 L327.7,177.5 L331.6,179.1 L333.4,183.1 L337.0,185.0 L339.8,187.8 L340.6,191.9 L343.0,195.0 L344.0,198.6 L347.2,201.2 L348.0,205.0 L346.7,209.1 L346.8,213.5 L345.6,217.7 L345.0,222.0 L345.0,227.2 L343.0,232.0 L347.1,234.9 L350.0,239.0 L354.0,239.4 L357.4,241.9 L361.7,241.4 L365.2,243.5 L368.9,244.8 L373.0,245.0 L376.3,248.0 L380.7,249.2 L384.4,251.5 L388.0,254.0 L391.0,257.4 L393.6,261.0 L397.0,264.0 L399.2,267.7 L399.5,272.2 L400.9,276.2 L403.0,280.0 L405.5,283.5 L409.7,285.3 L412.0,289.0 L415.5,290.1 L419.0,288.5 L422.5,289.2 L426.0,289.9 L429.5,290.7 L433.0,290.0 L436.8,290.1 L440.5,291.7 L444.3,291.4 L448.2,291.4 L451.9,291.9 L455.7,292.0 L459.5,292.3 L463.3,292.9 L467.0,294.0 L470.9,295.9 L474.7,297.9 L479.2,297.9 L483.0,300.0 L486.7,300.6 L489.4,303.7 L493.2,304.3 L496.7,305.4 L500.0,307.0 L504.3,307.2 L508.5,308.7 L512.6,309.9 L517.0,310.0 L521.3,308.3 L525.6,306.5 L530.0,305.0 L533.8,303.1 L538.2,303.8 L541.8,301.1 L546.0,301.0 L550.0,300.0 L553.9,300.0 L557.4,298.0 L561.3,298.6 L565.1,298.4 L568.8,297.1 L572.6,296.8 L576.1,294.8 L580.0,295.0 L582.9,292.7 L585.6,290.1 L589.4,289.1 L591.8,286.0 L594.9,284.1 L598.0,282.0 L602.0,280.1 L605.1,277.2 L608.0,274.0 L606.8,270.2 L603.9,267.4 L602.0,264.0 L603.5,259.0 L605.0,254.0 L609.2,251.9 L613.0,249.0 L616.5,249.7 L620.1,250.1 L623.5,251.1 L627.0,252.0 L630.0,249.9 L633.4,248.8 L637.2,248.5 L640.0,246.1 L644.6,241.5 L649.7,240.0 L653.9,236.8 L657.2,234.7 L660.1,232.2 L663.2,229.9 L665.2,226.6 L667.1,223.2 L670.1,220.6 L673.7,217.9 L678.1,216.5 L681.7,213.7 L685.3,213.8 L688.6,212.2 L692.2,212.5 L695.6,211.3 L699.3,210.7 L702.6,209.0 L699.3,205.8 L695.6,203.2 L691.9,200.6 L688.1,198.2 L684.0,196.3 L680.5,195.7 L677.1,194.2 L673.5,194.1 L670.1,192.8 L665.9,194.0 L661.5,194.6 L657.4,196.3 L654.1,193.1 L650.4,190.5 L648.9,186.7 L649.0,182.5 L647.0,178.9 L649.6,175.2 L651.7,171.2 L653.9,167.3 L654.8,162.9 L657.4,159.2 L661.6,159.7 L665.9,159.5 L670.1,160.4 L673.2,158.3 L675.9,155.7 L679.2,153.9 L681.7,151.1 L684.3,146.6 L686.3,141.8 L687.5,138.4 L687.2,134.8 L688.4,131.4 L688.7,127.9 L690.3,124.6 L691.6,121.2 L691.9,117.4 L693.3,114.0 L692.2,109.2 L689.8,104.8 L691.7,101.1 L692.5,97.2 L693.3,93.2 L697.4,91.0 L700.2,87.4 L705.3,85.9 L709.5,82.7 L713.4,81.2 L717.3,79.7 L721.1,78.1 L725.0,77.8 L728.8,79.6 L732.7,79.3 L736.3,81.3 L740.4,81.5 L744.3,82.7 L747.0,85.1 L749.8,87.2 L752.7,89.2 L755.8,90.9 L758.7,93.6 L760.0,97.4 L762.8,100.1 L764.6,103.3 L766.4,106.5 L768.6,109.4 L770.8,112.2 L772.4,115.3 L774.2,118.4 L776.7,121.0 L778.8,124.2 L781.0,127.4 L783.7,130.2 L786.7,132.3 L788.8,135.2 L790.6,138.4 L794.5,138.6 L798.3,139.4 L802.2,139.5 L806.1,138.9 L809.9,139.9 L813.8,139.5 L818.3,142.0 L823.0,144.1 L826.1,146.6 L827.7,150.3 L830.0,153.4 L833.8,156.5 L836.9,160.4 L840.4,158.0 L844.4,156.6 L848.5,155.7 L852.2,153.1 L855.9,150.6 L860.1,148.8 L862.6,146.3 L865.4,144.0 L868.8,142.7 L871.7,140.7 L875.7,138.7 L879.8,137.2 L878.8,141.0 L878.1,144.9 L877.5,148.8 L877.6,153.5 L875.9,158.0 L876.3,162.7 L877.7,167.2 L877.3,172.0 L877.5,176.6 L877.4,180.1 L876.5,183.6 L876.5,187.2 L875.2,190.5 L874.1,194.3 L874.7,198.3 L874.0,202.1 L870.5,204.5 L866.2,205.0 L862.4,206.7 L859.8,209.7 L856.2,211.3 L853.2,213.7 L852.3,217.3 L850.8,220.6 L850.6,217.0 L850.9,213.4 L849.6,210.0 L851.1,214.4 L853.8,218.1 L855.7,222.2 L855.9,225.9 L857.0,229.4 L858.3,232.9 L858.8,236.5 L858.7,240.2 L857.1,243.6 L856.4,247.2 L855.7,250.8 L851.7,253.8 L847.8,251.9 L843.5,251.8 L840.6,256.0 L839.4,261.0 L836.2,264.9 L833.3,269.1 L829.4,272.4 L825.2,275.2 L827.2,281.4 L822.9,281.6 L819.0,283.4 L814.7,283.4 L810.9,281.4 L809.5,285.8 L806.8,289.5 L803.7,292.5 L800.7,295.6 L797.5,298.5 L794.6,301.8 L792.1,306.3 L788.5,309.9 L786.2,313.9 L784.4,318.1 L780.3,322.1" fill="none" stroke="#34342a" stroke-width="1.2" stroke-linejoin="round"/>
<path d="M780.3,322.1 L784.6,317.7 L780.4,319.0 L776.8,321.6 L773.1,323.8 L769.1,325.5 L765.9,327.6 L762.8,329.8 L759.3,331.3 L755.7,335.0 L751.5,338.1 L747.4,340.8 L744.7,344.9 L742.8,339.1 L743.8,334.2 L746.0,331.1 L748.6,328.4 L750.9,324.8 L751.5,320.6 L750.6,313.8 L745.7,309.9 L739.9,309.9 L736.5,311.2 L734.0,313.8 L731.3,316.3 L729.1,319.3 L726.2,321.6 L722.2,323.2 L719.4,326.4 L717.0,330.3 L714.6,334.2 L711.8,338.2 L708.7,342.0 L704.8,347.8 L699.0,351.7 L697.4,354.8 L695.1,357.6 L699.0,363.4 L702.7,365.3 L706.8,365.4 L710.7,366.3 L714.6,367.3 L717.5,373.2 L721.2,375.8 L724.3,379.0 L727.7,377.5 L731.1,376.1 L732.4,372.7 L735.0,370.2 L738.7,369.0 L742.1,367.2 L745.7,365.8 L750.6,366.1 L755.4,367.3 L758.9,368.5 L762.4,369.3 L766.1,369.3 L764.5,373.3 L761.3,376.1 L758.3,379.5 L755.4,382.9 L751.8,386.2 L747.6,388.7 L744.1,391.0 L741.8,394.6 L738.4,398.1 L736.0,402.3 L734.5,405.5 L732.1,408.2 L730.1,414.0 L726.2,413.6 L728.5,416.3 L730.1,419.5 L734.4,421.8 L737.9,425.3 L739.7,429.1 L743.4,431.5 L745.7,435.0 L747.4,438.4 L749.6,441.5 L751.5,444.8 L753.9,448.8 L756.5,452.6 L759.3,456.4 L762.3,459.4 L766.3,461.0 L769.1,464.2 L771.3,467.2 L774.5,469.1 L776.8,472.0 L778.7,475.3 L781.0,478.3 L782.7,481.7 L783.1,486.3 L782.6,490.8 L782.7,495.4 L779.4,494.2 L776.1,493.1 L772.9,491.5" fill="none" stroke="#8c8c8c" stroke-width="1.3" stroke-linejoin="round"/>
<path d="M772.9,491.5 L766.1,491.9 L768.5,494.6 L771.3,496.7 L774.7,498.2 L776.8,501.2 L781.7,503.2 L781.2,508.1 L779.8,512.9 L778.9,516.8 L777.0,520.5 L776.8,524.6 L775.1,528.3 L774.8,532.3 L773.9,536.2 L771.0,537.8 L769.9,541.5 L766.7,544.0 L765.2,547.5 L762.4,551.5 L759.3,555.3 L757.2,560.1 L755.4,565.0 L756.0,568.5 L757.1,571.9 L758.4,575.3 L759.3,578.7 L755.7,582.1 L753.5,586.4 L749.7,589.5 L745.7,592.3 L743.3,595.1 L740.0,597.0 L737.9,600.1 L736.5,604.2 L734.0,607.8 L731.7,610.7 L728.3,612.5 L726.2,615.6 L723.9,619.2 L720.4,621.5 L717.0,623.9 L714.6,627.3 L711.3,631.0 L708.7,635.1 L703.9,637.2 L699.0,639.0 L694.3,641.3 L689.3,642.9 L684.3,643.3 L679.5,644.8 L673.7,648.7 L667.8,646.8 L665.2,650.3 L664.0,654.6 L660.5,658.1 L656.2,660.4 L652.3,661.4 L648.4,662.3 L643.5,664.2 L638.7,666.2 L635.3,667.7 L632.0,669.5 L628.7,671.3 L625.0,672.1 L621.6,672.8 L618.0,673.2 L615.0,675.6 L611.4,675.6 L610.0,673.0 L611.5,676.9 L611.4,681.2 L613.0,685.0 L610.1,687.1 L608.0,690.0 L603.0,687.0 L603.0,682.6 L601.4,678.4 L602.0,674.0 L602.4,669.0 L597.5,668.6 L592.7,669.0 M583.0,712.0 L586.8,708.8 L590.0,705.0 L594.4,704.4 L598.7,703.0 L603.0,702.0 L606.4,700.4 L609.8,698.8 L613.6,698.5 L617.0,697.0 L621.0,698.5 L625.0,700.0 L623.2,704.9 L622.0,710.0 L620.5,713.4 L618.3,716.5 L617.0,720.0 L613.9,723.2 L610.1,725.7 L607.0,729.0 L603.0,728.3 L599.0,728.5 L595.0,728.0 L591.7,726.0 L588.5,723.8 L585.0,722.0 L583.6,717.1Z" fill="none" stroke="#8c8c8c" stroke-width="2.2" stroke-linejoin="round"/>
<path d="M786.7,587.3 L781.8,590.5 L776.7,593.3 L774.5,597.7 L771.7,601.7 L771.0,606.1 L771.0,610.6 L770.0,615.0 L770.9,619.4 L771.9,623.8 L772.7,628.3 L776.7,632.2 L780.0,636.7 L782.5,640.4 L785.0,644.0 L785.7,639.8 L787.1,635.8 L788.3,631.7 L788.9,627.6 L789.9,623.6 L791.2,619.7 L792.6,615.8 L793.3,611.7 L793.7,606.6 L794.6,601.7 L795.7,596.7 L794.3,592.5 L792.7,588.3Z" fill="none" stroke="#8c8c8c" stroke-width="1.3" stroke-linejoin="round"/>
<path d="M-201.4,960.8 L-190.0,929.6 L-178.7,898.8 L-167.6,868.5 L-156.7,838.6 L-145.9,809.1 L-135.2,780.0 L-124.7,751.2 L-114.2,722.7 L-103.9,694.5 L-93.7,666.5 L-83.5,638.8 L-73.5,611.3 L-63.5,584.0 L-53.5,556.9 L-43.7,530.0 L-33.8,503.1 L-24.1,476.4 L-14.3,449.9 L-4.6,423.3 L5.1,396.9 L14.7,370.5 L24.4,344.1 L34.1,317.7 L43.7,291.3 L53.4,264.8 L63.1,238.3 L72.9,211.7 L82.7,185.0 L92.5,158.2 L102.4,131.2 L112.3,104.0 L122.3,76.6 L132.5,49.0 L142.7,21.1 L153.0,-7.1 L163.5,-35.7 L174.1,-64.7 L184.9,-94.1 L195.8,-124.0 M-0.3,1023.2 L8.0,991.0 L16.1,959.3 L24.1,928.0 L32.0,897.2 L39.8,866.8 L47.5,836.7 L55.1,807.0 L62.7,777.6 L70.1,748.5 L77.5,719.6 L84.8,691.0 L92.1,662.7 L99.3,634.5 L106.5,606.6 L113.6,578.7 L120.7,551.1 L127.7,523.5 L134.7,496.1 L141.7,468.8 L148.7,441.5 L155.7,414.2 L162.7,387.0 L169.7,359.8 L176.6,332.5 L183.6,305.2 L190.6,277.9 L197.7,250.4 L204.7,222.9 L211.8,195.2 L218.9,167.4 L226.1,139.3 L233.4,111.1 L240.7,82.6 L248.0,53.8 L255.5,24.6 L263.0,-4.8 L270.7,-34.7 L278.5,-65.0 L286.4,-95.9 M206.1,1065.2 L211.1,1032.3 L216.0,999.9 L220.9,968.0 L225.6,936.6 L230.3,905.5 L235.0,874.8 L239.6,844.5 L244.1,814.5 L248.6,784.8 L253.1,755.3 L257.5,726.2 L261.9,697.2 L266.3,668.5 L270.6,639.9 L274.9,611.5 L279.2,583.3 L283.4,555.2 L287.7,527.2 L291.9,499.3 L296.1,471.4 L300.4,443.6 L304.6,415.8 L308.8,388.0 L313.0,360.2 L317.2,332.4 L321.4,304.5 L325.7,276.5 L330.0,248.4 L334.2,220.1 L338.5,191.7 L342.9,163.1 L347.3,134.2 L351.7,105.1 L356.1,75.7 L360.6,46.0 L365.2,15.9 L369.8,-14.6 L374.5,-45.5 L379.3,-77.0 M415.7,1086.2 L417.4,1053.0 L419.0,1020.4 L420.6,988.1 L422.2,956.3 L423.8,925.0 L425.4,894.0 L426.9,863.3 L428.4,833.0 L429.9,803.0 L431.4,773.3 L432.9,743.8 L434.4,714.6 L435.8,685.5 L437.3,656.7 L438.7,628.0 L440.1,599.5 L441.6,571.1 L443.0,542.8 L444.4,514.6 L445.8,486.5 L447.2,458.4 L448.6,430.3 L450.0,402.3 L451.4,374.2 L452.9,346.0 L454.3,317.8 L455.7,289.5 L457.1,261.1 L458.5,232.6 L460.0,203.9 L461.4,175.0 L462.9,145.9 L464.4,116.5 L465.9,86.8 L467.4,56.8 L468.9,26.4 L470.4,-4.4 L472.0,-35.7 L473.6,-67.5 M626.3,1086.2 L624.7,1053.0 L623.0,1020.4 L621.4,988.1 L619.8,956.3 L618.2,925.0 L616.7,894.0 L615.1,863.3 L613.6,833.0 L612.1,803.0 L610.6,773.3 L609.1,743.8 L607.7,714.6 L606.2,685.5 L604.8,656.7 L603.3,628.0 L601.9,599.5 L600.5,571.1 L599.1,542.8 L597.6,514.6 L596.2,486.5 L594.8,458.4 L593.4,430.3 L592.0,402.3 L590.6,374.2 L589.2,346.0 L587.8,317.8 L586.3,289.5 L584.9,261.1 L583.5,232.6 L582.0,203.9 L580.6,175.0 L579.1,145.9 L577.7,116.5 L576.2,86.8 L574.7,56.8 L573.1,26.4 L571.6,-4.4 L570.0,-35.7 L568.4,-67.5 M835.9,1065.2 L830.9,1032.3 L826.0,999.9 L821.2,968.0 L816.4,936.6 L811.7,905.5 L807.0,874.8 L802.4,844.5 L797.9,814.5 L793.4,784.8 L788.9,755.3 L784.5,726.2 L780.1,697.2 L775.8,668.5 L771.4,639.9 L767.1,611.5 L762.8,583.3 L758.6,555.2 L754.3,527.2 L750.1,499.3 L745.9,471.4 L741.7,443.6 L737.5,415.8 L733.2,388.0 L729.0,360.2 L724.8,332.4 L720.6,304.5 L716.3,276.5 L712.1,248.4 L707.8,220.1 L703.5,191.7 L699.1,163.1 L694.8,134.2 L690.4,105.1 L685.9,75.7 L681.4,46.0 L676.8,15.9 L672.2,-14.6 L667.5,-45.5 L662.8,-77.0 M1042.3,1023.2 L1034.0,991.0 L1025.9,959.3 L1017.9,928.0 L1010.0,897.2 L1002.2,866.8 L994.5,836.7 L986.9,807.0 L979.4,777.6 L971.9,748.5 L964.5,719.6 L957.2,691.0 L950.0,662.7 L942.7,634.5 L935.6,606.6 L928.5,578.7 L921.4,551.1 L914.3,523.5 L907.3,496.1 L900.3,468.8 L893.3,441.5 L886.3,414.2 L879.3,387.0 L872.4,359.8 L865.4,332.5 L858.4,305.2 L851.4,277.9 L844.4,250.4 L837.3,222.9 L830.2,195.2 L823.1,167.4 L815.9,139.3 L808.7,111.1 L801.4,82.6 L794.0,53.8 L786.5,24.6 L779.0,-4.8 L771.3,-34.7 L763.6,-65.0 L755.7,-95.9 M1243.4,960.8 L1232.0,929.6 L1220.8,898.8 L1209.7,868.5 L1198.7,838.6 L1187.9,809.1 L1177.2,780.0 L1166.7,751.2 L1156.3,722.7 L1145.9,694.5 L1135.7,666.5 L1125.5,638.8 L1115.5,611.3 L1105.5,584.0 L1095.6,556.9 L1085.7,530.0 L1075.9,503.1 L1066.1,476.4 L1056.4,449.9 L1046.6,423.3 L1037.0,396.9 L1027.3,370.5 L1017.6,344.1 L1008.0,317.7 L998.3,291.3 L988.6,264.8 L978.9,238.3 L969.2,211.7 L959.4,185.0 L949.5,158.2 L939.7,131.2 L929.7,104.0 L919.7,76.6 L909.6,49.0 L899.3,21.1 L889.0,-7.1 L878.5,-35.7 L867.9,-64.7 L857.2,-94.1 L846.2,-124.0 M-346.4,570.1 L-326.2,581.0 L-305.9,591.7 L-285.5,602.0 L-264.9,612.1 L-244.2,622.0 L-223.4,631.6 L-202.5,640.9 L-181.5,649.9 L-160.3,658.7 L-139.0,667.2 L-117.7,675.5 L-96.2,683.4 L-74.6,691.1 L-53.0,698.6 L-31.2,705.7 L-9.3,712.6 L12.6,719.2 L34.6,725.5 L56.7,731.5 L78.9,737.3 L101.1,742.8 L123.4,747.9 L145.8,752.8 L168.2,757.5 L190.7,761.8 L213.3,765.9 L235.9,769.6 L258.5,773.1 L281.2,776.3 L303.9,779.2 L326.7,781.8 L349.5,784.1 L372.3,786.1 L395.1,787.9 L418.0,789.3 L440.9,790.5 L463.8,791.4 L486.7,792.0 L509.6,792.3 L532.5,792.3 L555.4,792.0 L578.3,791.4 L601.2,790.5 L624.0,789.3 L646.9,787.9 L669.7,786.1 L692.6,784.1 L715.3,781.8 L738.1,779.2 L760.8,776.3 L783.5,773.1 L806.1,769.6 L828.7,765.9 L851.3,761.8 L873.8,757.5 L896.2,752.8 L918.6,747.9 L940.9,742.8 L963.1,737.3 L985.3,731.5 L1007.4,725.5 L1029.4,719.2 L1051.4,712.6 L1073.2,705.7 L1095.0,698.6 L1116.7,691.1 L1138.2,683.4 L1159.7,675.5 L1181.1,667.2 L1202.3,658.7 L1223.5,649.9 L1244.5,640.9 L1265.5,631.6 L1286.3,622.0 L1307.0,612.1 L1327.5,602.0 L1347.9,591.7 L1368.2,581.0 L1388.4,570.1 M-301.9,489.1 L-282.8,499.4 L-263.5,509.5 L-244.2,519.3 L-224.7,528.9 L-205.0,538.2 L-185.3,547.3 L-165.4,556.2 L-145.5,564.8 L-125.4,573.1 L-105.2,581.2 L-85.0,589.0 L-64.6,596.6 L-44.1,603.9 L-23.5,610.9 L-2.9,617.7 L17.8,624.2 L38.6,630.5 L59.5,636.5 L80.5,642.2 L101.5,647.6 L122.6,652.8 L143.8,657.8 L165.0,662.4 L186.3,666.8 L207.7,670.9 L229.1,674.8 L250.5,678.3 L272.0,681.6 L293.5,684.6 L315.1,687.4 L336.6,689.9 L358.3,692.1 L379.9,694.0 L401.6,695.7 L423.3,697.0 L445.0,698.1 L466.7,699.0 L488.4,699.5 L510.1,699.8 L531.9,699.8 L553.6,699.5 L575.3,699.0 L597.1,698.1 L618.8,697.0 L640.4,695.7 L662.1,694.0 L683.8,692.1 L705.4,689.9 L727.0,687.4 L748.5,684.6 L770.1,681.6 L791.5,678.3 L813.0,674.8 L834.4,670.9 L855.7,666.8 L877.0,662.4 L898.2,657.8 L919.4,652.8 L940.5,647.6 L961.5,642.2 L982.5,636.5 L1003.4,630.5 L1024.2,624.2 L1044.9,617.7 L1065.6,610.9 L1086.1,603.9 L1106.6,596.6 L1127.0,589.0 L1147.3,581.2 L1167.4,573.1 L1187.5,564.8 L1207.5,556.2 L1227.3,547.3 L1247.1,538.2 L1266.7,528.9 L1286.2,519.3 L1305.6,509.5 L1324.8,499.4 L1343.9,489.1 M-258.4,409.7 L-240.3,419.5 L-222.1,429.1 L-203.7,438.4 L-185.2,447.5 L-166.7,456.3 L-148.0,464.9 L-129.2,473.3 L-110.3,481.4 L-91.2,489.3 L-72.1,497.0 L-52.9,504.4 L-33.6,511.5 L-14.2,518.5 L5.2,525.1 L24.8,531.6 L44.4,537.7 L64.1,543.7 L83.9,549.3 L103.8,554.8 L123.7,559.9 L143.7,564.8 L163.7,569.5 L183.8,573.9 L204.0,578.1 L224.2,582.0 L244.5,585.6 L264.8,589.0 L285.1,592.1 L305.5,595.0 L325.9,597.6 L346.4,599.9 L366.9,602.0 L387.4,603.8 L407.9,605.4 L428.4,606.7 L449.0,607.8 L469.6,608.5 L490.1,609.1 L510.7,609.3 L531.3,609.3 L551.9,609.1 L572.5,608.5 L593.0,607.8 L613.6,606.7 L634.1,605.4 L654.7,603.8 L675.2,602.0 L695.6,599.9 L716.1,597.6 L736.5,595.0 L756.9,592.1 L777.2,589.0 L797.5,585.6 L817.8,582.0 L838.0,578.1 L858.2,573.9 L878.3,569.5 L898.3,564.8 L918.3,559.9 L938.2,554.8 L958.1,549.3 L977.9,543.7 L997.6,537.7 L1017.2,531.6 L1036.8,525.1 L1056.3,518.5 L1075.7,511.5 L1095.0,504.4 L1114.2,497.0 L1133.3,489.3 L1152.3,481.4 L1171.2,473.3 L1190.0,464.9 L1208.7,456.3 L1227.3,447.5 L1245.7,438.4 L1264.1,429.1 L1282.3,419.5 L1300.4,409.7 M-215.6,331.5 L-198.4,340.8 L-181.2,349.8 L-163.9,358.6 L-146.4,367.2 L-128.8,375.6 L-111.2,383.7 L-93.4,391.6 L-75.5,399.3 L-57.6,406.8 L-39.5,414.0 L-21.4,421.0 L-3.1,427.8 L15.2,434.3 L33.6,440.6 L52.1,446.7 L70.6,452.5 L89.3,458.1 L108.0,463.5 L126.7,468.6 L145.6,473.5 L164.4,478.1 L183.4,482.5 L202.4,486.7 L221.4,490.6 L240.5,494.3 L259.7,497.7 L278.9,500.9 L298.1,503.9 L317.4,506.6 L336.7,509.1 L356.0,511.3 L375.3,513.2 L394.7,515.0 L414.1,516.5 L433.5,517.7 L453.0,518.7 L472.4,519.4 L491.8,519.9 L511.3,520.2 L530.7,520.2 L550.2,519.9 L569.6,519.4 L589.1,518.7 L608.5,517.7 L627.9,516.5 L647.3,515.0 L666.7,513.2 L686.0,511.3 L705.4,509.1 L724.7,506.6 L743.9,503.9 L763.1,500.9 L782.3,497.7 L801.5,494.3 L820.6,490.6 L839.6,486.7 L858.6,482.5 L877.6,478.1 L896.5,473.5 L915.3,468.6 L934.1,463.5 L952.8,458.1 L971.4,452.5 L990.0,446.7 L1008.4,440.6 L1026.8,434.3 L1045.2,427.8 L1063.4,421.0 L1081.5,414.0 L1099.6,406.8 L1117.6,399.3 L1135.4,391.6 L1153.2,383.7 L1170.9,375.6 L1188.4,367.2 L1205.9,358.6 L1223.2,349.8 L1240.5,340.8 L1257.6,331.5 M-173.0,253.9 L-156.9,262.6 L-140.7,271.1 L-124.3,279.4 L-107.9,287.5 L-91.3,295.4 L-74.7,303.1 L-57.9,310.5 L-41.1,317.8 L-24.2,324.8 L-7.1,331.6 L10.0,338.2 L27.1,344.6 L44.4,350.8 L61.7,356.7 L79.2,362.4 L96.6,367.9 L114.2,373.2 L131.8,378.2 L149.5,383.1 L167.2,387.7 L185.0,392.1 L202.9,396.2 L220.8,400.1 L238.7,403.8 L256.7,407.3 L274.8,410.5 L292.9,413.5 L311.0,416.3 L329.1,418.9 L347.3,421.2 L365.5,423.3 L383.8,425.1 L402.0,426.8 L420.3,428.2 L438.6,429.3 L456.9,430.3 L475.2,431.0 L493.5,431.4 L511.8,431.7 L530.2,431.7 L548.5,431.4 L566.8,431.0 L585.1,430.3 L603.4,429.3 L621.7,428.2 L640.0,426.8 L658.3,425.1 L676.5,423.3 L694.7,421.2 L712.9,418.9 L731.0,416.3 L749.2,413.5 L767.2,410.5 L785.3,407.3 L803.3,403.8 L821.2,400.1 L839.1,396.2 L857.0,392.1 L874.8,387.7 L892.5,383.1 L910.2,378.2 L927.8,373.2 L945.4,367.9 L962.9,362.4 L980.3,356.7 L997.6,350.8 L1014.9,344.6 L1032.1,338.2 L1049.2,331.6 L1066.2,324.8 L1083.1,317.8 L1099.9,310.5 L1116.7,303.1 L1133.3,295.4 L1149.9,287.5 L1166.3,279.4 L1182.7,271.1 L1198.9,262.6 L1215.0,253.9 M-130.5,176.3 L-115.3,184.5 L-100.1,192.5 L-84.8,200.3 L-69.3,207.9 L-53.8,215.3 L-38.2,222.5 L-22.4,229.5 L-6.6,236.3 L9.3,242.9 L25.2,249.3 L41.3,255.5 L57.4,261.4 L73.6,267.2 L89.9,272.8 L106.2,278.2 L122.7,283.3 L139.1,288.3 L155.7,293.0 L172.3,297.6 L188.9,301.9 L205.6,306.0 L222.4,309.9 L239.2,313.6 L256.0,317.0 L272.9,320.3 L289.9,323.3 L306.8,326.2 L323.9,328.8 L340.9,331.2 L358.0,333.4 L375.1,335.3 L392.2,337.1 L409.3,338.6 L426.5,339.9 L443.6,341.0 L460.8,341.9 L478.0,342.5 L495.2,342.9 L512.4,343.2 L529.6,343.2 L546.8,342.9 L564.0,342.5 L581.2,341.9 L598.4,341.0 L615.6,339.9 L632.7,338.6 L649.9,337.1 L667.0,335.3 L684.1,333.4 L701.1,331.2 L718.2,328.8 L735.2,326.2 L752.2,323.3 L769.1,320.3 L786.0,317.0 L802.8,313.6 L819.6,309.9 L836.4,306.0 L853.1,301.9 L869.8,297.6 L886.4,293.0 L902.9,288.3 L919.4,283.3 L935.8,278.2 L952.1,272.8 L968.4,267.2 L984.6,261.4 L1000.7,255.5 L1016.8,249.3 L1032.8,242.9 L1048.7,236.3 L1064.5,229.5 L1080.2,222.5 L1095.8,215.3 L1111.3,207.9 L1126.8,200.3 L1142.1,192.5 L1157.4,184.5 L1172.5,176.3 M-87.6,98.1 L-73.5,105.8 L-59.2,113.2 L-44.9,120.5 L-30.5,127.6 L-16.0,134.5 L-1.4,141.2 L13.3,147.8 L28.1,154.1 L42.9,160.3 L57.9,166.3 L72.9,172.0 L87.9,177.6 L103.1,183.0 L118.3,188.2 L133.5,193.3 L148.9,198.1 L164.3,202.7 L179.7,207.1 L195.2,211.4 L210.8,215.4 L226.4,219.2 L242.0,222.9 L257.7,226.3 L273.5,229.6 L289.3,232.6 L305.1,235.5 L320.9,238.1 L336.8,240.5 L352.7,242.8 L368.7,244.8 L384.7,246.6 L400.6,248.3 L416.7,249.7 L432.7,250.9 L448.7,251.9 L464.8,252.8 L480.8,253.4 L496.9,253.8 L513.0,254.0 L529.1,254.0 L545.1,253.8 L561.2,253.4 L577.3,252.8 L593.3,251.9 L609.3,250.9 L625.4,249.7 L641.4,248.3 L657.4,246.6 L673.3,244.8 L689.3,242.8 L705.2,240.5 L721.1,238.1 L736.9,235.5 L752.8,232.6 L768.5,229.6 L784.3,226.3 L800.0,222.9 L815.6,219.2 L831.3,215.4 L846.8,211.4 L862.3,207.1 L877.8,202.7 L893.2,198.1 L908.5,193.3 L923.8,188.2 L939.0,183.0 L954.1,177.6 L969.2,172.0 L984.2,166.3 L999.1,160.3 L1013.9,154.1 L1028.7,147.8 L1043.4,141.2 L1058.0,134.5 L1072.5,127.6 L1086.9,120.5 L1101.3,113.2 L1115.5,105.8 L1129.6,98.1" fill="none" stroke="#9fb0c6" stroke-width="1.3" stroke-dasharray="6.5 3" opacity="0.9"/>
<path d="M717.5,102.9 L727.8,117.1 L726.3,118.2 L731.9,122.1 L729.8,115.6 L728.3,116.7Z M743.3,119.7 L746.2,126.8 L744.6,127.6 L749.3,132.6 L748.5,125.7 L746.9,126.5Z M693.6,133.7 L695.3,140.0 L693.5,140.6 L697.6,146.1 L697.7,139.2 L695.9,139.8Z M716.3,131.9 L725.3,145.9 L723.8,146.9 L729.2,151.1 L727.4,144.4 L725.9,145.5Z M748.7,129.2 L749.8,131.4 L748.3,132.5 L753.9,136.6 L751.9,130.0 L750.4,131.0Z M761.1,128.2 L760.0,128.7 L758.8,127.3 L756.5,132.1 L761.6,130.7 L760.4,129.2Z M707.5,155.2 L706.3,156.3 L704.8,155.2 L702.9,161.8 L708.4,157.8 L706.9,156.7Z M765.1,158.1 L771.5,159.0 L771.4,160.9 L778.1,159.2 L771.8,156.5 L771.6,158.3Z M789.7,145.6 L777.9,134.1 L779.1,132.7 L772.9,129.9 L776.1,136.0 L777.4,134.6Z M800.6,156.7 L800.4,157.9 L798.5,158.1 L801.1,162.7 L802.9,157.7 L801.1,157.9Z M811.3,151.1 L807.9,156.7 L806.3,155.8 L805.2,162.6 L810.2,157.9 L808.6,157.0Z M763.9,167.4 L757.5,166.0 L757.8,164.2 L751.1,165.4 L757.1,168.6 L757.4,166.7Z M812.5,162.2 L810.1,162.8 L809.4,161.1 L804.2,165.6 L811.0,165.2 L810.3,163.5Z M872.5,164.6 L864.4,169.9 L863.3,168.4 L859.2,173.9 L865.8,172.0 L864.8,170.5Z M720.4,192.2 L714.8,199.6 L713.3,198.6 L711.3,205.1 L716.9,201.1 L715.4,200.0Z M757.0,195.2 L752.5,194.6 L752.6,192.8 L746.0,194.6 L752.4,197.2 L752.5,195.3Z M815.8,185.9 L814.5,185.2 L815.0,183.4 L809.0,184.1 L813.9,187.7 L814.4,185.9Z M840.8,191.3 L838.7,196.4 L836.9,195.8 L836.9,202.6 L841.1,197.2 L839.3,196.6Z M849.1,189.4 L848.3,192.8 L846.5,192.6 L847.9,199.3 L850.9,193.1 L849.0,192.9Z M771.5,207.1 L783.9,212.5 L783.2,214.2 L790.0,214.6 L784.8,210.1 L784.1,211.8Z M799.5,200.7 L799.7,201.9 L798.1,202.8 L802.2,206.0 L802.0,200.8 L800.4,201.6Z M832.3,212.9 L830.0,222.6 L828.2,222.3 L829.2,229.1 L832.6,223.1 L830.7,222.8Z M690.7,228.4 L689.6,231.8 L687.8,231.4 L688.6,238.2 L692.1,232.3 L690.3,231.9Z M724.3,227.0 L718.8,235.2 L717.2,234.2 L715.6,240.9 L720.9,236.6 L719.4,235.6Z M795.6,220.5 L795.8,222.1 L794.1,222.8 L798.3,228.0 L798.2,221.3 L796.5,221.9Z M817.7,219.4 L817.9,220.8 L816.2,221.5 L820.3,225.9 L820.3,219.9 L818.5,220.6Z M835.2,229.2 L834.2,235.6 L832.3,235.4 L833.8,242.1 L836.7,235.9 L834.9,235.7Z M649.9,245.3 L646.4,244.8 L646.5,243.0 L639.9,245.0 L646.3,247.4 L646.4,245.5Z M751.4,243.0 L750.3,246.3 L748.5,245.9 L749.2,252.7 L752.8,246.9 L751.0,246.5Z M677.7,256.9 L676.9,257.8 L675.2,257.1 L675.2,262.3 L679.2,258.9 L677.5,258.1Z M705.2,257.7 L707.6,266.9 L705.9,267.4 L709.9,273.0 L710.1,266.1 L708.3,266.7Z M723.0,256.5 L723.1,260.0 L721.3,260.3 L724.4,266.4 L725.7,259.7 L723.8,259.9Z M753.1,260.8 L748.3,265.1 L746.9,263.8 L743.9,270.0 L750.1,267.0 L748.8,265.6Z M764.8,267.3 L764.9,269.8 L763.1,270.2 L766.5,276.1 L767.4,269.3 L765.6,269.7Z M777.5,254.1 L774.4,260.9 L772.7,260.2 L772.3,267.1 L776.7,261.9 L775.0,261.2Z M792.9,266.8 L798.8,269.6 L798.1,271.3 L805.0,271.7 L799.8,267.2 L799.1,268.9Z M817.2,255.9 L816.5,257.4 L814.7,257.0 L815.4,263.7 L819.0,258.0 L817.2,257.5Z M636.6,277.9 L636.9,282.4 L635.0,282.7 L638.1,288.8 L639.4,282.1 L637.6,282.3Z M690.3,277.4 L689.0,277.9 L687.9,276.4 L684.6,281.5 L690.5,280.0 L689.4,278.5Z M713.4,273.8 L711.6,280.1 L709.8,279.6 L710.5,286.5 L714.1,280.6 L712.3,280.2Z M733.7,283.5 L720.1,285.8 L719.7,284.0 L713.8,287.4 L720.6,288.3 L720.2,286.5Z M753.3,282.1 L756.1,291.2 L754.3,291.8 L758.5,297.2 L758.5,290.4 L756.7,291.0Z M767.7,275.3 L770.8,284.3 L769.1,285.0 L773.4,290.2 L773.2,283.4 L771.4,284.0Z M780.1,271.6 L780.5,273.2 L778.9,274.0 L783.9,278.7 L782.8,272.0 L781.2,272.8Z M803.3,272.9 L799.1,277.9 L797.6,276.8 L795.5,283.3 L801.1,279.4 L799.7,278.3Z M812.5,272.0 L811.6,273.1 L809.9,272.2 L809.3,278.2 L813.8,274.2 L812.2,273.4Z M621.2,291.2 L620.5,293.6 L618.6,293.3 L619.8,300.1 L623.0,294.0 L621.2,293.7Z M695.7,291.8 L694.6,299.2 L692.7,299.0 L694.2,305.7 L697.1,299.5 L695.3,299.3Z M711.0,292.2 L706.7,293.4 L706.0,291.7 L700.7,296.0 L707.5,295.8 L706.9,294.1Z M724.6,302.4 L715.7,305.6 L715.0,303.9 L709.8,308.4 L716.6,308.0 L715.9,306.3Z M740.7,297.6 L732.5,293.2 L733.3,291.5 L726.5,290.7 L731.4,295.5 L732.2,293.8Z M766.5,292.9 L766.1,298.4 L764.2,298.4 L766.3,304.9 L768.6,298.4 L766.8,298.4Z M784.2,300.2 L780.5,304.3 L779.1,303.2 L776.8,309.7 L782.5,305.9 L781.1,304.7Z M644.6,321.5 L640.5,325.1 L639.2,323.8 L636.1,330.0 L642.3,326.9 L641.0,325.6Z M667.1,314.3 L660.2,320.9 L658.9,319.6 L656.0,325.8 L662.1,322.7 L660.8,321.4Z M716.3,319.0 L715.2,323.4 L713.4,323.0 L714.4,329.8 L717.7,323.8 L715.9,323.5Z M723.7,310.9 L728.2,310.9 L728.4,312.7 L734.7,309.9 L728.0,308.3 L728.2,310.2Z M759.3,310.7 L755.9,326.2 L754.1,325.9 L755.0,332.7 L758.4,326.7 L756.6,326.4Z M779.7,313.6 L770.0,323.5 L768.7,322.2 L765.9,328.4 L771.9,325.2 L770.5,323.9Z M478.6,336.6 L477.6,335.6 L478.6,334.0 L472.7,332.9 L476.2,337.7 L477.2,336.2Z M537.7,331.0 L544.2,327.2 L545.2,328.8 L549.4,323.4 L542.8,325.1 L543.8,326.6Z M540.1,333.4 L542.2,328.3 L544.0,328.9 L544.0,322.1 L539.8,327.5 L541.6,328.1Z M580.5,332.8 L579.2,331.8 L580.0,330.1 L573.3,329.3 L578.1,334.1 L578.9,332.4Z M609.8,324.5 L605.5,321.1 L606.6,319.5 L600.0,317.6 L604.0,323.1 L605.1,321.6Z M613.0,325.0 L611.0,329.0 L609.3,328.3 L608.9,335.2 L613.4,330.0 L611.6,329.3Z M640.5,336.5 L634.3,340.7 L633.2,339.3 L629.3,344.9 L635.8,342.8 L634.7,341.3Z M663.7,335.9 L669.9,343.1 L668.6,344.3 L674.6,347.6 L671.8,341.3 L670.4,342.6Z M691.0,336.4 L690.0,338.7 L688.2,338.2 L688.5,345.1 L692.4,339.4 L690.6,338.9Z M456.8,353.1 L457.5,349.7 L459.4,349.8 L457.8,343.2 L455.0,349.4 L456.8,349.6Z M511.3,347.1 L511.9,348.2 L510.6,349.5 L515.5,351.4 L513.7,346.4 L512.4,347.7Z M534.1,351.6 L527.7,350.3 L528.0,348.5 L521.2,349.8 L527.4,352.9 L527.6,351.0Z M555.8,342.1 L560.2,348.1 L558.8,349.3 L564.6,353.0 L562.2,346.5 L560.8,347.7Z M564.3,346.8 L562.9,346.6 L562.6,344.8 L557.4,347.7 L563.2,349.2 L563.0,347.3Z M591.5,352.9 L587.2,361.4 L585.5,360.6 L584.7,367.4 L589.5,362.4 L587.8,361.7Z M602.8,345.9 L600.5,346.9 L599.5,345.4 L595.2,350.7 L601.8,349.1 L600.9,347.5Z M617.8,347.4 L613.3,355.8 L611.7,355.0 L610.8,361.8 L615.6,356.9 L614.0,356.1Z M639.4,357.9 L632.0,363.9 L630.8,362.5 L627.3,368.4 L633.7,365.8 L632.5,364.4Z M659.1,355.8 L659.6,357.4 L658.0,358.3 L663.0,362.8 L661.8,356.1 L660.2,357.0Z M679.5,348.1 L677.9,350.0 L676.3,349.1 L674.7,355.7 L680.0,351.4 L678.5,350.4Z M690.7,345.9 L691.2,347.5 L689.6,348.4 L694.7,352.8 L693.4,346.2 L691.8,347.1Z M432.9,371.6 L434.1,372.7 L433.1,374.3 L439.7,375.8 L435.4,370.6 L434.4,372.2Z M500.1,365.2 L496.8,358.5 L498.4,357.6 L493.3,353.0 L494.5,359.7 L496.2,358.8Z M508.8,369.7 L510.0,371.9 L508.5,373.0 L514.1,377.0 L512.0,370.4 L510.6,371.5Z M531.5,360.5 L526.0,360.9 L525.7,359.1 L519.6,362.2 L526.4,363.4 L526.1,361.6Z M551.1,368.3 L550.7,363.8 L552.6,363.5 L549.4,357.4 L548.2,364.2 L550.1,363.9Z M568.7,362.4 L566.9,365.4 L565.2,364.6 L564.3,371.4 L569.1,366.5 L567.5,365.7Z M584.6,367.2 L579.1,372.4 L577.8,371.1 L574.9,377.3 L581.0,374.1 L579.6,372.8Z M598.7,365.5 L598.5,366.7 L596.7,367.0 L599.4,371.5 L601.0,366.4 L599.2,366.6Z M625.6,372.0 L624.4,372.1 L623.7,370.4 L620.0,374.2 L625.3,374.5 L624.6,372.8Z M634.8,370.7 L637.3,370.3 L637.8,372.1 L643.4,368.1 L636.5,367.9 L637.1,369.6Z M656.9,365.7 L654.5,369.6 L652.9,368.7 L651.9,375.5 L656.8,370.7 L655.2,369.9Z M667.4,366.8 L666.2,366.4 L666.2,364.6 L661.4,366.8 L666.2,369.0 L666.2,367.2Z M691.8,374.9 L689.3,377.4 L687.9,376.2 L685.4,382.6 L691.2,379.0 L689.8,377.8Z M705.2,372.3 L703.6,370.4 L704.8,369.0 L698.5,366.3 L701.9,372.3 L703.1,370.9Z M752.5,372.9 L752.1,376.4 L750.2,376.4 L752.3,382.9 L754.6,376.4 L752.8,376.4Z M446.3,387.1 L455.2,379.8 L456.4,381.2 L459.9,375.3 L453.5,377.9 L454.7,379.3Z M460.3,384.2 L464.7,385.4 L464.3,387.2 L471.1,386.3 L465.1,382.9 L464.8,384.7Z M486.8,386.7 L486.2,388.0 L484.4,387.7 L485.7,393.6 L488.8,388.4 L486.9,388.1Z M517.3,392.1 L522.6,393.8 L522.1,395.6 L528.9,395.0 L523.2,391.3 L522.7,393.1Z M524.2,386.1 L519.7,386.5 L519.4,384.7 L513.4,388.0 L520.2,389.0 L519.8,387.2Z M540.3,387.7 L539.1,384.4 L540.8,383.6 L536.1,378.6 L536.8,385.5 L538.5,384.7Z M561.8,378.0 L565.1,382.4 L563.7,383.6 L569.7,387.1 L567.1,380.7 L565.7,381.9Z M576.1,386.8 L568.8,384.9 L569.2,383.1 L562.4,383.9 L568.3,387.4 L568.7,385.6Z M608.1,389.1 L604.8,390.3 L604.0,388.7 L599.1,393.5 L605.9,392.6 L605.1,390.9Z M617.5,392.2 L617.4,394.7 L615.6,394.9 L618.4,401.2 L619.9,394.5 L618.1,394.6Z M645.4,391.2 L652.7,397.3 L651.5,398.8 L658.0,401.1 L654.2,395.3 L653.1,396.8Z M659.0,390.9 L658.5,396.4 L656.6,396.3 L658.6,402.9 L661.0,396.5 L659.2,396.4Z M674.5,381.8 L670.1,380.6 L670.5,378.8 L663.7,379.7 L669.7,383.1 L670.0,381.3Z M695.3,392.7 L694.1,391.9 L694.8,390.1 L688.8,390.1 L693.2,394.2 L693.9,392.5Z M716.2,383.0 L714.0,390.2 L712.3,389.7 L712.8,396.6 L716.5,390.8 L714.7,390.4Z M732.4,385.7 L729.3,390.2 L727.7,389.3 L726.2,396.0 L731.5,391.5 L729.9,390.6Z M742.1,386.1 L741.0,391.5 L739.2,391.2 L740.4,398.0 L743.5,391.9 L741.7,391.6Z M434.6,399.2 L437.8,397.6 L438.7,399.2 L443.1,393.9 L436.4,395.5 L437.4,397.0Z M453.0,396.2 L452.5,397.8 L450.6,397.6 L452.2,404.2 L455.0,398.0 L453.2,397.8Z M472.3,400.0 L477.5,398.1 L478.2,399.8 L483.3,395.1 L476.4,395.8 L477.2,397.4Z M501.8,396.8 L503.0,396.0 L504.4,397.3 L506.6,391.7 L501.1,394.3 L502.5,395.5Z M507.1,401.7 L505.7,402.2 L504.7,400.7 L501.3,405.6 L507.2,404.3 L506.1,402.8Z M536.5,409.3 L535.1,410.2 L533.8,408.9 L530.9,415.1 L537.0,412.0 L535.6,410.7Z M544.9,408.8 L545.1,412.3 L543.3,412.6 L546.5,418.7 L547.6,411.9 L545.8,412.2Z M569.5,402.5 L575.2,410.1 L573.8,411.3 L579.6,414.9 L577.2,408.5 L575.8,409.7Z M584.7,408.8 L583.1,409.0 L582.4,407.3 L577.2,411.7 L584.0,411.4 L583.3,409.7Z M607.3,404.9 L607.6,411.4 L605.8,411.6 L608.7,417.8 L610.2,411.1 L608.3,411.3Z M626.2,400.3 L624.0,403.1 L622.5,402.1 L620.9,408.8 L626.2,404.4 L624.6,403.5Z M640.0,400.4 L635.6,405.2 L634.2,404.1 L631.8,410.5 L637.6,406.8 L636.2,405.7Z M689.4,398.2 L683.9,398.8 L683.6,397.0 L677.6,400.3 L684.4,401.3 L684.0,399.5Z M709.7,402.6 L710.6,408.0 L708.8,408.5 L712.4,414.3 L713.1,407.5 L711.3,407.9Z M455.8,426.3 L456.8,424.0 L458.6,424.5 L458.1,417.6 L454.3,423.3 L456.1,423.8Z M479.8,420.4 L481.4,409.0 L483.2,409.2 L481.7,402.5 L478.8,408.7 L480.7,408.9Z M501.8,415.6 L505.0,411.1 L506.6,412.1 L508.2,405.4 L502.8,409.8 L504.4,410.8Z M510.5,428.4 L509.6,427.5 L510.5,425.9 L505.2,425.6 L508.4,429.8 L509.3,428.1Z M525.6,420.2 L523.3,431.5 L521.4,431.1 L522.5,437.9 L525.8,431.9 L523.9,431.6Z M555.9,424.0 L554.9,427.4 L553.1,427.0 L554.0,433.8 L557.4,427.9 L555.6,427.5Z M581.4,425.9 L580.8,427.4 L579.0,427.2 L580.3,433.8 L583.4,427.8 L581.5,427.5Z M602.7,424.9 L601.4,425.6 L600.2,424.2 L597.6,429.7 L603.2,427.5 L601.9,426.1Z M614.9,414.4 L613.7,414.7 L612.8,413.1 L609.7,417.4 L615.0,416.9 L614.0,415.3Z M636.5,419.1 L634.3,420.4 L633.2,419.0 L629.5,424.8 L635.9,422.4 L634.8,420.9Z M649.1,423.4 L646.9,427.4 L645.3,426.6 L644.6,433.4 L649.3,428.4 L647.6,427.7Z M672.9,429.4 L669.1,433.4 L667.7,432.2 L665.2,438.6 L671.0,435.0 L669.6,433.8Z M697.0,415.1 L701.4,416.0 L701.2,417.8 L707.9,416.4 L701.7,413.5 L701.5,415.3Z M716.1,426.4 L714.9,426.7 L714.0,425.0 L710.8,429.2 L716.1,428.9 L715.2,427.3Z M726.0,424.3 L716.7,426.1 L716.2,424.3 L710.4,427.9 L717.2,428.6 L716.8,426.8Z M446.7,440.5 L444.0,438.3 L445.0,436.7 L438.4,434.9 L442.6,440.4 L443.6,438.8Z M459.5,446.9 L456.1,452.5 L454.5,451.6 L453.4,458.4 L458.4,453.7 L456.8,452.8Z M472.1,442.0 L478.6,441.9 L478.7,443.7 L485.1,441.1 L478.4,439.4 L478.6,441.2Z M492.4,445.9 L497.2,450.3 L496.0,451.8 L502.4,454.3 L498.8,448.4 L497.6,449.8Z M507.0,446.8 L508.1,445.6 L509.7,446.5 L510.9,439.8 L505.9,444.3 L507.5,445.2Z M534.8,440.2 L535.0,441.6 L533.3,442.3 L537.5,446.6 L537.4,440.6 L535.7,441.4Z M540.6,437.5 L536.2,438.5 L535.7,436.7 L530.1,440.7 L536.9,440.9 L536.4,439.2Z M566.6,445.8 L563.5,447.5 L562.5,445.9 L558.3,451.4 L564.9,449.6 L563.9,448.0Z M577.7,439.0 L576.9,441.4 L575.1,441.0 L576.0,447.8 L579.4,441.9 L577.6,441.5Z M645.1,445.0 L640.9,446.6 L640.1,444.9 L635.1,449.6 L642.0,448.9 L641.2,447.2Z M668.9,438.2 L663.7,446.2 L662.1,445.2 L660.7,451.9 L665.9,447.5 L664.3,446.5Z M712.4,440.5 L714.5,439.2 L715.7,440.6 L719.3,434.7 L712.9,437.2 L714.1,438.6Z M726.1,445.1 L733.1,454.3 L731.6,455.4 L737.4,459.1 L735.0,452.7 L733.6,453.8Z M443.5,463.9 L444.7,466.1 L443.2,467.2 L448.9,471.1 L446.8,464.6 L445.3,465.7Z M460.1,456.8 L458.7,462.1 L456.9,461.8 L457.8,468.6 L461.2,462.6 L459.4,462.3Z M494.2,456.7 L493.5,458.0 L491.7,457.6 L492.6,463.5 L496.0,458.6 L494.2,458.1Z M518.0,454.6 L511.4,445.2 L512.8,444.1 L507.2,440.2 L509.3,446.7 L510.8,445.6Z M525.6,457.6 L521.4,454.1 L522.4,452.6 L515.9,450.5 L519.9,456.1 L520.9,454.7Z M547.2,451.0 L544.3,448.9 L545.3,447.3 L538.5,446.0 L543.1,451.2 L544.0,449.6Z M568.5,454.3 L568.1,455.5 L566.3,455.4 L568.3,460.3 L570.7,455.6 L568.8,455.5Z M582.6,452.1 L583.0,455.6 L581.2,456.0 L584.8,461.8 L585.5,455.0 L583.7,455.4Z M640.5,457.3 L637.8,460.9 L636.2,460.0 L634.7,466.6 L640.0,462.3 L638.4,461.3Z M657.4,461.2 L656.5,462.0 L654.9,461.1 L654.2,466.3 L658.6,463.4 L657.1,462.4Z M686.7,458.1 L698.1,459.5 L698.0,461.3 L704.6,459.7 L698.3,456.9 L698.2,458.8Z M717.6,465.9 L720.0,466.5 L719.9,468.3 L726.6,466.8 L720.3,464.0 L720.1,465.8Z M730.4,461.2 L729.6,460.0 L730.8,458.6 L725.2,456.5 L727.9,461.9 L729.1,460.5Z M750.6,464.9 L745.5,473.0 L743.9,472.0 L742.6,478.8 L747.8,474.2 L746.2,473.3Z M463.8,483.1 L464.5,484.1 L463.3,485.6 L468.5,486.9 L466.1,482.1 L465.0,483.6Z M474.6,477.0 L473.8,478.2 L472.1,477.6 L472.3,483.6 L476.2,479.0 L474.5,478.4Z M494.1,470.0 L493.6,468.4 L495.2,467.5 L490.0,463.1 L491.4,469.8 L493.0,468.8Z M512.2,472.9 L511.9,475.4 L510.0,475.4 L512.4,481.9 L514.4,475.4 L512.6,475.4Z M528.6,468.9 L531.4,474.8 L529.8,475.7 L534.9,480.3 L533.7,473.5 L532.1,474.4Z M541.7,470.2 L545.6,476.6 L544.1,477.6 L549.5,481.8 L547.7,475.2 L546.2,476.2Z M573.5,476.4 L567.4,469.1 L568.8,467.9 L562.8,464.5 L565.5,470.8 L566.9,469.6Z M577.9,481.2 L577.4,482.6 L575.6,482.4 L577.3,488.2 L580.0,482.8 L578.1,482.6Z M605.8,479.4 L608.3,486.5 L606.6,487.2 L611.0,492.4 L610.6,485.5 L608.9,486.2Z M619.9,482.6 L619.9,483.8 L618.2,484.4 L621.8,488.3 L622.4,483.1 L620.6,483.6Z M636.2,472.8 L632.8,466.1 L634.4,465.2 L629.2,460.7 L630.5,467.4 L632.1,466.5Z M653.3,475.8 L647.9,470.6 L649.1,469.2 L642.7,466.6 L646.2,472.5 L647.4,471.1Z M681.1,477.1 L681.2,478.5 L679.4,479.1 L683.1,483.8 L683.6,477.8 L681.8,478.3Z M695.8,472.1 L690.6,474.0 L689.9,472.3 L684.8,477.0 L691.7,476.3 L690.9,474.7Z M714.7,474.2 L713.7,478.6 L711.8,478.3 L713.0,485.1 L716.2,479.0 L714.3,478.7Z M733.4,469.0 L728.6,474.8 L727.1,473.7 L725.0,480.2 L730.6,476.3 L729.2,475.2Z M743.2,481.1 L738.7,480.4 L738.9,478.5 L732.2,480.1 L738.5,482.9 L738.7,481.1Z M771.2,476.3 L770.1,476.9 L768.8,475.7 L767.1,480.7 L772.0,478.7 L770.6,477.4Z M434.9,487.9 L437.8,484.5 L439.3,485.6 L441.4,479.0 L435.8,483.0 L437.3,484.1Z M451.5,490.0 L448.5,485.4 L449.9,484.3 L444.3,480.4 L446.4,486.9 L447.9,485.8Z M474.0,487.4 L475.0,488.4 L474.1,490.0 L480.0,491.0 L476.3,486.2 L475.4,487.8Z M501.7,499.3 L504.1,503.1 L502.6,504.2 L508.2,508.2 L506.1,501.6 L504.6,502.7Z M506.5,490.6 L512.6,492.8 L512.1,494.6 L518.9,494.4 L513.4,490.4 L512.8,492.2Z M532.0,494.8 L530.0,483.5 L531.8,483.1 L528.3,477.2 L527.5,484.0 L529.3,483.6Z M549.9,496.9 L557.4,497.5 L557.3,499.4 L563.9,497.4 L557.5,495.0 L557.4,496.8Z M569.8,492.7 L568.6,493.5 L567.2,492.2 L564.9,497.7 L570.4,495.2 L569.1,494.0Z M587.0,488.2 L577.3,494.3 L576.2,492.8 L572.1,498.3 L578.7,496.5 L577.7,494.9Z M601.0,487.9 L600.0,486.9 L600.9,485.3 L594.9,484.4 L598.7,489.1 L599.6,487.5Z M617.7,499.3 L619.1,498.9 L620.0,500.5 L623.7,495.7 L617.8,496.7 L618.7,498.3Z M636.4,497.1 L635.0,497.2 L634.4,495.4 L629.7,499.1 L635.7,499.6 L635.2,497.8Z M654.6,494.6 L654.1,495.9 L652.2,495.7 L653.7,501.5 L656.6,496.3 L654.8,496.0Z M668.5,490.4 L663.2,491.8 L662.6,490.0 L657.1,494.1 L663.9,494.2 L663.4,492.4Z M695.2,493.9 L693.9,499.3 L692.1,498.9 L693.1,505.7 L696.4,499.7 L694.6,499.4Z M710.2,493.7 L708.9,494.7 L707.5,493.6 L705.2,499.9 L710.9,496.3 L709.5,495.2Z M720.2,499.2 L722.7,504.1 L721.1,505.0 L726.4,509.5 L724.9,502.8 L723.3,503.7Z M747.5,494.3 L752.8,502.2 L751.3,503.3 L756.9,507.2 L754.9,500.7 L753.4,501.8Z M452.9,510.6 L447.4,510.7 L447.2,508.9 L440.9,511.6 L447.6,513.3 L447.5,511.4Z M515.2,513.1 L510.7,513.1 L510.6,511.2 L504.2,513.9 L510.9,515.6 L510.7,513.8Z M529.1,519.5 L531.8,521.8 L530.7,523.3 L537.3,525.2 L533.2,519.7 L532.2,521.2Z M552.5,507.5 L552.3,500.0 L554.2,499.9 L551.5,493.5 L549.8,500.2 L551.6,500.0Z M563.5,506.6 L563.5,508.2 L561.6,508.6 L565.0,514.5 L566.0,507.8 L564.1,508.1Z M590.4,518.8 L586.9,515.9 L588.0,514.4 L581.4,512.5 L585.5,518.0 L586.5,516.5Z M606.9,513.7 L603.7,512.3 L604.3,510.5 L597.4,510.6 L602.9,514.7 L603.5,513.0Z M613.8,509.7 L613.3,513.2 L611.5,513.1 L613.5,519.7 L615.9,513.3 L614.0,513.2Z M648.5,516.7 L648.7,518.3 L647.0,519.0 L651.2,524.2 L651.1,517.5 L649.4,518.1Z M680.0,506.6 L680.7,508.1 L679.3,509.2 L684.9,512.9 L682.7,506.5 L681.3,507.6Z M695.7,512.6 L699.5,521.3 L697.9,522.1 L702.7,527.0 L701.8,520.2 L700.2,521.0Z M735.0,509.8 L737.3,510.7 L736.9,512.5 L743.7,512.0 L738.0,508.3 L737.5,510.1Z M743.5,507.5 L740.9,509.8 L739.5,508.6 L736.7,514.8 L742.7,511.6 L741.4,510.3Z M765.1,509.6 L762.6,502.5 L764.3,501.8 L759.9,496.6 L760.3,503.5 L762.0,502.8Z M432.5,531.1 L438.5,540.9 L436.9,541.9 L442.3,546.2 L440.6,539.5 L439.1,540.6Z M465.6,536.7 L460.2,535.4 L460.6,533.6 L453.8,534.6 L459.8,537.9 L460.1,536.1Z M471.0,530.4 L477.0,527.8 L477.8,529.4 L482.6,524.5 L475.8,525.5 L476.6,527.1Z M500.1,523.6 L502.1,525.1 L501.3,526.7 L508.0,527.8 L503.3,522.8 L502.5,524.5Z M511.8,530.9 L518.0,535.2 L517.0,536.7 L523.7,538.3 L519.3,533.0 L518.3,534.6Z M536.4,526.1 L539.8,525.1 L540.5,526.8 L545.7,522.4 L538.8,522.7 L539.5,524.5Z M555.6,537.2 L560.8,535.4 L561.5,537.1 L566.6,532.5 L559.8,533.0 L560.5,534.7Z M558.3,529.8 L548.1,524.4 L548.9,522.8 L542.1,521.9 L547.0,526.7 L547.8,525.1Z M590.4,527.1 L585.4,521.5 L586.8,520.2 L580.7,517.0 L583.6,523.2 L584.9,521.9Z M616.8,526.8 L615.2,521.5 L616.9,520.9 L612.5,515.6 L612.8,522.5 L614.5,521.8Z M641.0,530.3 L631.3,536.4 L630.2,534.9 L626.1,540.4 L632.7,538.6 L631.7,537.0Z M678.7,537.6 L678.3,543.1 L676.4,543.1 L678.5,549.6 L680.8,543.1 L679.0,543.1Z M690.3,536.4 L689.1,536.5 L688.4,534.7 L684.7,538.5 L689.9,538.9 L689.3,537.1Z M711.4,530.4 L717.0,540.4 L715.4,541.4 L720.7,545.8 L719.2,539.1 L717.6,540.1Z M734.9,528.6 L732.7,527.3 L733.4,525.6 L726.6,525.2 L731.8,529.7 L732.5,528.0Z M742.1,529.7 L737.7,530.8 L737.1,529.0 L731.6,533.1 L738.5,533.2 L737.9,531.4Z M765.8,531.5 L758.4,525.5 L759.5,524.0 L753.0,521.9 L756.9,527.5 L758.0,526.1Z M435.5,546.6 L439.6,548.5 L439.0,550.2 L445.8,550.4 L440.5,546.1 L439.8,547.8Z M451.1,541.2 L449.5,541.7 L448.6,540.1 L444.1,545.1 L450.8,543.9 L449.9,542.3Z M478.7,543.7 L476.6,545.1 L475.4,543.8 L472.1,549.8 L478.4,547.0 L477.1,545.7Z M490.6,549.5 L497.1,548.8 L497.4,550.7 L503.4,547.5 L496.7,546.3 L497.0,548.1Z M537.3,546.8 L537.3,548.2 L535.6,548.8 L539.2,553.5 L539.8,547.5 L538.0,548.0Z M554.1,555.4 L556.7,559.1 L555.3,560.3 L561.2,563.8 L558.7,557.4 L557.3,558.6Z M560.2,552.9 L559.1,553.5 L557.8,552.3 L556.1,557.3 L561.0,555.3 L559.6,554.0Z M586.9,554.1 L576.3,558.6 L575.5,557.0 L570.6,561.7 L577.4,561.0 L576.6,559.3Z M601.3,546.0 L598.3,544.2 L599.1,542.5 L592.3,541.6 L597.2,546.4 L598.0,544.8Z M627.7,551.6 L627.1,550.3 L628.6,549.2 L623.5,546.0 L625.1,551.8 L626.6,550.7Z M634.9,542.9 L642.4,542.2 L642.6,544.0 L648.8,541.0 L642.0,539.7 L642.3,541.5Z M655.1,552.9 L654.5,554.2 L652.7,553.8 L653.6,559.7 L657.0,554.7 L655.2,554.3Z M689.0,552.2 L681.7,550.4 L682.1,548.6 L675.3,549.5 L681.2,552.9 L681.6,551.1Z M712.2,541.7 L715.3,532.7 L717.1,533.3 L716.9,526.4 L712.9,532.0 L714.6,532.5Z M727.4,549.6 L721.2,551.7 L720.5,550.0 L715.3,554.5 L722.2,554.1 L721.5,552.4Z M745.5,550.9 L739.1,558.0 L737.7,556.8 L735.2,563.2 L741.1,559.6 L739.7,558.4Z M762.4,540.8 L763.9,541.5 L763.4,543.3 L770.2,542.7 L764.5,539.1 L764.0,540.8Z M441.0,569.0 L442.9,573.1 L441.3,574.0 L446.5,578.5 L445.2,571.8 L443.6,572.7Z M452.3,567.3 L447.0,565.6 L447.5,563.8 L440.7,564.4 L446.4,568.1 L446.9,566.3Z M475.4,563.3 L474.6,560.9 L476.3,560.1 L471.5,555.2 L472.3,562.0 L474.0,561.2Z M495.9,572.3 L489.4,571.6 L489.5,569.8 L482.9,571.6 L489.3,574.2 L489.4,572.3Z M519.8,562.6 L519.8,567.1 L518.0,567.3 L520.8,573.6 L522.4,566.9 L520.5,567.1Z M531.3,560.5 L529.3,557.6 L530.7,556.4 L524.9,552.8 L527.4,559.2 L528.8,558.0Z M550.1,558.1 L548.7,557.8 L548.7,555.9 L543.1,558.2 L548.7,560.3 L548.7,558.5Z M572.8,566.2 L571.7,565.5 L572.3,563.8 L567.0,564.5 L571.0,568.0 L571.6,566.2Z M586.6,564.4 L584.7,575.7 L582.8,575.5 L584.1,582.2 L587.2,576.1 L585.3,575.8Z M614.3,558.4 L613.6,559.4 L611.8,558.8 L612.2,564.0 L616.0,560.3 L614.2,559.6Z M631.4,570.8 L627.2,574.4 L625.9,573.0 L622.8,579.1 L629.0,576.2 L627.7,574.9Z M662.4,566.1 L664.8,573.2 L663.0,573.9 L667.4,579.2 L667.1,572.3 L665.4,573.0Z M666.9,559.2 L666.7,560.8 L664.8,560.9 L667.5,567.2 L669.2,560.6 L667.4,560.8Z M692.0,563.5 L691.5,561.0 L693.2,560.4 L688.9,555.0 L689.1,561.9 L690.8,561.3Z M713.0,565.1 L703.4,558.7 L704.4,557.1 L697.7,555.6 L702.1,560.9 L703.1,559.3Z M732.8,569.4 L733.1,571.0 L731.4,571.7 L735.9,576.8 L735.5,570.0 L733.7,570.7Z M739.9,565.6 L738.8,566.2 L737.5,565.0 L735.8,570.0 L740.7,568.0 L739.3,566.7Z M443.1,588.1 L437.8,580.2 L439.3,579.1 L433.7,575.2 L435.7,581.7 L437.2,580.6Z M462.0,586.7 L463.0,581.3 L464.9,581.5 L463.5,574.8 L460.5,581.0 L462.3,581.2Z M480.6,590.0 L476.7,584.8 L478.1,583.6 L472.2,580.0 L474.7,586.4 L476.2,585.2Z M493.9,582.2 L495.0,581.7 L496.3,583.0 L498.4,578.2 L493.3,579.8 L494.6,581.1Z M512.0,591.7 L513.8,582.4 L515.7,582.7 L514.5,575.9 L511.3,582.0 L513.1,582.3Z M533.1,584.3 L532.2,580.9 L533.9,580.2 L529.5,575.0 L529.8,581.8 L531.5,581.2Z M540.4,580.3 L539.4,581.4 L537.8,580.5 L537.0,586.4 L541.6,582.6 L540.0,581.7Z M572.8,590.6 L568.8,599.2 L567.1,598.5 L566.5,605.3 L571.1,600.2 L569.4,599.5Z M585.9,591.4 L581.6,592.8 L580.9,591.0 L575.7,595.5 L582.6,595.1 L581.9,593.4Z M623.3,576.8 L616.6,580.1 L615.7,578.5 L611.1,583.6 L617.8,582.4 L616.9,580.7Z M634.0,579.2 L635.1,581.4 L633.6,582.5 L639.2,586.6 L637.2,580.0 L635.7,581.0Z M653.4,591.3 L643.5,597.1 L642.5,595.5 L638.1,600.8 L644.8,599.3 L643.8,597.7Z M674.5,579.4 L669.0,582.8 L667.9,581.3 L663.9,586.9 L670.4,584.9 L669.4,583.4Z M690.9,583.6 L687.4,594.6 L685.6,594.0 L685.9,600.9 L689.8,595.3 L688.1,594.8Z M710.9,586.3 L712.5,589.4 L711.0,590.4 L716.3,594.7 L714.7,588.0 L713.1,589.0Z M720.2,577.4 L720.0,578.6 L718.2,578.9 L721.0,583.3 L722.5,578.3 L720.7,578.5Z M747.8,578.9 L744.1,587.6 L742.3,587.0 L742.1,593.8 L746.4,588.6 L744.7,587.9Z M434.0,600.8 L436.5,600.6 L436.9,602.4 L442.8,598.9 L436.0,598.1 L436.4,599.9Z M460.4,604.9 L461.2,605.8 L460.3,607.4 L465.5,608.0 L462.6,603.6 L461.6,605.2Z M477.0,597.9 L482.4,598.8 L482.2,600.7 L488.9,599.2 L482.7,596.3 L482.5,598.1Z M487.2,600.3 L487.2,601.7 L485.4,602.2 L489.0,607.1 L489.7,601.1 L487.9,601.6Z M507.9,605.9 L512.1,604.2 L512.9,605.8 L517.7,600.9 L510.9,601.9 L511.8,603.5Z M553.4,605.5 L557.4,601.7 L558.8,603.0 L561.6,596.7 L555.5,600.0 L556.9,601.2Z M580.3,597.3 L581.3,599.6 L579.7,600.6 L584.9,605.0 L583.5,598.3 L581.9,599.3Z M601.2,599.0 L595.8,597.9 L596.1,596.1 L589.3,597.3 L595.4,600.4 L595.7,598.6Z M613.4,605.8 L618.0,611.8 L616.5,613.0 L622.4,616.5 L619.9,610.1 L618.5,611.3Z M637.3,600.0 L632.8,603.2 L631.6,601.8 L628.0,607.6 L634.4,605.2 L633.2,603.7Z M651.6,597.7 L649.3,606.9 L647.5,606.5 L648.3,613.4 L651.8,607.4 L650.0,607.1Z M676.5,604.7 L675.7,616.2 L673.9,616.1 L675.9,622.7 L678.3,616.3 L676.4,616.2Z M685.4,603.4 L677.3,598.3 L678.3,596.7 L671.5,595.4 L676.1,600.6 L677.0,599.0Z M713.4,594.3 L710.8,599.2 L709.2,598.4 L708.5,605.3 L713.2,600.2 L711.5,599.5Z M723.5,600.4 L721.7,598.6 L722.8,597.2 L716.2,595.1 L720.2,600.7 L721.3,599.2Z M432.4,624.0 L436.5,630.3 L435.0,631.4 L440.6,635.3 L438.6,628.8 L437.1,629.9Z M454.4,621.1 L451.0,626.7 L449.4,625.8 L448.3,632.6 L453.3,627.9 L451.7,627.0Z M482.8,624.7 L480.9,630.9 L479.1,630.5 L479.7,637.3 L483.4,631.5 L481.6,631.1Z M498.9,618.7 L507.9,621.8 L507.3,623.6 L514.2,623.4 L508.6,619.4 L508.1,621.1Z M511.4,620.9 L512.6,620.9 L513.2,622.7 L517.1,619.1 L511.9,618.4 L512.4,620.2Z M544.8,623.1 L542.7,624.5 L541.5,623.2 L538.2,629.2 L544.5,626.4 L543.2,625.1Z M562.4,617.7 L562.9,618.9 L561.4,620.0 L566.1,622.4 L564.9,617.3 L563.4,618.4Z M582.5,624.6 L580.0,633.8 L578.2,633.4 L578.9,640.2 L582.5,634.4 L580.7,633.9Z M613.4,624.7 L610.4,626.5 L609.3,625.0 L605.3,630.6 L611.9,628.5 L610.8,627.0Z M639.3,622.6 L636.6,626.2 L635.0,625.2 L633.3,631.8 L638.7,627.6 L637.1,626.6Z M651.4,623.3 L646.9,623.2 L646.8,621.3 L640.4,623.9 L647.0,625.7 L646.9,623.9Z M698.7,624.6 L705.9,622.4 L706.5,624.1 L711.9,619.8 L705.0,620.0 L705.6,621.7Z M717.8,615.6 L719.6,624.9 L717.8,625.4 L721.4,631.2 L722.1,624.4 L720.3,624.8Z M443.9,642.3 L453.2,644.1 L452.9,646.0 L459.7,644.8 L453.6,641.6 L453.3,643.4Z M455.2,639.5 L450.1,635.4 L451.2,633.9 L444.7,631.9 L448.6,637.5 L449.7,636.0Z M486.3,641.2 L489.6,642.5 L489.1,644.3 L495.9,644.0 L490.3,640.0 L489.8,641.8Z M544.0,630.1 L543.4,633.6 L541.6,633.4 L543.3,640.1 L546.0,633.7 L544.1,633.6Z M558.3,635.0 L559.6,638.3 L558.0,639.1 L563.0,643.8 L561.9,637.1 L560.3,637.9Z M578.6,631.5 L576.7,629.9 L577.6,628.3 L571.0,626.7 L575.3,632.0 L576.3,630.5Z M599.0,644.2 L591.2,649.6 L590.1,648.2 L586.2,653.8 L592.7,651.7 L591.6,650.2Z M623.5,633.9 L626.3,637.5 L624.9,638.7 L630.9,642.1 L628.1,635.8 L626.8,637.0Z M638.1,637.5 L635.4,630.5 L637.1,629.8 L632.4,624.7 L633.0,631.5 L634.7,630.8Z M661.5,634.6 L658.6,639.3 L657.0,638.4 L655.9,645.2 L660.9,640.5 L659.2,639.6Z M666.5,642.7 L668.3,645.7 L666.8,646.8 L672.4,650.8 L670.3,644.2 L668.8,645.3Z M561.9,656.0 L557.5,666.6 L555.7,665.9 L555.4,672.8 L559.8,667.5 L558.1,666.9Z M584.7,653.4 L580.1,663.9 L578.4,663.2 L578.0,670.1 L582.4,664.9 L580.7,664.2Z M605.5,662.8 L604.2,665.0 L602.5,664.2 L602.0,671.1 L606.5,666.0 L604.8,665.2Z M624.2,653.3 L627.1,646.4 L628.8,647.0 L629.0,640.1 L624.7,645.5 L626.4,646.1Z M632.9,651.0 L632.5,653.5 L630.6,653.4 L632.6,660.0 L635.0,653.6 L633.2,653.5Z M460.8,667.1 L458.7,668.5 L457.5,667.2 L454.2,673.2 L460.5,670.4 L459.2,669.1Z M600.9,711.3 L602.5,720.7 L600.7,721.0 L604.2,727.0 L605.0,720.1 L603.2,720.5Z M604.8,724.1 L598.8,726.5 L598.0,724.9 L593.0,729.6 L599.8,728.8 L599.1,727.2Z M133.0,291.0 L131.9,291.0 L131.3,289.3 L128.3,292.7 L132.8,293.4 L132.2,291.7Z M205.0,290.0 L204.2,289.3 L204.8,287.6 L200.3,288.3 L203.3,291.7 L203.9,290.0Z M231.0,227.0 L230.7,228.6 L228.8,228.6 L231.0,235.0 L233.2,228.6 L231.3,228.6Z M265.0,218.0 L263.6,217.9 L263.2,216.1 L258.1,219.2 L264.0,220.4 L263.7,218.6Z M267.0,237.0 L268.5,237.6 L268.2,239.4 L274.9,238.4 L269.0,235.1 L268.6,236.9Z M282.0,243.0 L283.4,243.3 L283.4,245.2 L289.0,243.0 L283.4,240.8 L283.4,242.7Z M300.0,245.0 L301.4,245.3 L301.4,247.2 L307.0,245.0 L301.4,242.8 L301.4,244.7Z M316.0,247.0 L317.6,246.6 L318.4,248.3 L323.3,243.6 L316.5,244.3 L317.3,246.0Z M318.0,200.0 L318.1,198.8 L320.0,198.4 L317.0,194.1 L315.6,199.2 L317.4,198.9Z M322.0,288.0 L321.9,289.6 L320.1,290.0 L323.4,295.9 L324.4,289.2 L322.6,289.5Z M370.0,285.0 L369.0,286.0 L367.4,285.1 L366.5,291.1 L371.2,287.3 L369.6,286.4Z M140.0,323.0 L139.8,324.0 L138.0,324.4 L140.9,327.9 L142.3,323.6 L140.5,323.9Z M180.0,354.0 L179.0,353.6 L179.0,351.8 L175.0,354.0 L179.0,356.2 L179.0,354.4Z M282.0,336.0 L281.6,337.0 L279.7,336.8 L281.6,341.0 L284.1,337.2 L282.3,337.0Z M400.0,333.0 L402.5,333.0 L402.8,334.8 L408.9,331.7 L402.2,330.5 L402.4,332.3Z M195.0,428.0 L197.5,427.8 L197.9,429.6 L203.8,426.1 L197.0,425.3 L197.4,427.1Z M283.0,454.0 L281.6,453.6 L281.6,451.8 L276.0,454.0 L281.6,456.2 L281.6,454.4Z M242.0,502.0 L244.5,502.6 L244.3,504.4 L251.0,502.8 L244.7,500.0 L244.5,501.9Z M328.0,535.0 L326.4,534.5 L326.6,532.7 L320.0,534.3 L326.2,537.1 L326.4,535.2Z M365.0,389.0 L364.8,387.4 L366.5,386.7 L362.3,381.5 L362.4,388.2 L364.1,387.6Z M364.0,440.0 L363.6,440.8 L361.8,440.8 L364.0,444.0 L366.2,440.8 L364.4,440.8Z M404.0,502.0 L405.6,502.4 L405.6,504.2 L412.0,502.0 L405.6,499.8 L405.6,501.6Z M436.0,410.0 L435.6,408.4 L437.3,407.6 L432.6,402.7 L433.3,409.5 L435.0,408.7Z M370.0,315.0 L371.2,314.2 L372.6,315.3 L374.5,309.6 L369.2,312.5 L370.6,313.7Z M300.0,430.0 L298.8,429.9 L298.4,428.0 L294.1,431.0 L299.2,432.4 L298.9,430.6Z M250.0,400.0 L251.0,400.7 L250.4,402.5 L255.6,402.1 L251.9,398.3 L251.2,400.1Z M160.0,450.0 L160.5,450.9 L159.4,452.3 L163.8,453.2 L162.2,449.0 L161.0,450.4Z" fill="#3c4030" stroke="#3c4030" stroke-width="0.7" opacity="0.85"/>
<path d="M811.7,591.5 L811.7,612" stroke="#9a9a9a" stroke-width="6" fill="none"/>
<path d="M813.2,591.5 L813.2,612.0" stroke="#555" stroke-width="2.6" fill="none"/>
<path d="M805,646.5 L796.5,663.5" stroke="#9a9a9a" stroke-width="6" fill="none"/>
<path d="M806.3,647.2 L797.8,664.2" stroke="#555" stroke-width="2.6" fill="none"/>
<path d="M781.7,699.5 L775,718.5" stroke="#9a9a9a" stroke-width="6" fill="none"/>
<path d="M783.1,700.0 L776.4,719.0" stroke="#555" stroke-width="2.6" fill="none"/>
</g>
<text class="c" x="272.30" y="263.64">乌鲁木齐</text>
<text class="c" x="768.80" y="215.24">哈尔滨</text>
<text class="c" x="767.00" y="250.24">长春</text>
<text class="c" x="750.30" y="294.24">沈阳</text>
<text class="c" x="584.70" y="329.94">呼和浩特</text>
<text class="c" x="660.00" y="336.64">北京</text>
<text class="c" x="674.50" y="354.94">天津</text>
<text class="c" x="522.70" y="374.94">银川</text>
<text class="c" x="613.00" y="382.24">太原</text>
<text class="c" x="634.50" y="376.64">石家庄</text>
<text class="c" x="678.70" y="397.64">济南</text>
<text class="c" x="461.00" y="407.64">西宁</text>
<text class="c" x="490.30" y="418.24">兰州</text>
<text class="c" x="632.00" y="436.64">郑州</text>
<text class="c" x="566.30" y="449.94">西安</text>
<text class="c" x="689.00" y="480.94">合肥</text>
<text class="c" x="648.70" y="507.94">武汉</text>
<text class="c" x="493.00" y="514.94">成都</text>
<text class="c" x="532.70" y="535.64">重庆</text>
<text class="c" x="676.50" y="539.24">南昌</text>
<text class="c" x="631.00" y="551.24">长沙</text>
<text class="c" x="713.70" y="474.94">南京</text>
<text class="c" x="757.00" y="483.24">上海</text>
<text class="c" x="737.50" y="506.44">杭州</text>
<text class="c" x="294.30" y="511.64">拉萨</text>
<text class="c" x="534.70" y="586.64">贵阳</text>
<text class="c" x="471.30" y="613.24">昆明</text>
<text class="c" x="563.70" y="652.24">南宁</text>
<text class="c" x="593.00" y="703.24">海口</text>
<text class="c" x="637.00" y="744.94">三沙</text>
<text class="c" x="647.00" y="640.94">广州</text>
<text class="c" x="635.00" y="668.94">澳门</text>
<text class="c" x="677.50" y="654.94">香港</text>
<text class="c" x="735.30" y="578.24">福州</text>
<text class="c" x="812.20" y="556.64">赤尾屿</text>
<text class="c" x="798.20" y="573.24">钓鱼岛</text>
<text class="c" x="773.70" y="593.24">台北</text>
<text class="c" x="730.70" y="623.24">澎湖列岛</text>
<rect x="827.3" y="612.2" width="99.70000000000005" height="137.5999999999999" fill="#fff" stroke="none"/>
<g clip-path="url(#insetclip)"><path d="M825.8,610.8 L897.7,610.8 L893.8,618.0 L887.5,621.9 L879.8,626.1 L872.2,629.9 L864.5,633.8 L858.7,635.7 L854.9,638.8 L849.2,636.8 L841.5,633.8 L835.7,629.9 L830.0,624.2 L825.8,619.4Z" fill="#999" stroke="#999" stroke-width="2.2" stroke-linejoin="round"/><path d="M825.8,610.8 L897.7,610.8 L893.8,618.0 L887.5,621.9 L879.8,626.1 L872.2,629.9 L864.5,633.8 L858.7,635.7 L854.9,638.8 L849.2,636.8 L841.5,633.8 L835.7,629.9 L830.0,624.2 L825.8,619.4Z" fill="#cfd832" stroke="#444" stroke-width="0.6"/><ellipse cx="869.9" cy="618.4" rx="8.6" ry="4.2" fill="#7fd63a" clip-path="url(#insetland)"/><ellipse cx="883.3" cy="615.5" rx="5.8" ry="2.7" fill="#6cd238" clip-path="url(#insetland)"/><ellipse cx="831.5" cy="616.5" rx="4.2" ry="2.7" fill="#a9d836" clip-path="url(#insetland)"/><ellipse cx="856.4" cy="626.1" rx="5.8" ry="3.1" fill="#b4d934" clip-path="url(#insetland)"/><ellipse cx="843.0" cy="622.3" rx="5.8" ry="3.5" fill="#e3d230" clip-path="url(#insetland)"/><path d="M848.8,614.6 L853.6,623.2 L850.7,629.9" fill="none" stroke="#3a3f2c" stroke-width="0.9"/><path d="M853.6,623.2 L861.2,621.3" fill="none" stroke="#3a3f2c" stroke-width="0.9"/><path d="M864.1,613.6 L861.2,621.3 L866.0,627.1" fill="none" stroke="#3a3f2c" stroke-width="0.9"/><path d="M837.3,616.5 L843.0,621.3 L841.1,627.1" fill="none" stroke="#3a3f2c" stroke-width="0.9"/><path d="M875.6,613.6 L877.5,620.3 L883.3,623.2" fill="none" stroke="#3a3f2c" stroke-width="0.9"/><path d="M831.5,622.3 L838.2,626.1" fill="none" stroke="#3a3f2c" stroke-width="0.9"/><path d="M869.9,624.2 L874.7,629.0" fill="none" stroke="#3a3f2c" stroke-width="0.9"/><path d="M883.3,612.7 L888.1,618.4" fill="none" stroke="#3a3f2c" stroke-width="0.9"/><ellipse cx="853.0" cy="648.2" rx="7.3" ry="5.6" transform="rotate(-22 853.0 648.2)" fill="#999"/><ellipse cx="853.0" cy="648.2" rx="5.9" ry="4.2" transform="rotate(-22 853.0 648.2)" fill="#72d23c" stroke="#444" stroke-width="0.5"/><path d="M850.7,641.1 l3,-3 l1.5,4z" fill="#fff" stroke="#666" stroke-width="0.4"/><ellipse cx="911.3" cy="617.7" rx="3.6" ry="7.7" transform="rotate(12 911.3 617.7)" fill="#8ad640" stroke="#999" stroke-width="0.8"/><rect x="916.5" y="625.5" width="2.6" height="7" fill="#8a8a8a" transform="rotate(22 917.8 629.0)"/><rect x="907.9" y="642.7" width="2.6" height="7" fill="#8a8a8a" transform="rotate(14 909.2 646.2)"/><rect x="906.6" y="661.3" width="2.6" height="7" fill="#8a8a8a" transform="rotate(4 907.9 664.8)"/><rect x="908.5" y="686.3" width="2.6" height="7" fill="#8a8a8a" transform="rotate(10 909.8 689.8)"/><rect x="893.9" y="712.4" width="2.6" height="7" fill="#8a8a8a" transform="rotate(30 895.2 715.9)"/><rect x="873.4" y="740.0" width="2.6" height="7" fill="#8a8a8a" transform="rotate(72 874.7 743.5)"/><rect x="846.1" y="722.7" width="2.6" height="7" fill="#8a8a8a" transform="rotate(-2 847.4 726.2)"/><rect x="857.1" y="689.7" width="2.6" height="7" fill="#8a8a8a" transform="rotate(5 858.4 693.2)"/><rect x="851.7" y="665.8" width="2.6" height="7" fill="#8a8a8a" transform="rotate(-28 853.0 669.3)"/><rect x="902.7" y="614.2" width="2.6" height="7" fill="#8a8a8a" transform="rotate(18 904.0 617.7)"/><rect x="918.4" y="610.5" width="2.6" height="7" fill="#8a8a8a" transform="rotate(10 919.7 614.0)"/><path d="M865.9,662.2l-0.3,0.6M867.2,663.0l1.2,0.2M864.2,663.3l0.7,0.2M866.5,664.7l0.8,0.3M867.8,665.2l-0.3,1.0M869.9,661.8l-0.9,0.4M864.8,662.1l0.9,1.3M879.7,666.6l-0.4,0.9M881.6,665.0l0.8,0.2M882.3,666.1l0.7,1.1M881.1,665.7l-1.1,0.9M880.0,666.6l-0.1,1.6M895.4,698.5l-0.7,0.0M889.4,703.9l1.1,0.5M882.1,702.8l-1.0,0.9M898.2,698.8l-0.8,1.1M892.5,700.4l-1.5,0.8M890.5,702.8l1.4,0.3M893.8,706.6l-0.8,0.5M888.8,702.8l1.2,0.1M884.6,696.5l1.5,0.3M883.9,698.0l0.6,1.5M882.9,700.3l-0.3,1.6M897.1,705.1l0.7,0.8M888.3,705.3l-0.8,0.1M884.8,697.8l0.9,0.8M892.7,698.2l1.1,0.0M888.5,701.7l-1.4,0.2M891.3,702.3l-0.3,0.6M898.6,704.1l-1.4,0.6M888.9,699.7l1.3,0.4M882.6,695.9l0.6,0.5M887.9,695.8l0.8,0.0M883.3,699.3l1.6,0.1M886.2,712.6l0.7,0.7M884.1,712.4l-1.6,0.8M884.9,714.3l0.7,0.2M883.9,713.1l-0.7,0.4M881.2,716.6l-0.1,0.8M885.6,711.9l-0.2,1.8M888.3,715.3l0.7,0.8M882.4,715.7l-0.2,1.5M857.4,717.3l-1.5,1.0M860.3,719.2l-1.3,0.8M856.9,718.2l0.3,0.6M855.8,717.5l1.0,1.0M860.8,718.0l-1.8,0.4M876.7,635.5l0.7,0.6M874.9,635.3l-0.6,1.6M886.8,634.7l-0.7,1.4M885.4,634.9l-1.5,0.4M900.9,695.1l1.3,0.8M898.7,696.1l-1.1,0.1M899.1,696.6l-0.5,0.6M897.6,694.0l-1.5,0.5M897.7,696.2l-1.4,0.1M867.8,709.8l0.6,0.2M872.5,710.2l-0.1,1.7M868.4,711.3l-0.7,0.4M867.0,708.6l0.9,0.9M867.1,709.2l1.6,0.7M867.8,709.3l-0.4,1.6M877.3,732.4l-0.0,1.2M877.6,730.7l0.2,0.8M876.0,732.1l1.0,0.6M887.3,677.0l0.6,1.0" stroke="#888" stroke-width="0.8" fill="none"/><ellipse cx="881.0" cy="666.4" rx="3.2" ry="1.5" transform="rotate(-35 881.0 666.4)" fill="none" stroke="#888" stroke-width="0.6"/></g><text class="n" x="894.18" y="640.25">南</text><text class="n" x="890.73" y="668.06">海</text><text class="n" x="882.09" y="696.84">诸</text><text class="n" x="863.49" y="728.49">岛</text>
<rect x="827.3" y="612.2" width="99.70000000000005" height="137.5999999999999" fill="none" stroke="#000" stroke-width="1.6"/>
<rect x="62.6" y="72.3" width="864.4" height="677.5" fill="none" stroke="#000" stroke-width="1.2"/>
<text x="104.2" y="61.4" textLength="15.6" lengthAdjust="spacingAndGlyphs" style="font-family:'Liberation Sans',sans-serif;font-size:15px">70</text><circle cx="124.9" cy="52.3" r="1.45" fill="none" stroke="#000" stroke-width="0.9"/><text x="137.4" y="61.4" textLength="7.8" lengthAdjust="spacingAndGlyphs" style="font-family:'Liberation Sans',sans-serif;font-size:15px;font-size:15px" stroke="#000" stroke-width="0.1">E</text>
<text x="222.1" y="61.4" textLength="15.6" lengthAdjust="spacingAndGlyphs" style="font-family:'Liberation Sans',sans-serif;font-size:15px">80</text><circle cx="242.8" cy="52.3" r="1.45" fill="none" stroke="#000" stroke-width="0.9"/><text x="255.3" y="61.4" textLength="7.8" lengthAdjust="spacingAndGlyphs" style="font-family:'Liberation Sans',sans-serif;font-size:15px;font-size:15px" stroke="#000" stroke-width="0.1">E</text>
<text x="337.1" y="61.4" textLength="15.6" lengthAdjust="spacingAndGlyphs" style="font-family:'Liberation Sans',sans-serif;font-size:15px">90</text><circle cx="357.8" cy="52.3" r="1.45" fill="none" stroke="#000" stroke-width="0.9"/><text x="370.3" y="61.4" textLength="7.8" lengthAdjust="spacingAndGlyphs" style="font-family:'Liberation Sans',sans-serif;font-size:15px;font-size:15px" stroke="#000" stroke-width="0.1">E</text>
<text x="442.0" y="61.4" textLength="23.4" lengthAdjust="spacingAndGlyphs" style="font-family:'Liberation Sans',sans-serif;font-size:15px">100</text><circle cx="470.5" cy="52.3" r="1.45" fill="none" stroke="#000" stroke-width="0.9"/><text x="483.0" y="61.4" textLength="7.8" lengthAdjust="spacingAndGlyphs" style="font-family:'Liberation Sans',sans-serif;font-size:15px;font-size:15px" stroke="#000" stroke-width="0.1">E</text>
<text x="550.4" y="61.4" textLength="23.4" lengthAdjust="spacingAndGlyphs" style="font-family:'Liberation Sans',sans-serif;font-size:15px">110</text><circle cx="578.9" cy="52.3" r="1.45" fill="none" stroke="#000" stroke-width="0.9"/><text x="591.4" y="61.4" textLength="7.8" lengthAdjust="spacingAndGlyphs" style="font-family:'Liberation Sans',sans-serif;font-size:15px;font-size:15px" stroke="#000" stroke-width="0.1">E</text>
<text x="661.0" y="61.4" textLength="23.4" lengthAdjust="spacingAndGlyphs" style="font-family:'Liberation Sans',sans-serif;font-size:15px">120</text><circle cx="689.5" cy="52.3" r="1.45" fill="none" stroke="#000" stroke-width="0.9"/><text x="702.0" y="61.4" textLength="7.8" lengthAdjust="spacingAndGlyphs" style="font-family:'Liberation Sans',sans-serif;font-size:15px;font-size:15px" stroke="#000" stroke-width="0.1">E</text>
<text x="774.3" y="61.4" textLength="23.4" lengthAdjust="spacingAndGlyphs" style="font-family:'Liberation Sans',sans-serif;font-size:15px">130</text><circle cx="802.8" cy="52.3" r="1.45" fill="none" stroke="#000" stroke-width="0.9"/><text x="815.3" y="61.4" textLength="7.8" lengthAdjust="spacingAndGlyphs" style="font-family:'Liberation Sans',sans-serif;font-size:15px;font-size:15px" stroke="#000" stroke-width="0.1">E</text>
<text x="893.4" y="61.4" textLength="23.4" lengthAdjust="spacingAndGlyphs" style="font-family:'Liberation Sans',sans-serif;font-size:15px">140</text><circle cx="921.9" cy="52.3" r="1.45" fill="none" stroke="#000" stroke-width="0.9"/><text x="934.4" y="61.4" textLength="7.8" lengthAdjust="spacingAndGlyphs" style="font-family:'Liberation Sans',sans-serif;font-size:15px;font-size:15px" stroke="#000" stroke-width="0.1">E</text>
<text x="12.2" y="172.9" textLength="15.6" lengthAdjust="spacingAndGlyphs" style="font-family:'Liberation Sans',sans-serif;font-size:15px">45</text><circle cx="32.9" cy="163.8" r="1.45" fill="none" stroke="#000" stroke-width="0.9"/><text x="45.4" y="172.9" textLength="7.8" lengthAdjust="spacingAndGlyphs" style="font-family:'Liberation Sans',sans-serif;font-size:15px;font-size:15px" stroke="#000" stroke-width="0.4">N</text>
<text x="12.2" y="267.7" textLength="15.6" lengthAdjust="spacingAndGlyphs" style="font-family:'Liberation Sans',sans-serif;font-size:15px">40</text><circle cx="32.9" cy="258.6" r="1.45" fill="none" stroke="#000" stroke-width="0.9"/><text x="45.4" y="267.7" textLength="7.8" lengthAdjust="spacingAndGlyphs" style="font-family:'Liberation Sans',sans-serif;font-size:15px;font-size:15px" stroke="#000" stroke-width="0.4">N</text>
<text x="12.2" y="361.7" textLength="15.6" lengthAdjust="spacingAndGlyphs" style="font-family:'Liberation Sans',sans-serif;font-size:15px">35</text><circle cx="32.9" cy="352.6" r="1.45" fill="none" stroke="#000" stroke-width="0.9"/><text x="45.4" y="361.7" textLength="7.8" lengthAdjust="spacingAndGlyphs" style="font-family:'Liberation Sans',sans-serif;font-size:15px;font-size:15px" stroke="#000" stroke-width="0.4">N</text>
<text x="12.2" y="455.0" textLength="15.6" lengthAdjust="spacingAndGlyphs" style="font-family:'Liberation Sans',sans-serif;font-size:15px">30</text><circle cx="32.9" cy="445.9" r="1.45" fill="none" stroke="#000" stroke-width="0.9"/><text x="45.4" y="455.0" textLength="7.8" lengthAdjust="spacingAndGlyphs" style="font-family:'Liberation Sans',sans-serif;font-size:15px;font-size:15px" stroke="#000" stroke-width="0.4">N</text>
<text x="12.2" y="547.7" textLength="15.6" lengthAdjust="spacingAndGlyphs" style="font-family:'Liberation Sans',sans-serif;font-size:15px">25</text><circle cx="32.9" cy="538.6" r="1.45" fill="none" stroke="#000" stroke-width="0.9"/><text x="45.4" y="547.7" textLength="7.8" lengthAdjust="spacingAndGlyphs" style="font-family:'Liberation Sans',sans-serif;font-size:15px;font-size:15px" stroke="#000" stroke-width="0.4">N</text>
<text x="12.2" y="642.2" textLength="15.6" lengthAdjust="spacingAndGlyphs" style="font-family:'Liberation Sans',sans-serif;font-size:15px">20</text><circle cx="32.9" cy="633.1" r="1.45" fill="none" stroke="#000" stroke-width="0.9"/><text x="45.4" y="642.2" textLength="7.8" lengthAdjust="spacingAndGlyphs" style="font-family:'Liberation Sans',sans-serif;font-size:15px;font-size:15px" stroke="#000" stroke-width="0.4">N</text>
<text x="12.2" y="737.7" textLength="15.6" lengthAdjust="spacingAndGlyphs" style="font-family:'Liberation Sans',sans-serif;font-size:15px">15</text><circle cx="32.9" cy="728.6" r="1.45" fill="none" stroke="#000" stroke-width="0.9"/><text x="45.4" y="737.7" textLength="7.8" lengthAdjust="spacingAndGlyphs" style="font-family:'Liberation Sans',sans-serif;font-size:15px;font-size:15px" stroke="#000" stroke-width="0.4">N</text>
<rect x="948.6" y="72.3" width="21.799999999999955" height="677.7" fill="url(#cbar)" stroke="#000" stroke-width="1"/>
<path d="M970.4,83 h5" stroke="#000" stroke-width="1.2"/>
<text x="981.6" y="88.4" style="font-family:'Liberation Sans',sans-serif;font-size:14.8px">350</text>
<path d="M970.4,192.3 h5" stroke="#000" stroke-width="1.2"/>
<text x="981.6" y="197.7" style="font-family:'Liberation Sans',sans-serif;font-size:14.8px">250</text>
<path d="M970.4,301.7 h5" stroke="#000" stroke-width="1.2"/>
<text x="981.6" y="307.1" style="font-family:'Liberation Sans',sans-serif;font-size:14.8px">150</text>
<path d="M970.4,411 h5" stroke="#000" stroke-width="1.2"/>
<text x="981.6" y="416.4" style="font-family:'Liberation Sans',sans-serif;font-size:14.8px">115</text>
<path d="M970.4,520.3 h5" stroke="#000" stroke-width="1.2"/>
<text x="981.6" y="525.7" style="font-family:'Liberation Sans',sans-serif;font-size:14.8px">75</text>
<path d="M970.4,629.7 h5" stroke="#000" stroke-width="1.2"/>
<text x="981.6" y="635.1" style="font-family:'Liberation Sans',sans-serif;font-size:14.8px">35</text>
<path d="M970.4,739 h5" stroke="#000" stroke-width="1.2"/>
<text x="981.6" y="744.4" style="font-family:'Liberation Sans',sans-serif;font-size:14.8px">0</text>
<text x="948.6" y="62" style="font-family:'Liberation Sans',sans-serif;font-size:18.6px;font-style:italic">μg/m<tspan dx="1.5" dy="-8" font-size="10.5">3</tspan></text>
<path d="M950.4,756.7 L960.6,757.1 L960.6,758.9 L967.1,756.7 L960.6,754.5 L960.6,756.4Z" fill="#666" stroke="#666" stroke-width="0.4"/>
<text x="940.5" y="777.5" textLength="34" lengthAdjust="spacingAndGlyphs" style="font-family:'Liberation Mono',monospace;font-size:12px">4 m/s</text>
<text x="709.20" y="769.81" textLength="215.8" lengthAdjust="spacing" style="font-family:'Liberation Sans','Noto Sans CJK SC',sans-serif;font-size:16.6px">制图单位：中国环境监测总站</text>
<text x="275.6" y="35.4" textLength="52.4" lengthAdjust="spacingAndGlyphs" style="font-family:'Liberation Sans',sans-serif;font-size:25.5px">2025</text><text class="t" x="328.00" y="35.96">年</text><text x="354.2" y="35.4" textLength="26.2" lengthAdjust="spacingAndGlyphs" style="font-family:'Liberation Sans',sans-serif;font-size:25.5px">12</text><text class="t" x="380.40" y="35.96">月</text><text x="406.6" y="35.4" textLength="26.2" lengthAdjust="spacingAndGlyphs" style="font-family:'Liberation Sans',sans-serif;font-size:25.5px">16</text><text class="t" x="432.80" y="35.96">日</text><text x="459.0" y="35.4" textLength="26.2" lengthAdjust="spacingAndGlyphs" style="font-family:'Liberation Sans',sans-serif;font-size:25.5px">00</text><text class="t" x="485.20" y="35.96">时</text><text x="526.5" y="35.4" style="font-family:'Liberation Sans',sans-serif;font-size:26px;font-style:italic">PM<tspan dy="6" font-size="18.5" font-style="normal">2.5</tspan></text><text class="t" x="595.80" y="35.96">浓度</text><path d="M649.6999999999999,26.5 h10 M654.6999999999999,21.5 v10" stroke="#000" stroke-width="1.6"/><text class="t" x="661.30" y="35.96">风场</text>
</svg>
</body></html>
